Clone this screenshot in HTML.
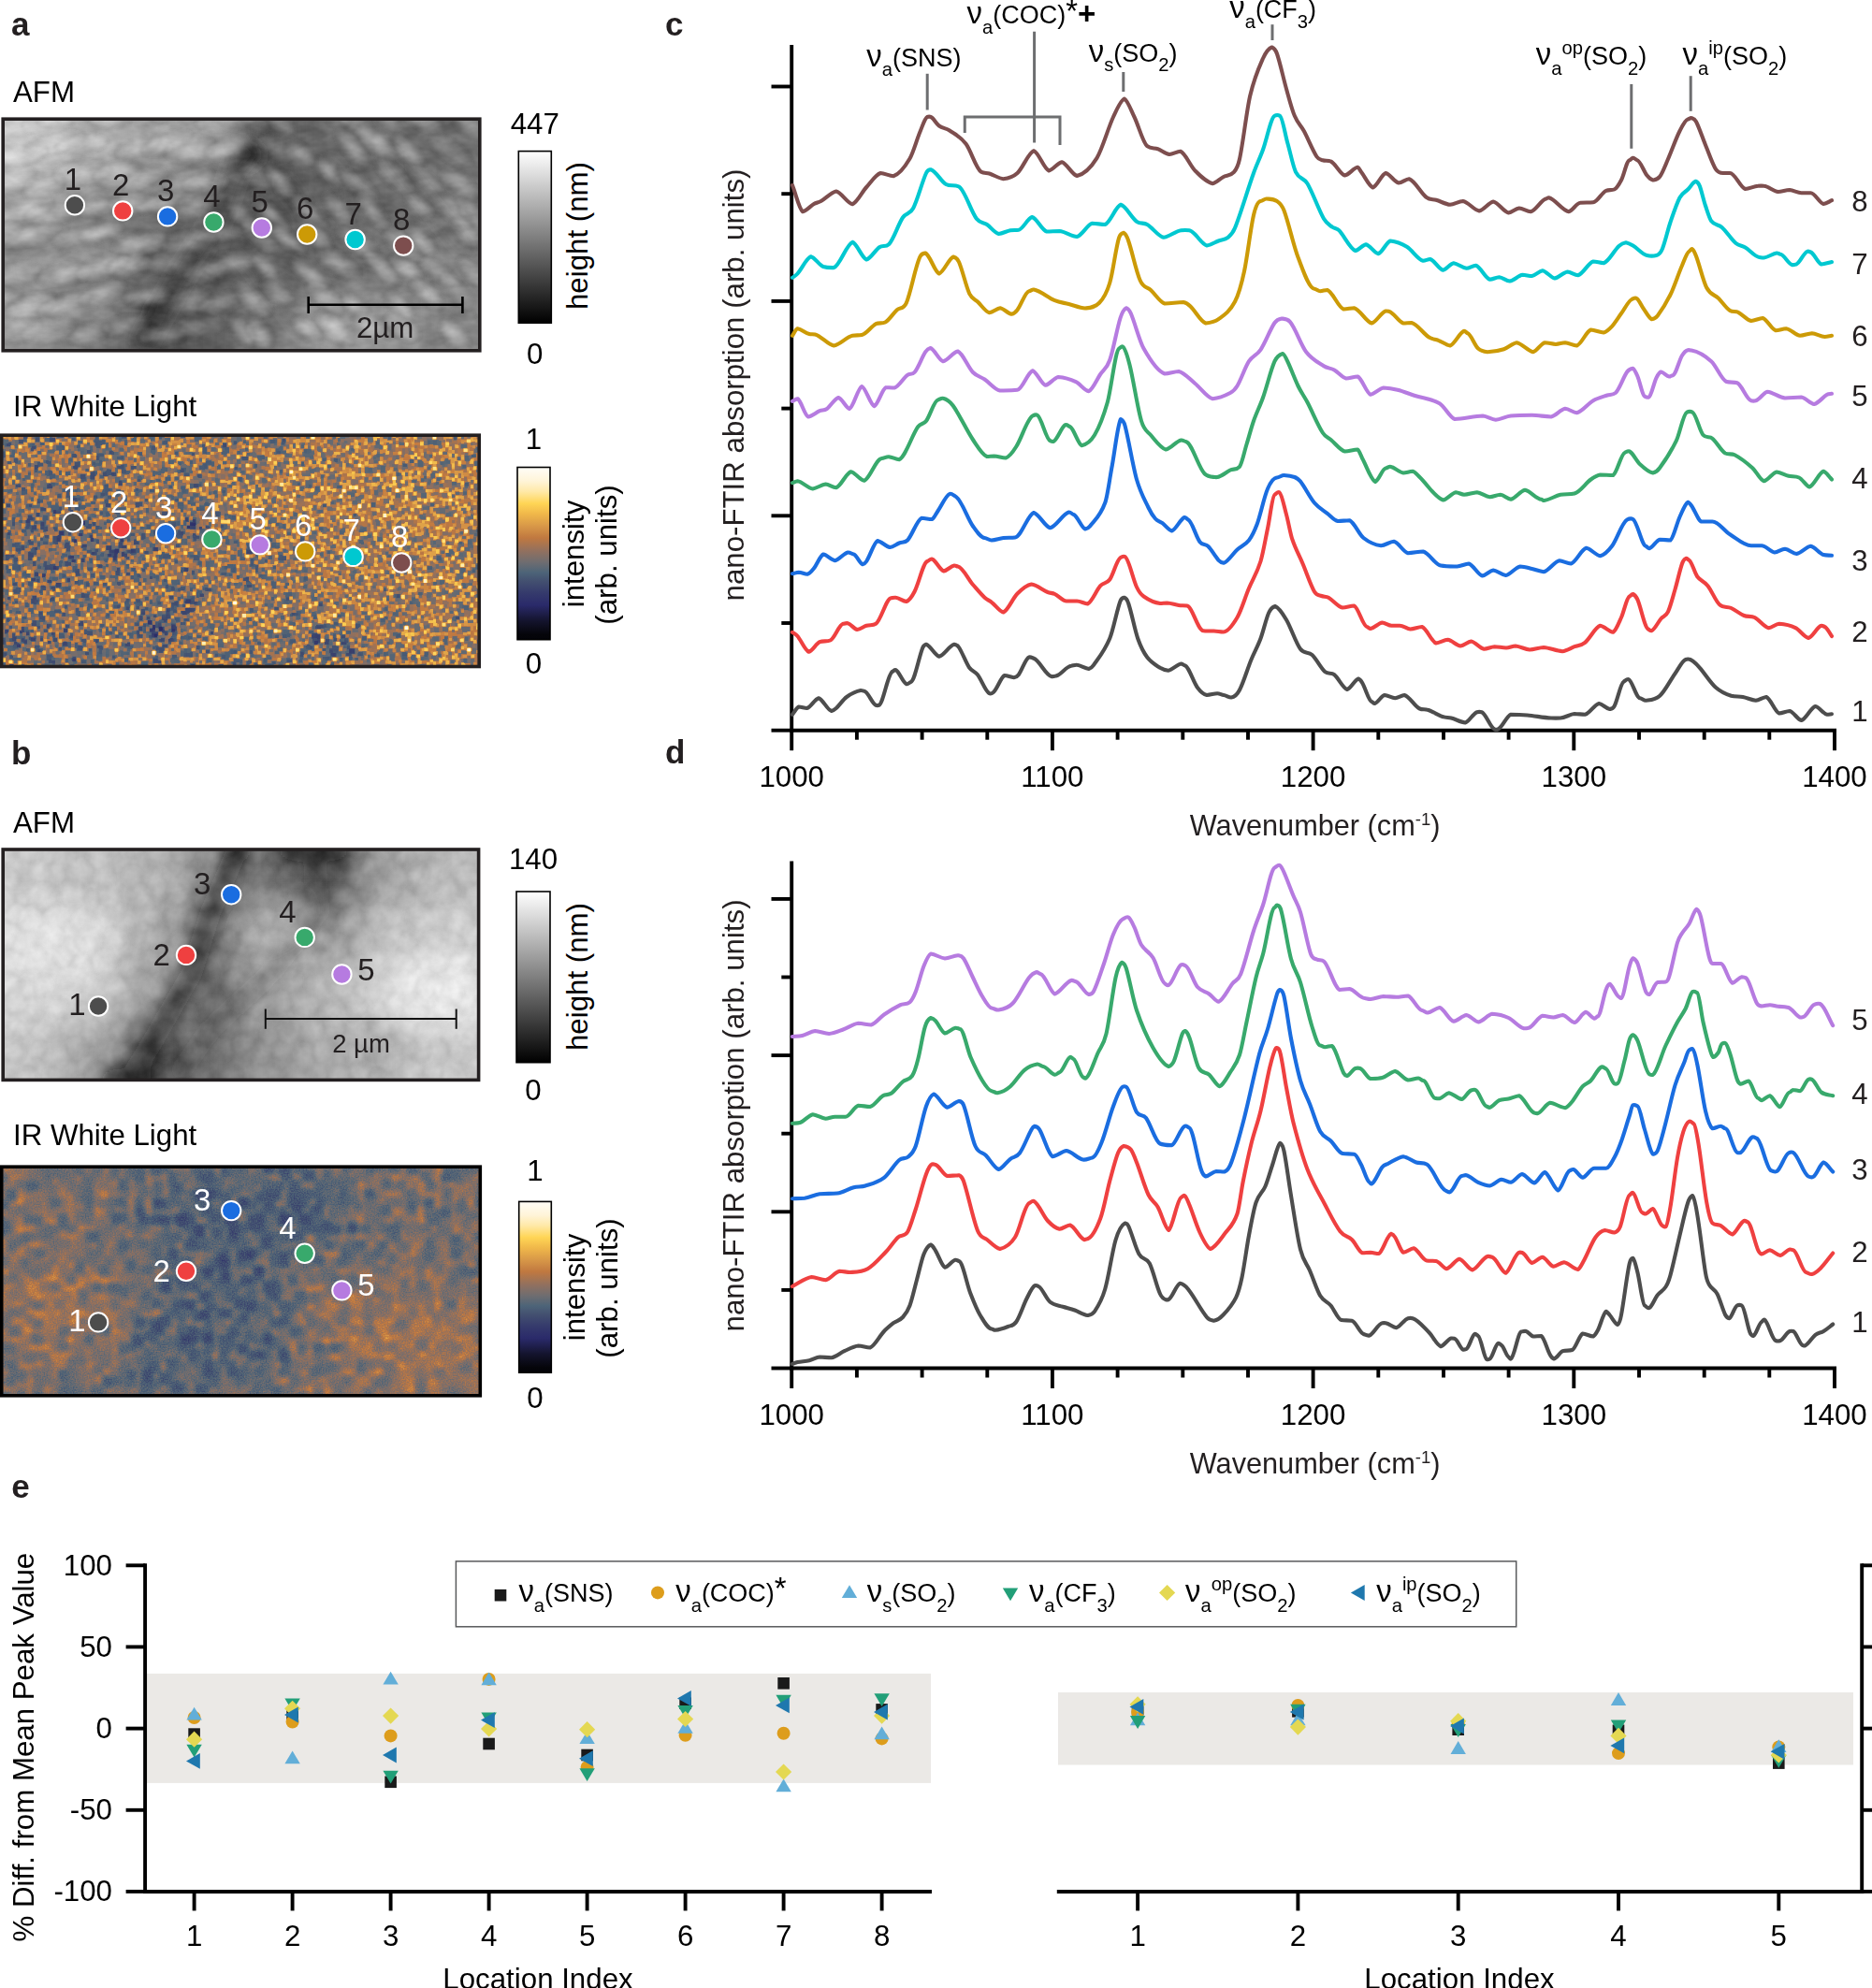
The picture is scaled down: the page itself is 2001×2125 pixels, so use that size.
<!DOCTYPE html>
<html><head><meta charset="utf-8"><title>Figure</title>
<style>
html,body{margin:0;padding:0;background:#fff;}
svg{display:block;font-family:"Liberation Sans", sans-serif;}
</style></head><body>
<svg width="2001" height="2125" viewBox="0 0 2001 2125">
<defs>
<linearGradient id="gGray" x1="0" y1="1" x2="0" y2="0"><stop offset="0" stop-color="#000"/><stop offset="1" stop-color="#fff"/></linearGradient>
<linearGradient id="gIR" x1="0" y1="1" x2="0" y2="0"><stop offset="0.00" stop-color="rgb(3,3,8)"/><stop offset="0.03" stop-color="rgb(5,5,10)"/><stop offset="0.11" stop-color="rgb(20,20,46)"/><stop offset="0.20" stop-color="rgb(42,42,106)"/><stop offset="0.27" stop-color="rgb(53,58,108)"/><stop offset="0.34" stop-color="rgb(67,80,112)"/><stop offset="0.39" stop-color="rgb(77,100,120)"/><stop offset="0.45" stop-color="rgb(111,109,112)"/><stop offset="0.51" stop-color="rgb(143,112,96)"/><stop offset="0.59" stop-color="rgb(192,120,64)"/><stop offset="0.66" stop-color="rgb(216,152,72)"/><stop offset="0.73" stop-color="rgb(240,184,74)"/><stop offset="0.79" stop-color="rgb(255,213,85)"/><stop offset="0.86" stop-color="rgb(255,233,168)"/><stop offset="0.92" stop-color="rgb(255,244,216)"/><stop offset="1.00" stop-color="rgb(255,253,248)"/></linearGradient>
<filter id="fIRa" x="0" y="0" width="100%" height="100%" filterUnits="objectBoundingBox" color-interpolation-filters="sRGB">
<feTurbulence type="fractalNoise" baseFrequency="0.3" numOctaves="1" seed="7" result="n"/>
<feColorMatrix in="n" type="matrix" values="1 0 0 0 0  1 0 0 0 0  1 0 0 0 0  0 0 0 0 1" result="g0"/>
<feMorphology in="g0" operator="dilate" radius="1.6" result="g1"/><feMorphology in="g1" operator="erode" radius="0.8" result="g"/>
<feComposite in="g" in2="SourceGraphic" operator="arithmetic" k1="0" k2="1.9" k3="1.0" k4="-1.22" result="m"/>
<feColorMatrix in="m" type="matrix" values="1 0 0 0 0  1 0 0 0 0  1 0 0 0 0  0 0 0 0 1" result="m2"/>
<feComponentTransfer in="m2"><feFuncR type="table" tableValues="0.012 0.021 0.044 0.066 0.093 0.123 0.153 0.176 0.196 0.217 0.241 0.266 0.290 0.338 0.408 0.475 0.540 0.612 0.687 0.758 0.800 0.842 0.884 0.926 0.961 0.991 1.000 1.000 1.000 1.000 1.000 1.000 1.000"/><feFuncG type="table" tableValues="0.012 0.021 0.044 0.066 0.093 0.123 0.153 0.182 0.210 0.241 0.280 0.320 0.369 0.402 0.420 0.431 0.437 0.448 0.460 0.477 0.533 0.589 0.645 0.701 0.759 0.819 0.861 0.896 0.925 0.947 0.965 0.978 0.992"/><feFuncB type="table" tableValues="0.031 0.041 0.097 0.152 0.220 0.301 0.383 0.418 0.421 0.426 0.433 0.442 0.461 0.462 0.446 0.420 0.387 0.343 0.294 0.253 0.267 0.281 0.285 0.289 0.305 0.327 0.438 0.583 0.706 0.804 0.875 0.924 0.973"/></feComponentTransfer>
</filter>
<filter id="fIRb" x="0" y="0" width="100%" height="100%" filterUnits="objectBoundingBox" color-interpolation-filters="sRGB">
<feTurbulence type="fractalNoise" baseFrequency="0.11" numOctaves="2" seed="11" result="n"/>
<feColorMatrix in="n" type="matrix" values="1 0 0 0 0  1 0 0 0 0  1 0 0 0 0  0 0 0 0 1" result="g0"/>
<feMorphology in="g0" operator="dilate" radius="4" result="g1"/><feMorphology in="g1" operator="erode" radius="4" result="g2"/>
<feGaussianBlur in="g2" stdDeviation="2.1" result="g"/>
<feTurbulence type="fractalNoise" baseFrequency="0.7" numOctaves="1" seed="14" result="n2"/>
<feColorMatrix in="n2" type="matrix" values="1 0 0 0 0  1 0 0 0 0  1 0 0 0 0  0 0 0 0 1" result="f"/>
<feComposite in="g" in2="f" operator="arithmetic" k1="0" k2="0.8" k3="0.22" k4="0" result="gf"/>
<feComposite in="gf" in2="SourceGraphic" operator="arithmetic" k1="0" k2="1" k3="0.8" k4="-0.535" result="m"/>
<feColorMatrix in="m" type="matrix" values="1 0 0 0 0  1 0 0 0 0  1 0 0 0 0  0 0 0 0 1" result="m2"/>
<feComponentTransfer in="m2"><feFuncR type="table" tableValues="0.012 0.021 0.044 0.066 0.093 0.123 0.153 0.176 0.196 0.217 0.241 0.266 0.290 0.338 0.408 0.475 0.540 0.612 0.687 0.758 0.800 0.842 0.884 0.926 0.961 0.991 1.000 1.000 1.000 1.000 1.000 1.000 1.000"/><feFuncG type="table" tableValues="0.012 0.021 0.044 0.066 0.093 0.123 0.153 0.182 0.210 0.241 0.280 0.320 0.369 0.402 0.420 0.431 0.437 0.448 0.460 0.477 0.533 0.589 0.645 0.701 0.759 0.819 0.861 0.896 0.925 0.947 0.965 0.978 0.992"/><feFuncB type="table" tableValues="0.031 0.041 0.097 0.152 0.220 0.301 0.383 0.418 0.421 0.426 0.433 0.442 0.461 0.462 0.446 0.420 0.387 0.343 0.294 0.253 0.267 0.281 0.285 0.289 0.305 0.327 0.438 0.583 0.706 0.804 0.875 0.924 0.973"/></feComponentTransfer>
</filter>
<filter id="fTexA" x="0" y="0" width="100%" height="100%" color-interpolation-filters="sRGB">
<feTurbulence type="fractalNoise" baseFrequency="0.04 0.07" numOctaves="3" seed="5" result="n"/>
<feColorMatrix in="n" type="matrix" values="1 0 0 0 0  1 0 0 0 0  1 0 0 0 0  0 0 0 0 1" result="g"/>
<feComposite in="SourceGraphic" in2="g" operator="arithmetic" k1="0" k2="1" k3="0.2" k4="-0.1"/>
</filter>
<filter id="fTexB" x="0" y="0" width="100%" height="100%" color-interpolation-filters="sRGB">
<feTurbulence type="fractalNoise" baseFrequency="0.06" numOctaves="3" seed="9" result="n"/>
<feColorMatrix in="n" type="matrix" values="1 0 0 0 0  1 0 0 0 0  1 0 0 0 0  0 0 0 0 1" result="g"/>
<feComposite in="SourceGraphic" in2="g" operator="arithmetic" k1="0" k2="1" k3="0.13" k4="-0.065"/>
</filter>
<filter id="b2" x="-50%" y="-50%" width="200%" height="200%"><feGaussianBlur stdDeviation="2"/></filter>
<filter id="b4" x="-50%" y="-50%" width="200%" height="200%"><feGaussianBlur stdDeviation="4"/></filter>
<filter id="b8" x="-50%" y="-50%" width="200%" height="200%"><feGaussianBlur stdDeviation="8"/></filter>
<filter id="b12" x="-50%" y="-50%" width="200%" height="200%"><feGaussianBlur stdDeviation="12"/></filter>
<filter id="b18" x="-50%" y="-50%" width="200%" height="200%"><feGaussianBlur stdDeviation="18"/></filter>
<filter id="b25" x="-50%" y="-50%" width="200%" height="200%"><feGaussianBlur stdDeviation="25"/></filter>
<radialGradient id="gBump"><stop offset="0" stop-color="#fff" stop-opacity="0.9"/><stop offset="0.6" stop-color="#fff" stop-opacity="0.45"/><stop offset="1" stop-color="#fff" stop-opacity="0"/></radialGradient>
<clipPath id="cAa"><rect x="3" y="127" width="510" height="248"/></clipPath>
<clipPath id="cIa"><rect x="0" y="465" width="512" height="247.5"/></clipPath>
<clipPath id="cAb"><rect x="3" y="909" width="508" height="246"/></clipPath>
<clipPath id="cIb"><rect x="0" y="1247" width="513.5" height="245"/></clipPath>
</defs>
<g clip-path="url(#cAa)"><g filter="url(#fTexA)">
<rect x="-2" y="122" width="520" height="258" fill="#888"/>
<g filter="url(#b18)">
<rect x="-61.2" y="64.5" width="64.8" height="63.0" fill="rgb(200,200,200)"/>
<rect x="2.5" y="64.5" width="64.8" height="63.0" fill="rgb(200,200,200)"/>
<rect x="66.2" y="64.5" width="64.8" height="63.0" fill="rgb(172,172,172)"/>
<rect x="130.0" y="64.5" width="64.8" height="63.0" fill="rgb(156,156,156)"/>
<rect x="193.8" y="64.5" width="64.8" height="63.0" fill="rgb(148,148,148)"/>
<rect x="257.5" y="64.5" width="64.8" height="63.0" fill="rgb(88,88,88)"/>
<rect x="321.2" y="64.5" width="64.8" height="63.0" fill="rgb(106,106,106)"/>
<rect x="385.0" y="64.5" width="64.8" height="63.0" fill="rgb(112,112,112)"/>
<rect x="448.8" y="64.5" width="64.8" height="63.0" fill="rgb(108,108,108)"/>
<rect x="512.5" y="64.5" width="64.8" height="63.0" fill="rgb(108,108,108)"/>
<rect x="-61.2" y="126.5" width="64.8" height="63.0" fill="rgb(200,200,200)"/>
<rect x="2.5" y="126.5" width="64.8" height="63.0" fill="rgb(200,200,200)"/>
<rect x="66.2" y="126.5" width="64.8" height="63.0" fill="rgb(172,172,172)"/>
<rect x="130.0" y="126.5" width="64.8" height="63.0" fill="rgb(156,156,156)"/>
<rect x="193.8" y="126.5" width="64.8" height="63.0" fill="rgb(148,148,148)"/>
<rect x="257.5" y="126.5" width="64.8" height="63.0" fill="rgb(88,88,88)"/>
<rect x="321.2" y="126.5" width="64.8" height="63.0" fill="rgb(106,106,106)"/>
<rect x="385.0" y="126.5" width="64.8" height="63.0" fill="rgb(112,112,112)"/>
<rect x="448.8" y="126.5" width="64.8" height="63.0" fill="rgb(108,108,108)"/>
<rect x="512.5" y="126.5" width="64.8" height="63.0" fill="rgb(108,108,108)"/>
<rect x="-61.2" y="188.5" width="64.8" height="63.0" fill="rgb(154,154,154)"/>
<rect x="2.5" y="188.5" width="64.8" height="63.0" fill="rgb(154,154,154)"/>
<rect x="66.2" y="188.5" width="64.8" height="63.0" fill="rgb(134,134,134)"/>
<rect x="130.0" y="188.5" width="64.8" height="63.0" fill="rgb(116,116,116)"/>
<rect x="193.8" y="188.5" width="64.8" height="63.0" fill="rgb(100,100,100)"/>
<rect x="257.5" y="188.5" width="64.8" height="63.0" fill="rgb(86,86,86)"/>
<rect x="321.2" y="188.5" width="64.8" height="63.0" fill="rgb(100,100,100)"/>
<rect x="385.0" y="188.5" width="64.8" height="63.0" fill="rgb(112,112,112)"/>
<rect x="448.8" y="188.5" width="64.8" height="63.0" fill="rgb(118,118,118)"/>
<rect x="512.5" y="188.5" width="64.8" height="63.0" fill="rgb(118,118,118)"/>
<rect x="-61.2" y="250.5" width="64.8" height="63.0" fill="rgb(134,134,134)"/>
<rect x="2.5" y="250.5" width="64.8" height="63.0" fill="rgb(134,134,134)"/>
<rect x="66.2" y="250.5" width="64.8" height="63.0" fill="rgb(134,134,134)"/>
<rect x="130.0" y="250.5" width="64.8" height="63.0" fill="rgb(102,102,102)"/>
<rect x="193.8" y="250.5" width="64.8" height="63.0" fill="rgb(88,88,88)"/>
<rect x="257.5" y="250.5" width="64.8" height="63.0" fill="rgb(96,96,96)"/>
<rect x="321.2" y="250.5" width="64.8" height="63.0" fill="rgb(104,104,104)"/>
<rect x="385.0" y="250.5" width="64.8" height="63.0" fill="rgb(114,114,114)"/>
<rect x="448.8" y="250.5" width="64.8" height="63.0" fill="rgb(130,130,130)"/>
<rect x="512.5" y="250.5" width="64.8" height="63.0" fill="rgb(130,130,130)"/>
<rect x="-61.2" y="312.5" width="64.8" height="63.0" fill="rgb(144,144,144)"/>
<rect x="2.5" y="312.5" width="64.8" height="63.0" fill="rgb(144,144,144)"/>
<rect x="66.2" y="312.5" width="64.8" height="63.0" fill="rgb(122,122,122)"/>
<rect x="130.0" y="312.5" width="64.8" height="63.0" fill="rgb(80,80,80)"/>
<rect x="193.8" y="312.5" width="64.8" height="63.0" fill="rgb(92,92,92)"/>
<rect x="257.5" y="312.5" width="64.8" height="63.0" fill="rgb(120,120,120)"/>
<rect x="321.2" y="312.5" width="64.8" height="63.0" fill="rgb(152,152,152)"/>
<rect x="385.0" y="312.5" width="64.8" height="63.0" fill="rgb(146,146,146)"/>
<rect x="448.8" y="312.5" width="64.8" height="63.0" fill="rgb(134,134,134)"/>
<rect x="512.5" y="312.5" width="64.8" height="63.0" fill="rgb(134,134,134)"/>
<rect x="-61.2" y="374.5" width="64.8" height="63.0" fill="rgb(144,144,144)"/>
<rect x="2.5" y="374.5" width="64.8" height="63.0" fill="rgb(144,144,144)"/>
<rect x="66.2" y="374.5" width="64.8" height="63.0" fill="rgb(122,122,122)"/>
<rect x="130.0" y="374.5" width="64.8" height="63.0" fill="rgb(80,80,80)"/>
<rect x="193.8" y="374.5" width="64.8" height="63.0" fill="rgb(92,92,92)"/>
<rect x="257.5" y="374.5" width="64.8" height="63.0" fill="rgb(120,120,120)"/>
<rect x="321.2" y="374.5" width="64.8" height="63.0" fill="rgb(152,152,152)"/>
<rect x="385.0" y="374.5" width="64.8" height="63.0" fill="rgb(146,146,146)"/>
<rect x="448.8" y="374.5" width="64.8" height="63.0" fill="rgb(134,134,134)"/>
<rect x="512.5" y="374.5" width="64.8" height="63.0" fill="rgb(134,134,134)"/>
</g>
<g filter="url(#b8)"><ellipse cx="268" cy="166" rx="12" ry="14" fill="#1c1c1c" opacity="0.9"/><ellipse cx="165" cy="330" rx="9" ry="10" fill="#0c0c0c" opacity="0.95"/><path d="M262,150 L235,230 L190,300 L150,372" stroke="#3a3a3a" stroke-width="20" fill="none" opacity="0.4"/><path d="M300,190 L380,300 M350,170 L440,290 M410,160 L500,270 M250,260 L330,360" stroke="#444" stroke-width="9" fill="none" opacity="0.45"/><path d="M20,160 L250,140 M10,215 L180,200 M30,290 L140,270 M10,340 L120,330" stroke="#d0d0d0" stroke-width="16" fill="none" opacity="0.28"/><path d="M330,235 L400,330 M380,215 L470,330 M290,290 L350,370" stroke="#aaa" stroke-width="12" fill="none" opacity="0.3"/></g><g filter="url(#b2)"><ellipse cx="-3" cy="121" rx="26" ry="9" fill="url(#gBump)" fill-opacity="0.35" stroke="#000" stroke-opacity="0.15" stroke-width="2.5" transform="rotate(-14 -3 121)"/><ellipse cx="51" cy="132" rx="26" ry="11" fill="url(#gBump)" fill-opacity="0.32" stroke="#000" stroke-opacity="0.15" stroke-width="2.5" transform="rotate(-8 51 132)"/><ellipse cx="71" cy="121" rx="33" ry="12" fill="url(#gBump)" fill-opacity="0.45" stroke="#000" stroke-opacity="0.15" stroke-width="2.5" transform="rotate(-17 71 121)"/><ellipse cx="124" cy="122" rx="30" ry="12" fill="url(#gBump)" fill-opacity="0.46" stroke="#000" stroke-opacity="0.15" stroke-width="2.5" transform="rotate(-15 124 122)"/><ellipse cx="164" cy="120" rx="31" ry="11" fill="url(#gBump)" fill-opacity="0.29" stroke="#000" stroke-opacity="0.15" stroke-width="2.5" transform="rotate(-10 164 120)"/><ellipse cx="192" cy="120" rx="33" ry="11" fill="url(#gBump)" fill-opacity="0.33" stroke="#000" stroke-opacity="0.15" stroke-width="2.5" transform="rotate(-5 192 120)"/><ellipse cx="241" cy="128" rx="32" ry="11" fill="url(#gBump)" fill-opacity="0.35" stroke="#000" stroke-opacity="0.15" stroke-width="2.5" transform="rotate(-6 241 128)"/><ellipse cx="271" cy="126" rx="21" ry="10" fill="url(#gBump)" fill-opacity="0.26" stroke="#000" stroke-opacity="0.15" stroke-width="2.5" transform="rotate(35 271 126)"/><ellipse cx="296" cy="129" rx="23" ry="9" fill="url(#gBump)" fill-opacity="0.34" stroke="#000" stroke-opacity="0.15" stroke-width="2.5" transform="rotate(38 296 129)"/><ellipse cx="357" cy="122" rx="20" ry="10" fill="url(#gBump)" fill-opacity="0.32" stroke="#000" stroke-opacity="0.15" stroke-width="2.5" transform="rotate(40 357 122)"/><ellipse cx="380" cy="131" rx="24" ry="11" fill="url(#gBump)" fill-opacity="0.28" stroke="#000" stroke-opacity="0.15" stroke-width="2.5" transform="rotate(38 380 131)"/><ellipse cx="410" cy="123" rx="24" ry="9" fill="url(#gBump)" fill-opacity="0.33" stroke="#000" stroke-opacity="0.15" stroke-width="2.5" transform="rotate(47 410 123)"/><ellipse cx="451" cy="126" rx="25" ry="11" fill="url(#gBump)" fill-opacity="0.49" stroke="#000" stroke-opacity="0.15" stroke-width="2.5" transform="rotate(33 451 126)"/><ellipse cx="503" cy="134" rx="21" ry="11" fill="url(#gBump)" fill-opacity="0.44" stroke="#000" stroke-opacity="0.15" stroke-width="2.5" transform="rotate(32 503 134)"/><ellipse cx="20" cy="166" rx="32" ry="10" fill="url(#gBump)" fill-opacity="0.30" stroke="#000" stroke-opacity="0.15" stroke-width="2.5" transform="rotate(-10 20 166)"/><ellipse cx="59" cy="153" rx="34" ry="10" fill="url(#gBump)" fill-opacity="0.25" stroke="#000" stroke-opacity="0.15" stroke-width="2.5" transform="rotate(-14 59 153)"/><ellipse cx="87" cy="154" rx="28" ry="10" fill="url(#gBump)" fill-opacity="0.27" stroke="#000" stroke-opacity="0.15" stroke-width="2.5" transform="rotate(-7 87 154)"/><ellipse cx="148" cy="158" rx="25" ry="9" fill="url(#gBump)" fill-opacity="0.29" stroke="#000" stroke-opacity="0.15" stroke-width="2.5" transform="rotate(-17 148 158)"/><ellipse cx="178" cy="153" rx="29" ry="10" fill="url(#gBump)" fill-opacity="0.50" stroke="#000" stroke-opacity="0.15" stroke-width="2.5" transform="rotate(-19 178 153)"/><ellipse cx="203" cy="159" rx="28" ry="13" fill="url(#gBump)" fill-opacity="0.37" stroke="#000" stroke-opacity="0.15" stroke-width="2.5" transform="rotate(-8 203 159)"/><ellipse cx="244" cy="158" rx="28" ry="10" fill="url(#gBump)" fill-opacity="0.47" stroke="#000" stroke-opacity="0.15" stroke-width="2.5" transform="rotate(-19 244 158)"/><ellipse cx="296" cy="159" rx="21" ry="9" fill="url(#gBump)" fill-opacity="0.30" stroke="#000" stroke-opacity="0.15" stroke-width="2.5" transform="rotate(33 296 159)"/><ellipse cx="320" cy="165" rx="19" ry="11" fill="url(#gBump)" fill-opacity="0.39" stroke="#000" stroke-opacity="0.15" stroke-width="2.5" transform="rotate(35 320 165)"/><ellipse cx="376" cy="157" rx="25" ry="10" fill="url(#gBump)" fill-opacity="0.44" stroke="#000" stroke-opacity="0.15" stroke-width="2.5" transform="rotate(50 376 157)"/><ellipse cx="402" cy="152" rx="27" ry="11" fill="url(#gBump)" fill-opacity="0.48" stroke="#000" stroke-opacity="0.15" stroke-width="2.5" transform="rotate(36 402 152)"/><ellipse cx="436" cy="162" rx="24" ry="10" fill="url(#gBump)" fill-opacity="0.38" stroke="#000" stroke-opacity="0.15" stroke-width="2.5" transform="rotate(48 436 162)"/><ellipse cx="482" cy="162" rx="27" ry="11" fill="url(#gBump)" fill-opacity="0.27" stroke="#000" stroke-opacity="0.15" stroke-width="2.5" transform="rotate(37 482 162)"/><ellipse cx="527" cy="166" rx="18" ry="11" fill="url(#gBump)" fill-opacity="0.28" stroke="#000" stroke-opacity="0.15" stroke-width="2.5" transform="rotate(45 527 166)"/><ellipse cx="14" cy="194" rx="26" ry="12" fill="url(#gBump)" fill-opacity="0.39" stroke="#000" stroke-opacity="0.15" stroke-width="2.5" transform="rotate(-19 14 194)"/><ellipse cx="47" cy="198" rx="24" ry="13" fill="url(#gBump)" fill-opacity="0.25" stroke="#000" stroke-opacity="0.15" stroke-width="2.5" transform="rotate(-17 47 198)"/><ellipse cx="88" cy="185" rx="32" ry="13" fill="url(#gBump)" fill-opacity="0.39" stroke="#000" stroke-opacity="0.15" stroke-width="2.5" transform="rotate(-7 88 185)"/><ellipse cx="126" cy="186" rx="27" ry="13" fill="url(#gBump)" fill-opacity="0.44" stroke="#000" stroke-opacity="0.15" stroke-width="2.5" transform="rotate(-9 126 186)"/><ellipse cx="154" cy="191" rx="24" ry="11" fill="url(#gBump)" fill-opacity="0.37" stroke="#000" stroke-opacity="0.15" stroke-width="2.5" transform="rotate(-20 154 191)"/><ellipse cx="202" cy="193" rx="28" ry="12" fill="url(#gBump)" fill-opacity="0.38" stroke="#000" stroke-opacity="0.15" stroke-width="2.5" transform="rotate(-18 202 193)"/><ellipse cx="219" cy="196" rx="25" ry="11" fill="url(#gBump)" fill-opacity="0.35" stroke="#000" stroke-opacity="0.15" stroke-width="2.5" transform="rotate(-7 219 196)"/><ellipse cx="276" cy="188" rx="23" ry="11" fill="url(#gBump)" fill-opacity="0.27" stroke="#000" stroke-opacity="0.15" stroke-width="2.5" transform="rotate(37 276 188)"/><ellipse cx="298" cy="193" rx="23" ry="9" fill="url(#gBump)" fill-opacity="0.46" stroke="#000" stroke-opacity="0.15" stroke-width="2.5" transform="rotate(50 298 193)"/><ellipse cx="352" cy="184" rx="20" ry="9" fill="url(#gBump)" fill-opacity="0.46" stroke="#000" stroke-opacity="0.15" stroke-width="2.5" transform="rotate(50 352 184)"/><ellipse cx="381" cy="196" rx="27" ry="9" fill="url(#gBump)" fill-opacity="0.29" stroke="#000" stroke-opacity="0.15" stroke-width="2.5" transform="rotate(35 381 196)"/><ellipse cx="421" cy="188" rx="27" ry="10" fill="url(#gBump)" fill-opacity="0.25" stroke="#000" stroke-opacity="0.15" stroke-width="2.5" transform="rotate(43 421 188)"/><ellipse cx="454" cy="192" rx="25" ry="9" fill="url(#gBump)" fill-opacity="0.27" stroke="#000" stroke-opacity="0.15" stroke-width="2.5" transform="rotate(42 454 192)"/><ellipse cx="491" cy="197" rx="26" ry="11" fill="url(#gBump)" fill-opacity="0.41" stroke="#000" stroke-opacity="0.15" stroke-width="2.5" transform="rotate(39 491 197)"/><ellipse cx="26" cy="225" rx="33" ry="11" fill="url(#gBump)" fill-opacity="0.48" stroke="#000" stroke-opacity="0.15" stroke-width="2.5" transform="rotate(-15 26 225)"/><ellipse cx="55" cy="229" rx="30" ry="11" fill="url(#gBump)" fill-opacity="0.29" stroke="#000" stroke-opacity="0.15" stroke-width="2.5" transform="rotate(-7 55 229)"/><ellipse cx="105" cy="221" rx="25" ry="9" fill="url(#gBump)" fill-opacity="0.29" stroke="#000" stroke-opacity="0.15" stroke-width="2.5" transform="rotate(-9 105 221)"/><ellipse cx="143" cy="218" rx="28" ry="11" fill="url(#gBump)" fill-opacity="0.34" stroke="#000" stroke-opacity="0.15" stroke-width="2.5" transform="rotate(-6 143 218)"/><ellipse cx="177" cy="216" rx="33" ry="10" fill="url(#gBump)" fill-opacity="0.41" stroke="#000" stroke-opacity="0.15" stroke-width="2.5" transform="rotate(-14 177 216)"/><ellipse cx="208" cy="220" rx="24" ry="13" fill="url(#gBump)" fill-opacity="0.46" stroke="#000" stroke-opacity="0.15" stroke-width="2.5" transform="rotate(-20 208 220)"/><ellipse cx="257" cy="228" rx="20" ry="10" fill="url(#gBump)" fill-opacity="0.37" stroke="#000" stroke-opacity="0.15" stroke-width="2.5" transform="rotate(51 257 228)"/><ellipse cx="290" cy="230" rx="28" ry="8" fill="url(#gBump)" fill-opacity="0.41" stroke="#000" stroke-opacity="0.15" stroke-width="2.5" transform="rotate(47 290 230)"/><ellipse cx="330" cy="227" rx="26" ry="9" fill="url(#gBump)" fill-opacity="0.48" stroke="#000" stroke-opacity="0.15" stroke-width="2.5" transform="rotate(44 330 227)"/><ellipse cx="362" cy="225" rx="25" ry="9" fill="url(#gBump)" fill-opacity="0.31" stroke="#000" stroke-opacity="0.15" stroke-width="2.5" transform="rotate(50 362 225)"/><ellipse cx="398" cy="225" rx="27" ry="9" fill="url(#gBump)" fill-opacity="0.35" stroke="#000" stroke-opacity="0.15" stroke-width="2.5" transform="rotate(52 398 225)"/><ellipse cx="448" cy="220" rx="18" ry="9" fill="url(#gBump)" fill-opacity="0.39" stroke="#000" stroke-opacity="0.15" stroke-width="2.5" transform="rotate(40 448 220)"/><ellipse cx="483" cy="225" rx="28" ry="10" fill="url(#gBump)" fill-opacity="0.29" stroke="#000" stroke-opacity="0.15" stroke-width="2.5" transform="rotate(39 483 225)"/><ellipse cx="506" cy="231" rx="27" ry="10" fill="url(#gBump)" fill-opacity="0.33" stroke="#000" stroke-opacity="0.15" stroke-width="2.5" transform="rotate(52 506 231)"/><ellipse cx="-7" cy="251" rx="33" ry="13" fill="url(#gBump)" fill-opacity="0.44" stroke="#000" stroke-opacity="0.15" stroke-width="2.5" transform="rotate(-16 -7 251)"/><ellipse cx="33" cy="251" rx="33" ry="10" fill="url(#gBump)" fill-opacity="0.45" stroke="#000" stroke-opacity="0.15" stroke-width="2.5" transform="rotate(-15 33 251)"/><ellipse cx="83" cy="256" rx="27" ry="11" fill="url(#gBump)" fill-opacity="0.29" stroke="#000" stroke-opacity="0.15" stroke-width="2.5" transform="rotate(-5 83 256)"/><ellipse cx="107" cy="248" rx="25" ry="9" fill="url(#gBump)" fill-opacity="0.50" stroke="#000" stroke-opacity="0.15" stroke-width="2.5" transform="rotate(-15 107 248)"/><ellipse cx="150" cy="261" rx="31" ry="12" fill="url(#gBump)" fill-opacity="0.49" stroke="#000" stroke-opacity="0.15" stroke-width="2.5" transform="rotate(-9 150 261)"/><ellipse cx="202" cy="259" rx="31" ry="12" fill="url(#gBump)" fill-opacity="0.39" stroke="#000" stroke-opacity="0.15" stroke-width="2.5" transform="rotate(-11 202 259)"/><ellipse cx="231" cy="249" rx="29" ry="9" fill="url(#gBump)" fill-opacity="0.29" stroke="#000" stroke-opacity="0.15" stroke-width="2.5" transform="rotate(-6 231 249)"/><ellipse cx="278" cy="251" rx="25" ry="11" fill="url(#gBump)" fill-opacity="0.33" stroke="#000" stroke-opacity="0.15" stroke-width="2.5" transform="rotate(40 278 251)"/><ellipse cx="304" cy="254" rx="27" ry="8" fill="url(#gBump)" fill-opacity="0.49" stroke="#000" stroke-opacity="0.15" stroke-width="2.5" transform="rotate(33 304 254)"/><ellipse cx="337" cy="250" rx="26" ry="9" fill="url(#gBump)" fill-opacity="0.39" stroke="#000" stroke-opacity="0.15" stroke-width="2.5" transform="rotate(49 337 250)"/><ellipse cx="382" cy="258" rx="26" ry="11" fill="url(#gBump)" fill-opacity="0.43" stroke="#000" stroke-opacity="0.15" stroke-width="2.5" transform="rotate(36 382 258)"/><ellipse cx="431" cy="262" rx="26" ry="11" fill="url(#gBump)" fill-opacity="0.40" stroke="#000" stroke-opacity="0.15" stroke-width="2.5" transform="rotate(40 431 262)"/><ellipse cx="450" cy="257" rx="21" ry="10" fill="url(#gBump)" fill-opacity="0.47" stroke="#000" stroke-opacity="0.15" stroke-width="2.5" transform="rotate(50 450 257)"/><ellipse cx="499" cy="248" rx="21" ry="11" fill="url(#gBump)" fill-opacity="0.42" stroke="#000" stroke-opacity="0.15" stroke-width="2.5" transform="rotate(45 499 248)"/><ellipse cx="17" cy="293" rx="27" ry="12" fill="url(#gBump)" fill-opacity="0.47" stroke="#000" stroke-opacity="0.15" stroke-width="2.5" transform="rotate(-10 17 293)"/><ellipse cx="69" cy="293" rx="31" ry="11" fill="url(#gBump)" fill-opacity="0.38" stroke="#000" stroke-opacity="0.15" stroke-width="2.5" transform="rotate(-9 69 293)"/><ellipse cx="110" cy="285" rx="31" ry="11" fill="url(#gBump)" fill-opacity="0.39" stroke="#000" stroke-opacity="0.15" stroke-width="2.5" transform="rotate(-19 110 285)"/><ellipse cx="138" cy="283" rx="25" ry="12" fill="url(#gBump)" fill-opacity="0.48" stroke="#000" stroke-opacity="0.15" stroke-width="2.5" transform="rotate(-17 138 283)"/><ellipse cx="179" cy="281" rx="32" ry="11" fill="url(#gBump)" fill-opacity="0.25" stroke="#000" stroke-opacity="0.15" stroke-width="2.5" transform="rotate(-4 179 281)"/><ellipse cx="220" cy="289" rx="24" ry="12" fill="url(#gBump)" fill-opacity="0.26" stroke="#000" stroke-opacity="0.15" stroke-width="2.5" transform="rotate(-10 220 289)"/><ellipse cx="249" cy="281" rx="33" ry="12" fill="url(#gBump)" fill-opacity="0.45" stroke="#000" stroke-opacity="0.15" stroke-width="2.5" transform="rotate(-14 249 281)"/><ellipse cx="283" cy="285" rx="18" ry="9" fill="url(#gBump)" fill-opacity="0.49" stroke="#000" stroke-opacity="0.15" stroke-width="2.5" transform="rotate(44 283 285)"/><ellipse cx="332" cy="293" rx="25" ry="10" fill="url(#gBump)" fill-opacity="0.43" stroke="#000" stroke-opacity="0.15" stroke-width="2.5" transform="rotate(38 332 293)"/><ellipse cx="362" cy="282" rx="27" ry="11" fill="url(#gBump)" fill-opacity="0.32" stroke="#000" stroke-opacity="0.15" stroke-width="2.5" transform="rotate(32 362 282)"/><ellipse cx="408" cy="286" rx="26" ry="9" fill="url(#gBump)" fill-opacity="0.41" stroke="#000" stroke-opacity="0.15" stroke-width="2.5" transform="rotate(45 408 286)"/><ellipse cx="434" cy="287" rx="21" ry="9" fill="url(#gBump)" fill-opacity="0.48" stroke="#000" stroke-opacity="0.15" stroke-width="2.5" transform="rotate(33 434 287)"/><ellipse cx="469" cy="291" rx="28" ry="8" fill="url(#gBump)" fill-opacity="0.27" stroke="#000" stroke-opacity="0.15" stroke-width="2.5" transform="rotate(34 469 291)"/><ellipse cx="509" cy="294" rx="27" ry="9" fill="url(#gBump)" fill-opacity="0.28" stroke="#000" stroke-opacity="0.15" stroke-width="2.5" transform="rotate(45 509 294)"/><ellipse cx="-1" cy="318" rx="26" ry="10" fill="url(#gBump)" fill-opacity="0.46" stroke="#000" stroke-opacity="0.15" stroke-width="2.5" transform="rotate(-4 -1 318)"/><ellipse cx="32" cy="327" rx="30" ry="12" fill="url(#gBump)" fill-opacity="0.48" stroke="#000" stroke-opacity="0.15" stroke-width="2.5" transform="rotate(-15 32 327)"/><ellipse cx="69" cy="325" rx="31" ry="9" fill="url(#gBump)" fill-opacity="0.44" stroke="#000" stroke-opacity="0.15" stroke-width="2.5" transform="rotate(-17 69 325)"/><ellipse cx="109" cy="314" rx="27" ry="10" fill="url(#gBump)" fill-opacity="0.50" stroke="#000" stroke-opacity="0.15" stroke-width="2.5" transform="rotate(-19 109 314)"/><ellipse cx="158" cy="317" rx="26" ry="10" fill="url(#gBump)" fill-opacity="0.49" stroke="#000" stroke-opacity="0.15" stroke-width="2.5" transform="rotate(-4 158 317)"/><ellipse cx="204" cy="322" rx="25" ry="13" fill="url(#gBump)" fill-opacity="0.43" stroke="#000" stroke-opacity="0.15" stroke-width="2.5" transform="rotate(-4 204 322)"/><ellipse cx="235" cy="324" rx="26" ry="10" fill="url(#gBump)" fill-opacity="0.37" stroke="#000" stroke-opacity="0.15" stroke-width="2.5" transform="rotate(-18 235 324)"/><ellipse cx="270" cy="320" rx="25" ry="11" fill="url(#gBump)" fill-opacity="0.44" stroke="#000" stroke-opacity="0.15" stroke-width="2.5" transform="rotate(39 270 320)"/><ellipse cx="296" cy="313" rx="20" ry="10" fill="url(#gBump)" fill-opacity="0.30" stroke="#000" stroke-opacity="0.15" stroke-width="2.5" transform="rotate(36 296 313)"/><ellipse cx="348" cy="317" rx="25" ry="11" fill="url(#gBump)" fill-opacity="0.30" stroke="#000" stroke-opacity="0.15" stroke-width="2.5" transform="rotate(39 348 317)"/><ellipse cx="379" cy="327" rx="18" ry="9" fill="url(#gBump)" fill-opacity="0.46" stroke="#000" stroke-opacity="0.15" stroke-width="2.5" transform="rotate(36 379 327)"/><ellipse cx="427" cy="326" rx="18" ry="9" fill="url(#gBump)" fill-opacity="0.43" stroke="#000" stroke-opacity="0.15" stroke-width="2.5" transform="rotate(42 427 326)"/><ellipse cx="456" cy="313" rx="23" ry="9" fill="url(#gBump)" fill-opacity="0.36" stroke="#000" stroke-opacity="0.15" stroke-width="2.5" transform="rotate(40 456 313)"/><ellipse cx="488" cy="311" rx="25" ry="9" fill="url(#gBump)" fill-opacity="0.28" stroke="#000" stroke-opacity="0.15" stroke-width="2.5" transform="rotate(48 488 311)"/><ellipse cx="17" cy="352" rx="29" ry="13" fill="url(#gBump)" fill-opacity="0.38" stroke="#000" stroke-opacity="0.15" stroke-width="2.5" transform="rotate(-6 17 352)"/><ellipse cx="52" cy="353" rx="30" ry="12" fill="url(#gBump)" fill-opacity="0.26" stroke="#000" stroke-opacity="0.15" stroke-width="2.5" transform="rotate(-10 52 353)"/><ellipse cx="96" cy="356" rx="24" ry="10" fill="url(#gBump)" fill-opacity="0.32" stroke="#000" stroke-opacity="0.15" stroke-width="2.5" transform="rotate(-18 96 356)"/><ellipse cx="134" cy="348" rx="26" ry="10" fill="url(#gBump)" fill-opacity="0.42" stroke="#000" stroke-opacity="0.15" stroke-width="2.5" transform="rotate(-10 134 348)"/><ellipse cx="175" cy="358" rx="27" ry="10" fill="url(#gBump)" fill-opacity="0.38" stroke="#000" stroke-opacity="0.15" stroke-width="2.5" transform="rotate(-5 175 358)"/><ellipse cx="213" cy="349" rx="26" ry="11" fill="url(#gBump)" fill-opacity="0.28" stroke="#000" stroke-opacity="0.15" stroke-width="2.5" transform="rotate(-6 213 349)"/><ellipse cx="259" cy="353" rx="19" ry="10" fill="url(#gBump)" fill-opacity="0.40" stroke="#000" stroke-opacity="0.15" stroke-width="2.5" transform="rotate(52 259 353)"/><ellipse cx="277" cy="356" rx="19" ry="11" fill="url(#gBump)" fill-opacity="0.45" stroke="#000" stroke-opacity="0.15" stroke-width="2.5" transform="rotate(49 277 356)"/><ellipse cx="329" cy="352" rx="19" ry="9" fill="url(#gBump)" fill-opacity="0.47" stroke="#000" stroke-opacity="0.15" stroke-width="2.5" transform="rotate(37 329 352)"/><ellipse cx="357" cy="351" rx="25" ry="11" fill="url(#gBump)" fill-opacity="0.47" stroke="#000" stroke-opacity="0.15" stroke-width="2.5" transform="rotate(38 357 351)"/><ellipse cx="397" cy="350" rx="23" ry="11" fill="url(#gBump)" fill-opacity="0.46" stroke="#000" stroke-opacity="0.15" stroke-width="2.5" transform="rotate(32 397 350)"/><ellipse cx="430" cy="350" rx="22" ry="11" fill="url(#gBump)" fill-opacity="0.32" stroke="#000" stroke-opacity="0.15" stroke-width="2.5" transform="rotate(34 430 350)"/><ellipse cx="486" cy="358" rx="20" ry="11" fill="url(#gBump)" fill-opacity="0.48" stroke="#000" stroke-opacity="0.15" stroke-width="2.5" transform="rotate(48 486 358)"/><ellipse cx="528" cy="343" rx="21" ry="10" fill="url(#gBump)" fill-opacity="0.36" stroke="#000" stroke-opacity="0.15" stroke-width="2.5" transform="rotate(32 528 343)"/></g>
</g></g>
<rect x="3.2" y="127.2" width="509.6" height="247.6" fill="none" stroke="#231f20" stroke-width="3.6"/>
<g clip-path="url(#cIa)"><g filter="url(#fIRa)">
<rect x="0" y="465" width="513" height="248" fill="#8a8a8a"/>
<g filter="url(#b18)"><rect x="-20" y="440" width="180" height="300" fill="#888888"/><rect x="330" y="440" width="220" height="300" fill="#949494"/><ellipse cx="60" cy="570" rx="60" ry="30" fill="#7a7a7a"/><ellipse cx="60" cy="690" rx="50" ry="14" fill="#747474"/><ellipse cx="300" cy="540" rx="90" ry="40" fill="#989898"/><ellipse cx="430" cy="560" rx="70" ry="50" fill="#9a9a9a"/><ellipse cx="260" cy="650" rx="40" ry="30" fill="#989898"/></g>
<g filter="url(#b8)" opacity="0.9"><ellipse cx="208" cy="562" rx="16" ry="12" fill="#5a5a5a"/><ellipse cx="130" cy="588" rx="14" ry="9" fill="#626262"/><ellipse cx="168" cy="672" rx="20" ry="12" fill="#585858"/><ellipse cx="200" cy="642" rx="10" ry="9" fill="#5e5e5e"/><ellipse cx="362" cy="692" rx="42" ry="7" fill="#5c5c5c" transform="rotate(22 362 692)"/><ellipse cx="422" cy="650" rx="10" ry="8" fill="#626262"/><ellipse cx="55" cy="615" rx="14" ry="8" fill="#6a6a6a"/><ellipse cx="25" cy="680" rx="16" ry="7" fill="#666"/><ellipse cx="268" cy="610" rx="10" ry="14" fill="#6c6c6c" transform="rotate(30 268 610)"/></g>
</g></g>
<rect x="1.6" y="465.2" width="510.6" height="247.3" fill="none" stroke="#231f20" stroke-width="3.6"/>
<g clip-path="url(#cAb)"><g filter="url(#fTexB)">
<rect x="-2" y="904" width="518" height="256" fill="#888"/>
<g filter="url(#b18)">
<rect x="-61.0" y="847.0" width="64.5" height="62.5" fill="rgb(200,200,200)"/>
<rect x="2.5" y="847.0" width="64.5" height="62.5" fill="rgb(200,200,200)"/>
<rect x="66.0" y="847.0" width="64.5" height="62.5" fill="rgb(192,192,192)"/>
<rect x="129.5" y="847.0" width="64.5" height="62.5" fill="rgb(178,178,178)"/>
<rect x="193.0" y="847.0" width="64.5" height="62.5" fill="rgb(138,138,138)"/>
<rect x="256.5" y="847.0" width="64.5" height="62.5" fill="rgb(108,108,108)"/>
<rect x="320.0" y="847.0" width="64.5" height="62.5" fill="rgb(68,68,68)"/>
<rect x="383.5" y="847.0" width="64.5" height="62.5" fill="rgb(160,160,160)"/>
<rect x="447.0" y="847.0" width="64.5" height="62.5" fill="rgb(184,184,184)"/>
<rect x="510.5" y="847.0" width="64.5" height="62.5" fill="rgb(184,184,184)"/>
<rect x="-61.0" y="908.5" width="64.5" height="62.5" fill="rgb(200,200,200)"/>
<rect x="2.5" y="908.5" width="64.5" height="62.5" fill="rgb(200,200,200)"/>
<rect x="66.0" y="908.5" width="64.5" height="62.5" fill="rgb(192,192,192)"/>
<rect x="129.5" y="908.5" width="64.5" height="62.5" fill="rgb(178,178,178)"/>
<rect x="193.0" y="908.5" width="64.5" height="62.5" fill="rgb(138,138,138)"/>
<rect x="256.5" y="908.5" width="64.5" height="62.5" fill="rgb(108,108,108)"/>
<rect x="320.0" y="908.5" width="64.5" height="62.5" fill="rgb(68,68,68)"/>
<rect x="383.5" y="908.5" width="64.5" height="62.5" fill="rgb(160,160,160)"/>
<rect x="447.0" y="908.5" width="64.5" height="62.5" fill="rgb(184,184,184)"/>
<rect x="510.5" y="908.5" width="64.5" height="62.5" fill="rgb(184,184,184)"/>
<rect x="-61.0" y="970.0" width="64.5" height="62.5" fill="rgb(224,224,224)"/>
<rect x="2.5" y="970.0" width="64.5" height="62.5" fill="rgb(224,224,224)"/>
<rect x="66.0" y="970.0" width="64.5" height="62.5" fill="rgb(212,212,212)"/>
<rect x="129.5" y="970.0" width="64.5" height="62.5" fill="rgb(172,172,172)"/>
<rect x="193.0" y="970.0" width="64.5" height="62.5" fill="rgb(108,108,108)"/>
<rect x="256.5" y="970.0" width="64.5" height="62.5" fill="rgb(166,166,166)"/>
<rect x="320.0" y="970.0" width="64.5" height="62.5" fill="rgb(146,146,146)"/>
<rect x="383.5" y="970.0" width="64.5" height="62.5" fill="rgb(196,196,196)"/>
<rect x="447.0" y="970.0" width="64.5" height="62.5" fill="rgb(208,208,208)"/>
<rect x="510.5" y="970.0" width="64.5" height="62.5" fill="rgb(208,208,208)"/>
<rect x="-61.0" y="1031.5" width="64.5" height="62.5" fill="rgb(216,216,216)"/>
<rect x="2.5" y="1031.5" width="64.5" height="62.5" fill="rgb(216,216,216)"/>
<rect x="66.0" y="1031.5" width="64.5" height="62.5" fill="rgb(208,208,208)"/>
<rect x="129.5" y="1031.5" width="64.5" height="62.5" fill="rgb(156,156,156)"/>
<rect x="193.0" y="1031.5" width="64.5" height="62.5" fill="rgb(100,100,100)"/>
<rect x="256.5" y="1031.5" width="64.5" height="62.5" fill="rgb(156,156,156)"/>
<rect x="320.0" y="1031.5" width="64.5" height="62.5" fill="rgb(184,184,184)"/>
<rect x="383.5" y="1031.5" width="64.5" height="62.5" fill="rgb(216,216,216)"/>
<rect x="447.0" y="1031.5" width="64.5" height="62.5" fill="rgb(228,228,228)"/>
<rect x="510.5" y="1031.5" width="64.5" height="62.5" fill="rgb(228,228,228)"/>
<rect x="-61.0" y="1093.0" width="64.5" height="62.5" fill="rgb(196,196,196)"/>
<rect x="2.5" y="1093.0" width="64.5" height="62.5" fill="rgb(196,196,196)"/>
<rect x="66.0" y="1093.0" width="64.5" height="62.5" fill="rgb(160,160,160)"/>
<rect x="129.5" y="1093.0" width="64.5" height="62.5" fill="rgb(60,60,60)"/>
<rect x="193.0" y="1093.0" width="64.5" height="62.5" fill="rgb(106,106,106)"/>
<rect x="256.5" y="1093.0" width="64.5" height="62.5" fill="rgb(146,146,146)"/>
<rect x="320.0" y="1093.0" width="64.5" height="62.5" fill="rgb(168,168,168)"/>
<rect x="383.5" y="1093.0" width="64.5" height="62.5" fill="rgb(180,180,180)"/>
<rect x="447.0" y="1093.0" width="64.5" height="62.5" fill="rgb(200,200,200)"/>
<rect x="510.5" y="1093.0" width="64.5" height="62.5" fill="rgb(200,200,200)"/>
<rect x="-61.0" y="1154.5" width="64.5" height="62.5" fill="rgb(196,196,196)"/>
<rect x="2.5" y="1154.5" width="64.5" height="62.5" fill="rgb(196,196,196)"/>
<rect x="66.0" y="1154.5" width="64.5" height="62.5" fill="rgb(160,160,160)"/>
<rect x="129.5" y="1154.5" width="64.5" height="62.5" fill="rgb(60,60,60)"/>
<rect x="193.0" y="1154.5" width="64.5" height="62.5" fill="rgb(106,106,106)"/>
<rect x="256.5" y="1154.5" width="64.5" height="62.5" fill="rgb(146,146,146)"/>
<rect x="320.0" y="1154.5" width="64.5" height="62.5" fill="rgb(168,168,168)"/>
<rect x="383.5" y="1154.5" width="64.5" height="62.5" fill="rgb(180,180,180)"/>
<rect x="447.0" y="1154.5" width="64.5" height="62.5" fill="rgb(200,200,200)"/>
<rect x="510.5" y="1154.5" width="64.5" height="62.5" fill="rgb(200,200,200)"/>
</g>
<g filter="url(#b8)"><path d="M255,905 L225,975 L205,1040 L165,1110 L135,1160" stroke="#141414" stroke-width="22" fill="none" opacity="0.62"/><path d="M335,900 L340,975 L290,1040 L225,1100 L190,1150" stroke="#2a2a2a" stroke-width="14" fill="none" opacity="0.3"/><ellipse cx="335" cy="910" rx="40" ry="12" fill="#0a0a0a" opacity="0.85"/><ellipse cx="255" cy="910" rx="14" ry="10" fill="#111" opacity="0.7"/><ellipse cx="135" cy="1152" rx="30" ry="10" fill="#0a0a0a" opacity="0.85"/><ellipse cx="70" cy="1010" rx="55" ry="40" fill="#eee" opacity="0.35"/><ellipse cx="460" cy="1060" rx="45" ry="45" fill="#f4f4f4" opacity="0.4"/><ellipse cx="290" cy="985" rx="40" ry="22" fill="#bbb" opacity="0.35" transform="rotate(-35 290 985)"/><path d="M400,1090 L402,1150" stroke="#666" stroke-width="8" fill="none" opacity="0.4"/></g><g filter="url(#b2)"><circle cx="2" cy="910" r="15" fill="url(#gBump)" fill-opacity="0.14" stroke="#000" stroke-opacity="0.07" stroke-width="2"/><circle cx="27" cy="910" r="11" fill="url(#gBump)" fill-opacity="0.14" stroke="#000" stroke-opacity="0.07" stroke-width="2"/><circle cx="53" cy="913" r="10" fill="url(#gBump)" fill-opacity="0.12" stroke="#000" stroke-opacity="0.07" stroke-width="2"/><circle cx="69" cy="913" r="13" fill="url(#gBump)" fill-opacity="0.09" stroke="#000" stroke-opacity="0.07" stroke-width="2"/><circle cx="106" cy="916" r="13" fill="url(#gBump)" fill-opacity="0.15" stroke="#000" stroke-opacity="0.07" stroke-width="2"/><circle cx="118" cy="902" r="13" fill="url(#gBump)" fill-opacity="0.09" stroke="#000" stroke-opacity="0.07" stroke-width="2"/><circle cx="143" cy="905" r="10" fill="url(#gBump)" fill-opacity="0.14" stroke="#000" stroke-opacity="0.07" stroke-width="2"/><circle cx="170" cy="914" r="13" fill="url(#gBump)" fill-opacity="0.16" stroke="#000" stroke-opacity="0.07" stroke-width="2"/><circle cx="195" cy="911" r="12" fill="url(#gBump)" fill-opacity="0.11" stroke="#000" stroke-opacity="0.07" stroke-width="2"/><circle cx="226" cy="916" r="14" fill="url(#gBump)" fill-opacity="0.16" stroke="#000" stroke-opacity="0.07" stroke-width="2"/><circle cx="240" cy="905" r="11" fill="url(#gBump)" fill-opacity="0.09" stroke="#000" stroke-opacity="0.07" stroke-width="2"/><circle cx="271" cy="908" r="14" fill="url(#gBump)" fill-opacity="0.13" stroke="#000" stroke-opacity="0.07" stroke-width="2"/><circle cx="297" cy="914" r="10" fill="url(#gBump)" fill-opacity="0.11" stroke="#000" stroke-opacity="0.07" stroke-width="2"/><circle cx="321" cy="909" r="15" fill="url(#gBump)" fill-opacity="0.13" stroke="#000" stroke-opacity="0.07" stroke-width="2"/><circle cx="333" cy="911" r="14" fill="url(#gBump)" fill-opacity="0.11" stroke="#000" stroke-opacity="0.07" stroke-width="2"/><circle cx="357" cy="907" r="15" fill="url(#gBump)" fill-opacity="0.17" stroke="#000" stroke-opacity="0.07" stroke-width="2"/><circle cx="382" cy="905" r="11" fill="url(#gBump)" fill-opacity="0.09" stroke="#000" stroke-opacity="0.07" stroke-width="2"/><circle cx="415" cy="904" r="13" fill="url(#gBump)" fill-opacity="0.13" stroke="#000" stroke-opacity="0.07" stroke-width="2"/><circle cx="431" cy="912" r="11" fill="url(#gBump)" fill-opacity="0.16" stroke="#000" stroke-opacity="0.07" stroke-width="2"/><circle cx="454" cy="908" r="11" fill="url(#gBump)" fill-opacity="0.11" stroke="#000" stroke-opacity="0.07" stroke-width="2"/><circle cx="490" cy="913" r="12" fill="url(#gBump)" fill-opacity="0.19" stroke="#000" stroke-opacity="0.07" stroke-width="2"/><circle cx="503" cy="908" r="14" fill="url(#gBump)" fill-opacity="0.16" stroke="#000" stroke-opacity="0.07" stroke-width="2"/><circle cx="9" cy="940" r="11" fill="url(#gBump)" fill-opacity="0.11" stroke="#000" stroke-opacity="0.07" stroke-width="2"/><circle cx="43" cy="931" r="11" fill="url(#gBump)" fill-opacity="0.09" stroke="#000" stroke-opacity="0.07" stroke-width="2"/><circle cx="57" cy="934" r="11" fill="url(#gBump)" fill-opacity="0.15" stroke="#000" stroke-opacity="0.07" stroke-width="2"/><circle cx="85" cy="932" r="15" fill="url(#gBump)" fill-opacity="0.14" stroke="#000" stroke-opacity="0.07" stroke-width="2"/><circle cx="112" cy="938" r="11" fill="url(#gBump)" fill-opacity="0.10" stroke="#000" stroke-opacity="0.07" stroke-width="2"/><circle cx="141" cy="937" r="11" fill="url(#gBump)" fill-opacity="0.10" stroke="#000" stroke-opacity="0.07" stroke-width="2"/><circle cx="162" cy="939" r="11" fill="url(#gBump)" fill-opacity="0.19" stroke="#000" stroke-opacity="0.07" stroke-width="2"/><circle cx="188" cy="934" r="12" fill="url(#gBump)" fill-opacity="0.09" stroke="#000" stroke-opacity="0.07" stroke-width="2"/><circle cx="201" cy="939" r="11" fill="url(#gBump)" fill-opacity="0.16" stroke="#000" stroke-opacity="0.07" stroke-width="2"/><circle cx="228" cy="938" r="13" fill="url(#gBump)" fill-opacity="0.12" stroke="#000" stroke-opacity="0.07" stroke-width="2"/><circle cx="250" cy="936" r="10" fill="url(#gBump)" fill-opacity="0.11" stroke="#000" stroke-opacity="0.07" stroke-width="2"/><circle cx="280" cy="938" r="13" fill="url(#gBump)" fill-opacity="0.11" stroke="#000" stroke-opacity="0.07" stroke-width="2"/><circle cx="309" cy="929" r="10" fill="url(#gBump)" fill-opacity="0.11" stroke="#000" stroke-opacity="0.07" stroke-width="2"/><circle cx="326" cy="927" r="11" fill="url(#gBump)" fill-opacity="0.12" stroke="#000" stroke-opacity="0.07" stroke-width="2"/><circle cx="352" cy="928" r="12" fill="url(#gBump)" fill-opacity="0.19" stroke="#000" stroke-opacity="0.07" stroke-width="2"/><circle cx="382" cy="935" r="13" fill="url(#gBump)" fill-opacity="0.15" stroke="#000" stroke-opacity="0.07" stroke-width="2"/><circle cx="394" cy="926" r="10" fill="url(#gBump)" fill-opacity="0.19" stroke="#000" stroke-opacity="0.07" stroke-width="2"/><circle cx="426" cy="939" r="10" fill="url(#gBump)" fill-opacity="0.16" stroke="#000" stroke-opacity="0.07" stroke-width="2"/><circle cx="447" cy="936" r="12" fill="url(#gBump)" fill-opacity="0.20" stroke="#000" stroke-opacity="0.07" stroke-width="2"/><circle cx="465" cy="934" r="14" fill="url(#gBump)" fill-opacity="0.19" stroke="#000" stroke-opacity="0.07" stroke-width="2"/><circle cx="498" cy="936" r="14" fill="url(#gBump)" fill-opacity="0.19" stroke="#000" stroke-opacity="0.07" stroke-width="2"/><circle cx="517" cy="936" r="15" fill="url(#gBump)" fill-opacity="0.18" stroke="#000" stroke-opacity="0.07" stroke-width="2"/><circle cx="2" cy="961" r="14" fill="url(#gBump)" fill-opacity="0.15" stroke="#000" stroke-opacity="0.07" stroke-width="2"/><circle cx="29" cy="955" r="13" fill="url(#gBump)" fill-opacity="0.15" stroke="#000" stroke-opacity="0.07" stroke-width="2"/><circle cx="45" cy="959" r="15" fill="url(#gBump)" fill-opacity="0.19" stroke="#000" stroke-opacity="0.07" stroke-width="2"/><circle cx="78" cy="955" r="14" fill="url(#gBump)" fill-opacity="0.15" stroke="#000" stroke-opacity="0.07" stroke-width="2"/><circle cx="98" cy="962" r="10" fill="url(#gBump)" fill-opacity="0.17" stroke="#000" stroke-opacity="0.07" stroke-width="2"/><circle cx="116" cy="958" r="12" fill="url(#gBump)" fill-opacity="0.11" stroke="#000" stroke-opacity="0.07" stroke-width="2"/><circle cx="150" cy="957" r="13" fill="url(#gBump)" fill-opacity="0.19" stroke="#000" stroke-opacity="0.07" stroke-width="2"/><circle cx="168" cy="950" r="12" fill="url(#gBump)" fill-opacity="0.16" stroke="#000" stroke-opacity="0.07" stroke-width="2"/><circle cx="191" cy="952" r="15" fill="url(#gBump)" fill-opacity="0.16" stroke="#000" stroke-opacity="0.07" stroke-width="2"/><circle cx="218" cy="962" r="12" fill="url(#gBump)" fill-opacity="0.16" stroke="#000" stroke-opacity="0.07" stroke-width="2"/><circle cx="239" cy="956" r="14" fill="url(#gBump)" fill-opacity="0.19" stroke="#000" stroke-opacity="0.07" stroke-width="2"/><circle cx="272" cy="955" r="13" fill="url(#gBump)" fill-opacity="0.12" stroke="#000" stroke-opacity="0.07" stroke-width="2"/><circle cx="286" cy="957" r="14" fill="url(#gBump)" fill-opacity="0.18" stroke="#000" stroke-opacity="0.07" stroke-width="2"/><circle cx="318" cy="963" r="11" fill="url(#gBump)" fill-opacity="0.10" stroke="#000" stroke-opacity="0.07" stroke-width="2"/><circle cx="338" cy="954" r="11" fill="url(#gBump)" fill-opacity="0.13" stroke="#000" stroke-opacity="0.07" stroke-width="2"/><circle cx="365" cy="957" r="12" fill="url(#gBump)" fill-opacity="0.18" stroke="#000" stroke-opacity="0.07" stroke-width="2"/><circle cx="394" cy="956" r="10" fill="url(#gBump)" fill-opacity="0.08" stroke="#000" stroke-opacity="0.07" stroke-width="2"/><circle cx="416" cy="951" r="14" fill="url(#gBump)" fill-opacity="0.15" stroke="#000" stroke-opacity="0.07" stroke-width="2"/><circle cx="432" cy="961" r="10" fill="url(#gBump)" fill-opacity="0.10" stroke="#000" stroke-opacity="0.07" stroke-width="2"/><circle cx="458" cy="950" r="14" fill="url(#gBump)" fill-opacity="0.11" stroke="#000" stroke-opacity="0.07" stroke-width="2"/><circle cx="478" cy="951" r="13" fill="url(#gBump)" fill-opacity="0.13" stroke="#000" stroke-opacity="0.07" stroke-width="2"/><circle cx="509" cy="959" r="14" fill="url(#gBump)" fill-opacity="0.20" stroke="#000" stroke-opacity="0.07" stroke-width="2"/><circle cx="18" cy="977" r="12" fill="url(#gBump)" fill-opacity="0.10" stroke="#000" stroke-opacity="0.07" stroke-width="2"/><circle cx="32" cy="981" r="14" fill="url(#gBump)" fill-opacity="0.10" stroke="#000" stroke-opacity="0.07" stroke-width="2"/><circle cx="60" cy="979" r="13" fill="url(#gBump)" fill-opacity="0.14" stroke="#000" stroke-opacity="0.07" stroke-width="2"/><circle cx="89" cy="985" r="12" fill="url(#gBump)" fill-opacity="0.18" stroke="#000" stroke-opacity="0.07" stroke-width="2"/><circle cx="117" cy="975" r="15" fill="url(#gBump)" fill-opacity="0.17" stroke="#000" stroke-opacity="0.07" stroke-width="2"/><circle cx="130" cy="980" r="13" fill="url(#gBump)" fill-opacity="0.19" stroke="#000" stroke-opacity="0.07" stroke-width="2"/><circle cx="157" cy="982" r="14" fill="url(#gBump)" fill-opacity="0.18" stroke="#000" stroke-opacity="0.07" stroke-width="2"/><circle cx="189" cy="980" r="13" fill="url(#gBump)" fill-opacity="0.10" stroke="#000" stroke-opacity="0.07" stroke-width="2"/><circle cx="210" cy="985" r="13" fill="url(#gBump)" fill-opacity="0.17" stroke="#000" stroke-opacity="0.07" stroke-width="2"/><circle cx="227" cy="987" r="15" fill="url(#gBump)" fill-opacity="0.20" stroke="#000" stroke-opacity="0.07" stroke-width="2"/><circle cx="256" cy="985" r="12" fill="url(#gBump)" fill-opacity="0.19" stroke="#000" stroke-opacity="0.07" stroke-width="2"/><circle cx="284" cy="979" r="10" fill="url(#gBump)" fill-opacity="0.13" stroke="#000" stroke-opacity="0.07" stroke-width="2"/><circle cx="304" cy="985" r="12" fill="url(#gBump)" fill-opacity="0.08" stroke="#000" stroke-opacity="0.07" stroke-width="2"/><circle cx="331" cy="975" r="14" fill="url(#gBump)" fill-opacity="0.10" stroke="#000" stroke-opacity="0.07" stroke-width="2"/><circle cx="349" cy="985" r="11" fill="url(#gBump)" fill-opacity="0.10" stroke="#000" stroke-opacity="0.07" stroke-width="2"/><circle cx="375" cy="984" r="14" fill="url(#gBump)" fill-opacity="0.16" stroke="#000" stroke-opacity="0.07" stroke-width="2"/><circle cx="405" cy="981" r="15" fill="url(#gBump)" fill-opacity="0.09" stroke="#000" stroke-opacity="0.07" stroke-width="2"/><circle cx="419" cy="981" r="11" fill="url(#gBump)" fill-opacity="0.17" stroke="#000" stroke-opacity="0.07" stroke-width="2"/><circle cx="449" cy="981" r="14" fill="url(#gBump)" fill-opacity="0.15" stroke="#000" stroke-opacity="0.07" stroke-width="2"/><circle cx="468" cy="979" r="14" fill="url(#gBump)" fill-opacity="0.19" stroke="#000" stroke-opacity="0.07" stroke-width="2"/><circle cx="491" cy="986" r="15" fill="url(#gBump)" fill-opacity="0.14" stroke="#000" stroke-opacity="0.07" stroke-width="2"/><circle cx="520" cy="977" r="13" fill="url(#gBump)" fill-opacity="0.14" stroke="#000" stroke-opacity="0.07" stroke-width="2"/><circle cx="4" cy="998" r="15" fill="url(#gBump)" fill-opacity="0.14" stroke="#000" stroke-opacity="0.07" stroke-width="2"/><circle cx="26" cy="1009" r="13" fill="url(#gBump)" fill-opacity="0.14" stroke="#000" stroke-opacity="0.07" stroke-width="2"/><circle cx="54" cy="999" r="13" fill="url(#gBump)" fill-opacity="0.13" stroke="#000" stroke-opacity="0.07" stroke-width="2"/><circle cx="81" cy="1011" r="11" fill="url(#gBump)" fill-opacity="0.14" stroke="#000" stroke-opacity="0.07" stroke-width="2"/><circle cx="94" cy="1004" r="14" fill="url(#gBump)" fill-opacity="0.19" stroke="#000" stroke-opacity="0.07" stroke-width="2"/><circle cx="123" cy="1002" r="11" fill="url(#gBump)" fill-opacity="0.15" stroke="#000" stroke-opacity="0.07" stroke-width="2"/><circle cx="153" cy="1000" r="14" fill="url(#gBump)" fill-opacity="0.08" stroke="#000" stroke-opacity="0.07" stroke-width="2"/><circle cx="167" cy="1001" r="13" fill="url(#gBump)" fill-opacity="0.12" stroke="#000" stroke-opacity="0.07" stroke-width="2"/><circle cx="193" cy="1007" r="11" fill="url(#gBump)" fill-opacity="0.17" stroke="#000" stroke-opacity="0.07" stroke-width="2"/><circle cx="214" cy="1005" r="11" fill="url(#gBump)" fill-opacity="0.10" stroke="#000" stroke-opacity="0.07" stroke-width="2"/><circle cx="243" cy="1004" r="12" fill="url(#gBump)" fill-opacity="0.13" stroke="#000" stroke-opacity="0.07" stroke-width="2"/><circle cx="267" cy="1000" r="11" fill="url(#gBump)" fill-opacity="0.16" stroke="#000" stroke-opacity="0.07" stroke-width="2"/><circle cx="293" cy="1005" r="14" fill="url(#gBump)" fill-opacity="0.15" stroke="#000" stroke-opacity="0.07" stroke-width="2"/><circle cx="320" cy="1001" r="14" fill="url(#gBump)" fill-opacity="0.18" stroke="#000" stroke-opacity="0.07" stroke-width="2"/><circle cx="345" cy="1002" r="12" fill="url(#gBump)" fill-opacity="0.19" stroke="#000" stroke-opacity="0.07" stroke-width="2"/><circle cx="359" cy="1012" r="14" fill="url(#gBump)" fill-opacity="0.10" stroke="#000" stroke-opacity="0.07" stroke-width="2"/><circle cx="383" cy="1008" r="11" fill="url(#gBump)" fill-opacity="0.09" stroke="#000" stroke-opacity="0.07" stroke-width="2"/><circle cx="416" cy="1004" r="14" fill="url(#gBump)" fill-opacity="0.10" stroke="#000" stroke-opacity="0.07" stroke-width="2"/><circle cx="434" cy="1008" r="10" fill="url(#gBump)" fill-opacity="0.10" stroke="#000" stroke-opacity="0.07" stroke-width="2"/><circle cx="462" cy="1011" r="15" fill="url(#gBump)" fill-opacity="0.09" stroke="#000" stroke-opacity="0.07" stroke-width="2"/><circle cx="483" cy="1009" r="13" fill="url(#gBump)" fill-opacity="0.16" stroke="#000" stroke-opacity="0.07" stroke-width="2"/><circle cx="503" cy="999" r="11" fill="url(#gBump)" fill-opacity="0.08" stroke="#000" stroke-opacity="0.07" stroke-width="2"/><circle cx="16" cy="1029" r="13" fill="url(#gBump)" fill-opacity="0.10" stroke="#000" stroke-opacity="0.07" stroke-width="2"/><circle cx="35" cy="1025" r="14" fill="url(#gBump)" fill-opacity="0.20" stroke="#000" stroke-opacity="0.07" stroke-width="2"/><circle cx="69" cy="1023" r="10" fill="url(#gBump)" fill-opacity="0.19" stroke="#000" stroke-opacity="0.07" stroke-width="2"/><circle cx="86" cy="1033" r="12" fill="url(#gBump)" fill-opacity="0.14" stroke="#000" stroke-opacity="0.07" stroke-width="2"/><circle cx="111" cy="1028" r="13" fill="url(#gBump)" fill-opacity="0.08" stroke="#000" stroke-opacity="0.07" stroke-width="2"/><circle cx="138" cy="1034" r="11" fill="url(#gBump)" fill-opacity="0.13" stroke="#000" stroke-opacity="0.07" stroke-width="2"/><circle cx="162" cy="1028" r="11" fill="url(#gBump)" fill-opacity="0.10" stroke="#000" stroke-opacity="0.07" stroke-width="2"/><circle cx="183" cy="1022" r="14" fill="url(#gBump)" fill-opacity="0.18" stroke="#000" stroke-opacity="0.07" stroke-width="2"/><circle cx="210" cy="1034" r="13" fill="url(#gBump)" fill-opacity="0.13" stroke="#000" stroke-opacity="0.07" stroke-width="2"/><circle cx="232" cy="1029" r="15" fill="url(#gBump)" fill-opacity="0.18" stroke="#000" stroke-opacity="0.07" stroke-width="2"/><circle cx="252" cy="1035" r="14" fill="url(#gBump)" fill-opacity="0.17" stroke="#000" stroke-opacity="0.07" stroke-width="2"/><circle cx="283" cy="1028" r="14" fill="url(#gBump)" fill-opacity="0.19" stroke="#000" stroke-opacity="0.07" stroke-width="2"/><circle cx="306" cy="1033" r="14" fill="url(#gBump)" fill-opacity="0.13" stroke="#000" stroke-opacity="0.07" stroke-width="2"/><circle cx="330" cy="1023" r="12" fill="url(#gBump)" fill-opacity="0.14" stroke="#000" stroke-opacity="0.07" stroke-width="2"/><circle cx="344" cy="1027" r="13" fill="url(#gBump)" fill-opacity="0.15" stroke="#000" stroke-opacity="0.07" stroke-width="2"/><circle cx="371" cy="1035" r="13" fill="url(#gBump)" fill-opacity="0.12" stroke="#000" stroke-opacity="0.07" stroke-width="2"/><circle cx="401" cy="1030" r="13" fill="url(#gBump)" fill-opacity="0.13" stroke="#000" stroke-opacity="0.07" stroke-width="2"/><circle cx="430" cy="1031" r="14" fill="url(#gBump)" fill-opacity="0.17" stroke="#000" stroke-opacity="0.07" stroke-width="2"/><circle cx="454" cy="1022" r="13" fill="url(#gBump)" fill-opacity="0.17" stroke="#000" stroke-opacity="0.07" stroke-width="2"/><circle cx="468" cy="1028" r="10" fill="url(#gBump)" fill-opacity="0.10" stroke="#000" stroke-opacity="0.07" stroke-width="2"/><circle cx="493" cy="1023" r="11" fill="url(#gBump)" fill-opacity="0.19" stroke="#000" stroke-opacity="0.07" stroke-width="2"/><circle cx="520" cy="1029" r="15" fill="url(#gBump)" fill-opacity="0.15" stroke="#000" stroke-opacity="0.07" stroke-width="2"/><circle cx="10" cy="1055" r="14" fill="url(#gBump)" fill-opacity="0.09" stroke="#000" stroke-opacity="0.07" stroke-width="2"/><circle cx="28" cy="1057" r="10" fill="url(#gBump)" fill-opacity="0.19" stroke="#000" stroke-opacity="0.07" stroke-width="2"/><circle cx="46" cy="1053" r="11" fill="url(#gBump)" fill-opacity="0.14" stroke="#000" stroke-opacity="0.07" stroke-width="2"/><circle cx="77" cy="1047" r="15" fill="url(#gBump)" fill-opacity="0.13" stroke="#000" stroke-opacity="0.07" stroke-width="2"/><circle cx="99" cy="1054" r="12" fill="url(#gBump)" fill-opacity="0.11" stroke="#000" stroke-opacity="0.07" stroke-width="2"/><circle cx="125" cy="1054" r="11" fill="url(#gBump)" fill-opacity="0.17" stroke="#000" stroke-opacity="0.07" stroke-width="2"/><circle cx="144" cy="1046" r="11" fill="url(#gBump)" fill-opacity="0.09" stroke="#000" stroke-opacity="0.07" stroke-width="2"/><circle cx="166" cy="1057" r="12" fill="url(#gBump)" fill-opacity="0.19" stroke="#000" stroke-opacity="0.07" stroke-width="2"/><circle cx="198" cy="1047" r="15" fill="url(#gBump)" fill-opacity="0.19" stroke="#000" stroke-opacity="0.07" stroke-width="2"/><circle cx="213" cy="1059" r="12" fill="url(#gBump)" fill-opacity="0.14" stroke="#000" stroke-opacity="0.07" stroke-width="2"/><circle cx="250" cy="1049" r="13" fill="url(#gBump)" fill-opacity="0.19" stroke="#000" stroke-opacity="0.07" stroke-width="2"/><circle cx="270" cy="1053" r="15" fill="url(#gBump)" fill-opacity="0.18" stroke="#000" stroke-opacity="0.07" stroke-width="2"/><circle cx="292" cy="1048" r="13" fill="url(#gBump)" fill-opacity="0.13" stroke="#000" stroke-opacity="0.07" stroke-width="2"/><circle cx="311" cy="1047" r="13" fill="url(#gBump)" fill-opacity="0.09" stroke="#000" stroke-opacity="0.07" stroke-width="2"/><circle cx="338" cy="1055" r="12" fill="url(#gBump)" fill-opacity="0.11" stroke="#000" stroke-opacity="0.07" stroke-width="2"/><circle cx="364" cy="1052" r="14" fill="url(#gBump)" fill-opacity="0.14" stroke="#000" stroke-opacity="0.07" stroke-width="2"/><circle cx="394" cy="1059" r="14" fill="url(#gBump)" fill-opacity="0.11" stroke="#000" stroke-opacity="0.07" stroke-width="2"/><circle cx="406" cy="1058" r="14" fill="url(#gBump)" fill-opacity="0.15" stroke="#000" stroke-opacity="0.07" stroke-width="2"/><circle cx="433" cy="1050" r="13" fill="url(#gBump)" fill-opacity="0.15" stroke="#000" stroke-opacity="0.07" stroke-width="2"/><circle cx="460" cy="1055" r="14" fill="url(#gBump)" fill-opacity="0.10" stroke="#000" stroke-opacity="0.07" stroke-width="2"/><circle cx="479" cy="1060" r="15" fill="url(#gBump)" fill-opacity="0.19" stroke="#000" stroke-opacity="0.07" stroke-width="2"/><circle cx="501" cy="1047" r="11" fill="url(#gBump)" fill-opacity="0.13" stroke="#000" stroke-opacity="0.07" stroke-width="2"/><circle cx="17" cy="1071" r="13" fill="url(#gBump)" fill-opacity="0.09" stroke="#000" stroke-opacity="0.07" stroke-width="2"/><circle cx="33" cy="1079" r="13" fill="url(#gBump)" fill-opacity="0.16" stroke="#000" stroke-opacity="0.07" stroke-width="2"/><circle cx="61" cy="1077" r="11" fill="url(#gBump)" fill-opacity="0.12" stroke="#000" stroke-opacity="0.07" stroke-width="2"/><circle cx="90" cy="1082" r="10" fill="url(#gBump)" fill-opacity="0.09" stroke="#000" stroke-opacity="0.07" stroke-width="2"/><circle cx="115" cy="1079" r="14" fill="url(#gBump)" fill-opacity="0.11" stroke="#000" stroke-opacity="0.07" stroke-width="2"/><circle cx="134" cy="1074" r="14" fill="url(#gBump)" fill-opacity="0.12" stroke="#000" stroke-opacity="0.07" stroke-width="2"/><circle cx="161" cy="1084" r="12" fill="url(#gBump)" fill-opacity="0.15" stroke="#000" stroke-opacity="0.07" stroke-width="2"/><circle cx="186" cy="1083" r="12" fill="url(#gBump)" fill-opacity="0.12" stroke="#000" stroke-opacity="0.07" stroke-width="2"/><circle cx="201" cy="1082" r="10" fill="url(#gBump)" fill-opacity="0.09" stroke="#000" stroke-opacity="0.07" stroke-width="2"/><circle cx="232" cy="1077" r="13" fill="url(#gBump)" fill-opacity="0.12" stroke="#000" stroke-opacity="0.07" stroke-width="2"/><circle cx="259" cy="1071" r="11" fill="url(#gBump)" fill-opacity="0.16" stroke="#000" stroke-opacity="0.07" stroke-width="2"/><circle cx="273" cy="1074" r="14" fill="url(#gBump)" fill-opacity="0.16" stroke="#000" stroke-opacity="0.07" stroke-width="2"/><circle cx="300" cy="1072" r="12" fill="url(#gBump)" fill-opacity="0.17" stroke="#000" stroke-opacity="0.07" stroke-width="2"/><circle cx="325" cy="1072" r="14" fill="url(#gBump)" fill-opacity="0.15" stroke="#000" stroke-opacity="0.07" stroke-width="2"/><circle cx="357" cy="1083" r="15" fill="url(#gBump)" fill-opacity="0.13" stroke="#000" stroke-opacity="0.07" stroke-width="2"/><circle cx="379" cy="1074" r="12" fill="url(#gBump)" fill-opacity="0.13" stroke="#000" stroke-opacity="0.07" stroke-width="2"/><circle cx="405" cy="1083" r="11" fill="url(#gBump)" fill-opacity="0.12" stroke="#000" stroke-opacity="0.07" stroke-width="2"/><circle cx="421" cy="1075" r="12" fill="url(#gBump)" fill-opacity="0.13" stroke="#000" stroke-opacity="0.07" stroke-width="2"/><circle cx="443" cy="1078" r="14" fill="url(#gBump)" fill-opacity="0.14" stroke="#000" stroke-opacity="0.07" stroke-width="2"/><circle cx="476" cy="1078" r="11" fill="url(#gBump)" fill-opacity="0.17" stroke="#000" stroke-opacity="0.07" stroke-width="2"/><circle cx="500" cy="1074" r="10" fill="url(#gBump)" fill-opacity="0.14" stroke="#000" stroke-opacity="0.07" stroke-width="2"/><circle cx="520" cy="1078" r="15" fill="url(#gBump)" fill-opacity="0.16" stroke="#000" stroke-opacity="0.07" stroke-width="2"/><circle cx="7" cy="1095" r="13" fill="url(#gBump)" fill-opacity="0.17" stroke="#000" stroke-opacity="0.07" stroke-width="2"/><circle cx="21" cy="1095" r="14" fill="url(#gBump)" fill-opacity="0.19" stroke="#000" stroke-opacity="0.07" stroke-width="2"/><circle cx="45" cy="1103" r="11" fill="url(#gBump)" fill-opacity="0.17" stroke="#000" stroke-opacity="0.07" stroke-width="2"/><circle cx="77" cy="1097" r="11" fill="url(#gBump)" fill-opacity="0.17" stroke="#000" stroke-opacity="0.07" stroke-width="2"/><circle cx="99" cy="1105" r="12" fill="url(#gBump)" fill-opacity="0.12" stroke="#000" stroke-opacity="0.07" stroke-width="2"/><circle cx="130" cy="1103" r="12" fill="url(#gBump)" fill-opacity="0.14" stroke="#000" stroke-opacity="0.07" stroke-width="2"/><circle cx="150" cy="1104" r="15" fill="url(#gBump)" fill-opacity="0.13" stroke="#000" stroke-opacity="0.07" stroke-width="2"/><circle cx="176" cy="1103" r="14" fill="url(#gBump)" fill-opacity="0.18" stroke="#000" stroke-opacity="0.07" stroke-width="2"/><circle cx="200" cy="1106" r="15" fill="url(#gBump)" fill-opacity="0.16" stroke="#000" stroke-opacity="0.07" stroke-width="2"/><circle cx="219" cy="1104" r="14" fill="url(#gBump)" fill-opacity="0.13" stroke="#000" stroke-opacity="0.07" stroke-width="2"/><circle cx="242" cy="1096" r="14" fill="url(#gBump)" fill-opacity="0.20" stroke="#000" stroke-opacity="0.07" stroke-width="2"/><circle cx="265" cy="1096" r="11" fill="url(#gBump)" fill-opacity="0.13" stroke="#000" stroke-opacity="0.07" stroke-width="2"/><circle cx="288" cy="1108" r="10" fill="url(#gBump)" fill-opacity="0.12" stroke="#000" stroke-opacity="0.07" stroke-width="2"/><circle cx="310" cy="1103" r="14" fill="url(#gBump)" fill-opacity="0.10" stroke="#000" stroke-opacity="0.07" stroke-width="2"/><circle cx="333" cy="1100" r="13" fill="url(#gBump)" fill-opacity="0.19" stroke="#000" stroke-opacity="0.07" stroke-width="2"/><circle cx="357" cy="1096" r="11" fill="url(#gBump)" fill-opacity="0.11" stroke="#000" stroke-opacity="0.07" stroke-width="2"/><circle cx="383" cy="1104" r="13" fill="url(#gBump)" fill-opacity="0.11" stroke="#000" stroke-opacity="0.07" stroke-width="2"/><circle cx="407" cy="1098" r="11" fill="url(#gBump)" fill-opacity="0.17" stroke="#000" stroke-opacity="0.07" stroke-width="2"/><circle cx="432" cy="1102" r="14" fill="url(#gBump)" fill-opacity="0.14" stroke="#000" stroke-opacity="0.07" stroke-width="2"/><circle cx="456" cy="1106" r="15" fill="url(#gBump)" fill-opacity="0.12" stroke="#000" stroke-opacity="0.07" stroke-width="2"/><circle cx="484" cy="1107" r="12" fill="url(#gBump)" fill-opacity="0.11" stroke="#000" stroke-opacity="0.07" stroke-width="2"/><circle cx="501" cy="1107" r="14" fill="url(#gBump)" fill-opacity="0.13" stroke="#000" stroke-opacity="0.07" stroke-width="2"/><circle cx="15" cy="1125" r="11" fill="url(#gBump)" fill-opacity="0.20" stroke="#000" stroke-opacity="0.07" stroke-width="2"/><circle cx="41" cy="1121" r="10" fill="url(#gBump)" fill-opacity="0.14" stroke="#000" stroke-opacity="0.07" stroke-width="2"/><circle cx="61" cy="1129" r="14" fill="url(#gBump)" fill-opacity="0.15" stroke="#000" stroke-opacity="0.07" stroke-width="2"/><circle cx="82" cy="1120" r="12" fill="url(#gBump)" fill-opacity="0.11" stroke="#000" stroke-opacity="0.07" stroke-width="2"/><circle cx="116" cy="1125" r="13" fill="url(#gBump)" fill-opacity="0.20" stroke="#000" stroke-opacity="0.07" stroke-width="2"/><circle cx="132" cy="1125" r="11" fill="url(#gBump)" fill-opacity="0.17" stroke="#000" stroke-opacity="0.07" stroke-width="2"/><circle cx="152" cy="1129" r="14" fill="url(#gBump)" fill-opacity="0.18" stroke="#000" stroke-opacity="0.07" stroke-width="2"/><circle cx="177" cy="1122" r="14" fill="url(#gBump)" fill-opacity="0.09" stroke="#000" stroke-opacity="0.07" stroke-width="2"/><circle cx="207" cy="1125" r="15" fill="url(#gBump)" fill-opacity="0.15" stroke="#000" stroke-opacity="0.07" stroke-width="2"/><circle cx="236" cy="1122" r="14" fill="url(#gBump)" fill-opacity="0.13" stroke="#000" stroke-opacity="0.07" stroke-width="2"/><circle cx="261" cy="1119" r="14" fill="url(#gBump)" fill-opacity="0.11" stroke="#000" stroke-opacity="0.07" stroke-width="2"/><circle cx="280" cy="1125" r="11" fill="url(#gBump)" fill-opacity="0.18" stroke="#000" stroke-opacity="0.07" stroke-width="2"/><circle cx="300" cy="1122" r="10" fill="url(#gBump)" fill-opacity="0.12" stroke="#000" stroke-opacity="0.07" stroke-width="2"/><circle cx="327" cy="1128" r="12" fill="url(#gBump)" fill-opacity="0.16" stroke="#000" stroke-opacity="0.07" stroke-width="2"/><circle cx="345" cy="1124" r="12" fill="url(#gBump)" fill-opacity="0.20" stroke="#000" stroke-opacity="0.07" stroke-width="2"/><circle cx="380" cy="1127" r="10" fill="url(#gBump)" fill-opacity="0.13" stroke="#000" stroke-opacity="0.07" stroke-width="2"/><circle cx="402" cy="1121" r="13" fill="url(#gBump)" fill-opacity="0.13" stroke="#000" stroke-opacity="0.07" stroke-width="2"/><circle cx="416" cy="1132" r="14" fill="url(#gBump)" fill-opacity="0.10" stroke="#000" stroke-opacity="0.07" stroke-width="2"/><circle cx="449" cy="1122" r="12" fill="url(#gBump)" fill-opacity="0.14" stroke="#000" stroke-opacity="0.07" stroke-width="2"/><circle cx="468" cy="1123" r="12" fill="url(#gBump)" fill-opacity="0.16" stroke="#000" stroke-opacity="0.07" stroke-width="2"/><circle cx="492" cy="1121" r="14" fill="url(#gBump)" fill-opacity="0.12" stroke="#000" stroke-opacity="0.07" stroke-width="2"/><circle cx="525" cy="1126" r="14" fill="url(#gBump)" fill-opacity="0.12" stroke="#000" stroke-opacity="0.07" stroke-width="2"/><circle cx="8" cy="1143" r="11" fill="url(#gBump)" fill-opacity="0.09" stroke="#000" stroke-opacity="0.07" stroke-width="2"/><circle cx="29" cy="1152" r="11" fill="url(#gBump)" fill-opacity="0.13" stroke="#000" stroke-opacity="0.07" stroke-width="2"/><circle cx="56" cy="1150" r="10" fill="url(#gBump)" fill-opacity="0.11" stroke="#000" stroke-opacity="0.07" stroke-width="2"/><circle cx="70" cy="1144" r="12" fill="url(#gBump)" fill-opacity="0.09" stroke="#000" stroke-opacity="0.07" stroke-width="2"/><circle cx="105" cy="1148" r="13" fill="url(#gBump)" fill-opacity="0.16" stroke="#000" stroke-opacity="0.07" stroke-width="2"/><circle cx="127" cy="1153" r="12" fill="url(#gBump)" fill-opacity="0.12" stroke="#000" stroke-opacity="0.07" stroke-width="2"/><circle cx="146" cy="1142" r="12" fill="url(#gBump)" fill-opacity="0.16" stroke="#000" stroke-opacity="0.07" stroke-width="2"/><circle cx="178" cy="1153" r="13" fill="url(#gBump)" fill-opacity="0.15" stroke="#000" stroke-opacity="0.07" stroke-width="2"/><circle cx="188" cy="1147" r="12" fill="url(#gBump)" fill-opacity="0.16" stroke="#000" stroke-opacity="0.07" stroke-width="2"/><circle cx="213" cy="1147" r="13" fill="url(#gBump)" fill-opacity="0.17" stroke="#000" stroke-opacity="0.07" stroke-width="2"/><circle cx="248" cy="1151" r="11" fill="url(#gBump)" fill-opacity="0.17" stroke="#000" stroke-opacity="0.07" stroke-width="2"/><circle cx="273" cy="1150" r="12" fill="url(#gBump)" fill-opacity="0.14" stroke="#000" stroke-opacity="0.07" stroke-width="2"/><circle cx="286" cy="1152" r="15" fill="url(#gBump)" fill-opacity="0.14" stroke="#000" stroke-opacity="0.07" stroke-width="2"/><circle cx="318" cy="1154" r="11" fill="url(#gBump)" fill-opacity="0.19" stroke="#000" stroke-opacity="0.07" stroke-width="2"/><circle cx="341" cy="1145" r="10" fill="url(#gBump)" fill-opacity="0.11" stroke="#000" stroke-opacity="0.07" stroke-width="2"/><circle cx="364" cy="1152" r="12" fill="url(#gBump)" fill-opacity="0.19" stroke="#000" stroke-opacity="0.07" stroke-width="2"/><circle cx="385" cy="1148" r="11" fill="url(#gBump)" fill-opacity="0.20" stroke="#000" stroke-opacity="0.07" stroke-width="2"/><circle cx="406" cy="1155" r="13" fill="url(#gBump)" fill-opacity="0.15" stroke="#000" stroke-opacity="0.07" stroke-width="2"/><circle cx="436" cy="1146" r="15" fill="url(#gBump)" fill-opacity="0.20" stroke="#000" stroke-opacity="0.07" stroke-width="2"/><circle cx="463" cy="1150" r="11" fill="url(#gBump)" fill-opacity="0.18" stroke="#000" stroke-opacity="0.07" stroke-width="2"/><circle cx="480" cy="1155" r="11" fill="url(#gBump)" fill-opacity="0.15" stroke="#000" stroke-opacity="0.07" stroke-width="2"/><circle cx="512" cy="1145" r="13" fill="url(#gBump)" fill-opacity="0.09" stroke="#000" stroke-opacity="0.07" stroke-width="2"/></g>
</g></g>
<rect x="3.2" y="908" width="508.4" height="246.4" fill="none" stroke="#231f20" stroke-width="3.6"/>
<g clip-path="url(#cIb)"><g filter="url(#fIRb)">
<rect x="0" y="1247" width="514" height="246" fill="#808080"/>
<g filter="url(#b25)"><ellipse cx="260" cy="1300" rx="120" ry="60" fill="#6a6a6a"/><ellipse cx="230" cy="1420" rx="90" ry="60" fill="#6c6c6c"/><ellipse cx="60" cy="1400" rx="70" ry="60" fill="#949494"/><ellipse cx="40" cy="1290" rx="50" ry="30" fill="#8a8a8a"/><ellipse cx="450" cy="1440" rx="90" ry="60" fill="#989898"/><ellipse cx="370" cy="1400" rx="50" ry="30" fill="#949494"/><ellipse cx="460" cy="1300" rx="60" ry="40" fill="#868686"/><ellipse cx="120" cy="1480" rx="80" ry="18" fill="#727272"/></g>
</g></g>
<rect x="1.7" y="1247.2" width="511.6" height="244.6" fill="none" stroke="#000" stroke-width="3.6"/>
<circle cx="79.9" cy="219.3" r="10.2" fill="#4d4d4d" stroke="#fff" stroke-width="2"/>
<circle cx="131.2" cy="225.4" r="10.2" fill="#ef4040" stroke="#fff" stroke-width="2"/>
<circle cx="179.1" cy="231.4" r="10.2" fill="#1a6de0" stroke="#fff" stroke-width="2"/>
<circle cx="228.4" cy="237.5" r="10.2" fill="#38a96c" stroke="#fff" stroke-width="2"/>
<circle cx="279.8" cy="243.5" r="10.2" fill="#b67be0" stroke="#fff" stroke-width="2"/>
<circle cx="328.2" cy="250.5" r="10.2" fill="#cc9a06" stroke="#fff" stroke-width="2"/>
<circle cx="379.6" cy="256.0" r="10.2" fill="#00c8d0" stroke="#fff" stroke-width="2"/>
<circle cx="431.2" cy="262.6" r="10.2" fill="#7d4e4e" stroke="#fff" stroke-width="2"/>
<text x="77.9" y="202.8" font-size="33" text-anchor="middle" fill="#231f20">1</text>
<text x="129.2" y="208.9" font-size="33" text-anchor="middle" fill="#231f20">2</text>
<text x="177.1" y="214.9" font-size="33" text-anchor="middle" fill="#231f20">3</text>
<text x="226.4" y="221.0" font-size="33" text-anchor="middle" fill="#231f20">4</text>
<text x="277.8" y="227.0" font-size="33" text-anchor="middle" fill="#231f20">5</text>
<text x="326.2" y="234.0" font-size="33" text-anchor="middle" fill="#231f20">6</text>
<text x="377.6" y="239.5" font-size="33" text-anchor="middle" fill="#231f20">7</text>
<text x="429.2" y="246.1" font-size="33" text-anchor="middle" fill="#231f20">8</text>
<circle cx="77.9" cy="558.2" r="10.2" fill="#4d4d4d" stroke="#fff" stroke-width="2"/>
<circle cx="129.2" cy="564.3" r="10.2" fill="#ef4040" stroke="#fff" stroke-width="2"/>
<circle cx="177.1" cy="570.3" r="10.2" fill="#1a6de0" stroke="#fff" stroke-width="2"/>
<circle cx="226.4" cy="576.4" r="10.2" fill="#38a96c" stroke="#fff" stroke-width="2"/>
<circle cx="277.8" cy="582.4" r="10.2" fill="#b67be0" stroke="#fff" stroke-width="2"/>
<circle cx="326.2" cy="589.4" r="10.2" fill="#cc9a06" stroke="#fff" stroke-width="2"/>
<circle cx="377.6" cy="594.9" r="10.2" fill="#00c8d0" stroke="#fff" stroke-width="2"/>
<circle cx="429.2" cy="601.5" r="10.2" fill="#7d4e4e" stroke="#fff" stroke-width="2"/>
<text x="75.9" y="541.7" font-size="33" text-anchor="middle" fill="#fff">1</text>
<text x="127.2" y="547.8" font-size="33" text-anchor="middle" fill="#fff">2</text>
<text x="175.1" y="553.8" font-size="33" text-anchor="middle" fill="#fff">3</text>
<text x="224.4" y="559.9" font-size="33" text-anchor="middle" fill="#fff">4</text>
<text x="275.8" y="565.9" font-size="33" text-anchor="middle" fill="#fff">5</text>
<text x="324.2" y="572.9" font-size="33" text-anchor="middle" fill="#fff">6</text>
<text x="375.6" y="578.4" font-size="33" text-anchor="middle" fill="#fff">7</text>
<text x="427.2" y="585.0" font-size="33" text-anchor="middle" fill="#fff">8</text>
<circle cx="105.1" cy="1075.5" r="10.2" fill="#4d4d4d" stroke="#fff" stroke-width="2"/>
<circle cx="199.0" cy="1020.9" r="10.2" fill="#ef4040" stroke="#fff" stroke-width="2"/>
<circle cx="247.2" cy="956.2" r="10.2" fill="#1a6de0" stroke="#fff" stroke-width="2"/>
<circle cx="325.7" cy="1001.9" r="10.2" fill="#38a96c" stroke="#fff" stroke-width="2"/>
<circle cx="365.4" cy="1041.5" r="10.2" fill="#b67be0" stroke="#fff" stroke-width="2"/>
<text x="82.5" y="1085.3" font-size="33" text-anchor="middle" fill="#231f20">1</text>
<text x="172.8" y="1031.8" font-size="33" text-anchor="middle" fill="#231f20">2</text>
<text x="216.2" y="955.9" font-size="33" text-anchor="middle" fill="#231f20">3</text>
<text x="307.4" y="986.2" font-size="33" text-anchor="middle" fill="#231f20">4</text>
<text x="391.5" y="1047.5" font-size="33" text-anchor="middle" fill="#231f20">5</text>
<circle cx="105.1" cy="1413.4" r="10.2" fill="#4d4d4d" stroke="#fff" stroke-width="2"/>
<circle cx="199.0" cy="1358.8" r="10.2" fill="#ef4040" stroke="#fff" stroke-width="2"/>
<circle cx="247.2" cy="1294.1" r="10.2" fill="#1a6de0" stroke="#fff" stroke-width="2"/>
<circle cx="325.7" cy="1339.8" r="10.2" fill="#38a96c" stroke="#fff" stroke-width="2"/>
<circle cx="365.4" cy="1379.4" r="10.2" fill="#b67be0" stroke="#fff" stroke-width="2"/>
<text x="82.5" y="1423.2" font-size="33" text-anchor="middle" fill="#fff">1</text>
<text x="172.8" y="1369.7" font-size="33" text-anchor="middle" fill="#fff">2</text>
<text x="216.2" y="1293.8" font-size="33" text-anchor="middle" fill="#fff">3</text>
<text x="307.4" y="1324.1" font-size="33" text-anchor="middle" fill="#fff">4</text>
<text x="391.5" y="1385.4" font-size="33" text-anchor="middle" fill="#fff">5</text>
<line x1="329.7" y1="325.7" x2="494.4" y2="325.7" stroke="#000" stroke-width="2.6" stroke-linecap="butt"/>
<line x1="329.7" y1="317.0" x2="329.7" y2="335.0" stroke="#000" stroke-width="2.6" stroke-linecap="butt"/>
<line x1="494.4" y1="317.0" x2="494.4" y2="335.0" stroke="#000" stroke-width="2.6" stroke-linecap="butt"/>
<text x="411.6" y="361.0" font-size="31.25" text-anchor="middle" fill="#231f20">2µm</text>
<line x1="283.8" y1="1089.0" x2="487.7" y2="1089.0" stroke="#111" stroke-width="2.0" stroke-linecap="butt"/>
<line x1="283.8" y1="1078.5" x2="283.8" y2="1099.8" stroke="#111" stroke-width="2.0" stroke-linecap="butt"/>
<line x1="487.7" y1="1078.5" x2="487.7" y2="1099.8" stroke="#111" stroke-width="2.0" stroke-linecap="butt"/>
<text x="386.0" y="1125.3" font-size="27.5" text-anchor="middle" fill="#231f20">2 µm</text>
<rect x="554.3" y="161.6" width="35" height="183.6" fill="url(#gGray)" stroke="#000" stroke-width="1.6"/>
<text x="571.8" y="142.9" font-size="31.25" text-anchor="middle" fill="#000">447</text>
<text x="571.8" y="389.0" font-size="31.25" text-anchor="middle" fill="#000">0</text>
<text transform="translate(627.5,252.0) rotate(-90)" font-size="31.25" text-anchor="middle" fill="#000">height (nm)</text>
<rect x="553" y="499.5" width="35" height="184.2" fill="url(#gIR)" stroke="#000" stroke-width="1.6"/>
<text x="570.5" y="480.4" font-size="31.25" text-anchor="middle" fill="#000">1</text>
<text x="570.5" y="720.4" font-size="31.25" text-anchor="middle" fill="#000">0</text>
<text transform="translate(624.2,592.0) rotate(-90)" font-size="31.25" text-anchor="middle" fill="#000">intensity</text>
<text transform="translate(659.0,593.0) rotate(-90)" font-size="31.25" text-anchor="middle" fill="#000">(arb. units)</text>
<rect x="552" y="953" width="36" height="182.7" fill="url(#gGray)" stroke="#000" stroke-width="1.6"/>
<text x="570.0" y="928.6" font-size="31.25" text-anchor="middle" fill="#000">140</text>
<text x="570.0" y="1175.8" font-size="31.25" text-anchor="middle" fill="#000">0</text>
<text transform="translate(627.5,1044.0) rotate(-90)" font-size="31.25" text-anchor="middle" fill="#000">height (nm)</text>
<rect x="554.7" y="1284.4" width="34.6" height="182.8" fill="url(#gIR)" stroke="#000" stroke-width="1.6"/>
<text x="572.0" y="1262.3" font-size="31.25" text-anchor="middle" fill="#000">1</text>
<text x="572.0" y="1505.4" font-size="31.25" text-anchor="middle" fill="#000">0</text>
<text transform="translate(624.8,1376.0) rotate(-90)" font-size="31.25" text-anchor="middle" fill="#000">intensity</text>
<text transform="translate(659.5,1377.0) rotate(-90)" font-size="31.25" text-anchor="middle" fill="#000">(arb. units)</text>
<text x="12.0" y="37.5" font-size="35" text-anchor="start" fill="#231f20" font-weight="bold">a</text>
<text x="14.0" y="108.5" font-size="31.25" text-anchor="start" fill="#000">AFM</text>
<text x="14.0" y="444.9" font-size="31.25" text-anchor="start" fill="#000">IR White Light</text>
<text x="12.0" y="816.7" font-size="35" text-anchor="start" fill="#231f20" font-weight="bold">b</text>
<text x="14.0" y="889.7" font-size="31.25" text-anchor="start" fill="#000">AFM</text>
<text x="14.0" y="1223.8" font-size="31.25" text-anchor="start" fill="#000">IR White Light</text>
<line x1="846.2" y1="48.0" x2="846.2" y2="782.7" stroke="#000" stroke-width="3.9" stroke-linecap="butt"/>
<line x1="844.3" y1="780.7" x2="1963.0" y2="780.7" stroke="#000" stroke-width="3.9" stroke-linecap="butt"/>
<line x1="824.5" y1="780.7" x2="846.2" y2="780.7" stroke="#000" stroke-width="3.9" stroke-linecap="butt"/>
<line x1="824.5" y1="551.3" x2="846.2" y2="551.3" stroke="#000" stroke-width="3.9" stroke-linecap="butt"/>
<line x1="824.5" y1="321.9" x2="846.2" y2="321.9" stroke="#000" stroke-width="3.9" stroke-linecap="butt"/>
<line x1="824.5" y1="92.5" x2="846.2" y2="92.5" stroke="#000" stroke-width="3.9" stroke-linecap="butt"/>
<line x1="835.3" y1="666.0" x2="846.2" y2="666.0" stroke="#000" stroke-width="3.9" stroke-linecap="butt"/>
<line x1="835.3" y1="436.6" x2="846.2" y2="436.6" stroke="#000" stroke-width="3.9" stroke-linecap="butt"/>
<line x1="835.3" y1="207.2" x2="846.2" y2="207.2" stroke="#000" stroke-width="3.9" stroke-linecap="butt"/>
<line x1="846.2" y1="780.7" x2="846.2" y2="802.2" stroke="#000" stroke-width="3.9" stroke-linecap="butt"/>
<text x="846.2" y="841.3" font-size="31.25" text-anchor="middle" fill="#000">1000</text>
<line x1="915.9" y1="780.7" x2="915.9" y2="790.7" stroke="#000" stroke-width="3.9" stroke-linecap="butt"/>
<line x1="985.6" y1="780.7" x2="985.6" y2="790.7" stroke="#000" stroke-width="3.9" stroke-linecap="butt"/>
<line x1="1055.3" y1="780.7" x2="1055.3" y2="790.7" stroke="#000" stroke-width="3.9" stroke-linecap="butt"/>
<line x1="1124.9" y1="780.7" x2="1124.9" y2="802.2" stroke="#000" stroke-width="3.9" stroke-linecap="butt"/>
<text x="1124.9" y="841.3" font-size="31.25" text-anchor="middle" fill="#000">1100</text>
<line x1="1194.6" y1="780.7" x2="1194.6" y2="790.7" stroke="#000" stroke-width="3.9" stroke-linecap="butt"/>
<line x1="1264.3" y1="780.7" x2="1264.3" y2="790.7" stroke="#000" stroke-width="3.9" stroke-linecap="butt"/>
<line x1="1334.0" y1="780.7" x2="1334.0" y2="790.7" stroke="#000" stroke-width="3.9" stroke-linecap="butt"/>
<line x1="1403.6" y1="780.7" x2="1403.6" y2="802.2" stroke="#000" stroke-width="3.9" stroke-linecap="butt"/>
<text x="1403.6" y="841.3" font-size="31.25" text-anchor="middle" fill="#000">1200</text>
<line x1="1473.3" y1="780.7" x2="1473.3" y2="790.7" stroke="#000" stroke-width="3.9" stroke-linecap="butt"/>
<line x1="1543.0" y1="780.7" x2="1543.0" y2="790.7" stroke="#000" stroke-width="3.9" stroke-linecap="butt"/>
<line x1="1612.6" y1="780.7" x2="1612.6" y2="790.7" stroke="#000" stroke-width="3.9" stroke-linecap="butt"/>
<line x1="1682.3" y1="780.7" x2="1682.3" y2="802.2" stroke="#000" stroke-width="3.9" stroke-linecap="butt"/>
<text x="1682.3" y="841.3" font-size="31.25" text-anchor="middle" fill="#000">1300</text>
<line x1="1752.0" y1="780.7" x2="1752.0" y2="790.7" stroke="#000" stroke-width="3.9" stroke-linecap="butt"/>
<line x1="1821.7" y1="780.7" x2="1821.7" y2="790.7" stroke="#000" stroke-width="3.9" stroke-linecap="butt"/>
<line x1="1891.3" y1="780.7" x2="1891.3" y2="790.7" stroke="#000" stroke-width="3.9" stroke-linecap="butt"/>
<line x1="1961.0" y1="780.7" x2="1961.0" y2="802.2" stroke="#000" stroke-width="3.9" stroke-linecap="butt"/>
<text x="1961.0" y="841.3" font-size="31.25" text-anchor="middle" fill="#000">1400</text>
<text x="1405.6" y="893.2" font-size="30.7" text-anchor="middle" fill="#231f20">Wavenumber (cm<tspan font-size="18.5" dy="-11">-1</tspan><tspan dy="11">)</tspan></text>
<text transform="translate(794.5,411.5) rotate(-90)" font-size="31.25" text-anchor="middle" fill="#231f20">nano-FTIR absorption (arb. units)</text>
<line x1="846.2" y1="920.6" x2="846.2" y2="1464.5" stroke="#000" stroke-width="3.9" stroke-linecap="butt"/>
<line x1="844.3" y1="1462.5" x2="1963.0" y2="1462.5" stroke="#000" stroke-width="3.9" stroke-linecap="butt"/>
<line x1="824.5" y1="1462.5" x2="846.2" y2="1462.5" stroke="#000" stroke-width="3.9" stroke-linecap="butt"/>
<line x1="824.5" y1="1295.3" x2="846.2" y2="1295.3" stroke="#000" stroke-width="3.9" stroke-linecap="butt"/>
<line x1="824.5" y1="1128.1" x2="846.2" y2="1128.1" stroke="#000" stroke-width="3.9" stroke-linecap="butt"/>
<line x1="824.5" y1="960.9" x2="846.2" y2="960.9" stroke="#000" stroke-width="3.9" stroke-linecap="butt"/>
<line x1="835.3" y1="1378.9" x2="846.2" y2="1378.9" stroke="#000" stroke-width="3.9" stroke-linecap="butt"/>
<line x1="835.3" y1="1211.7" x2="846.2" y2="1211.7" stroke="#000" stroke-width="3.9" stroke-linecap="butt"/>
<line x1="835.3" y1="1044.5" x2="846.2" y2="1044.5" stroke="#000" stroke-width="3.9" stroke-linecap="butt"/>
<line x1="846.2" y1="1462.5" x2="846.2" y2="1484.0" stroke="#000" stroke-width="3.9" stroke-linecap="butt"/>
<text x="846.2" y="1523.2" font-size="31.25" text-anchor="middle" fill="#000">1000</text>
<line x1="915.9" y1="1462.5" x2="915.9" y2="1472.5" stroke="#000" stroke-width="3.9" stroke-linecap="butt"/>
<line x1="985.6" y1="1462.5" x2="985.6" y2="1472.5" stroke="#000" stroke-width="3.9" stroke-linecap="butt"/>
<line x1="1055.3" y1="1462.5" x2="1055.3" y2="1472.5" stroke="#000" stroke-width="3.9" stroke-linecap="butt"/>
<line x1="1124.9" y1="1462.5" x2="1124.9" y2="1484.0" stroke="#000" stroke-width="3.9" stroke-linecap="butt"/>
<text x="1124.9" y="1523.2" font-size="31.25" text-anchor="middle" fill="#000">1100</text>
<line x1="1194.6" y1="1462.5" x2="1194.6" y2="1472.5" stroke="#000" stroke-width="3.9" stroke-linecap="butt"/>
<line x1="1264.3" y1="1462.5" x2="1264.3" y2="1472.5" stroke="#000" stroke-width="3.9" stroke-linecap="butt"/>
<line x1="1334.0" y1="1462.5" x2="1334.0" y2="1472.5" stroke="#000" stroke-width="3.9" stroke-linecap="butt"/>
<line x1="1403.6" y1="1462.5" x2="1403.6" y2="1484.0" stroke="#000" stroke-width="3.9" stroke-linecap="butt"/>
<text x="1403.6" y="1523.2" font-size="31.25" text-anchor="middle" fill="#000">1200</text>
<line x1="1473.3" y1="1462.5" x2="1473.3" y2="1472.5" stroke="#000" stroke-width="3.9" stroke-linecap="butt"/>
<line x1="1543.0" y1="1462.5" x2="1543.0" y2="1472.5" stroke="#000" stroke-width="3.9" stroke-linecap="butt"/>
<line x1="1612.6" y1="1462.5" x2="1612.6" y2="1472.5" stroke="#000" stroke-width="3.9" stroke-linecap="butt"/>
<line x1="1682.3" y1="1462.5" x2="1682.3" y2="1484.0" stroke="#000" stroke-width="3.9" stroke-linecap="butt"/>
<text x="1682.3" y="1523.2" font-size="31.25" text-anchor="middle" fill="#000">1300</text>
<line x1="1752.0" y1="1462.5" x2="1752.0" y2="1472.5" stroke="#000" stroke-width="3.9" stroke-linecap="butt"/>
<line x1="1821.7" y1="1462.5" x2="1821.7" y2="1472.5" stroke="#000" stroke-width="3.9" stroke-linecap="butt"/>
<line x1="1891.3" y1="1462.5" x2="1891.3" y2="1472.5" stroke="#000" stroke-width="3.9" stroke-linecap="butt"/>
<line x1="1961.0" y1="1462.5" x2="1961.0" y2="1484.0" stroke="#000" stroke-width="3.9" stroke-linecap="butt"/>
<text x="1961.0" y="1523.2" font-size="31.25" text-anchor="middle" fill="#000">1400</text>
<text x="1405.6" y="1575.0" font-size="30.7" text-anchor="middle" fill="#231f20">Wavenumber (cm<tspan font-size="18.5" dy="-11">-1</tspan><tspan dy="11">)</tspan></text>
<text transform="translate(794.5,1192.4) rotate(-90)" font-size="31.25" text-anchor="middle" fill="#231f20">nano-FTIR absorption (arb. units)</text>
<g fill="none" stroke-width="4.1" stroke-linejoin="round" stroke-linecap="round">
<path d="M847.0,198.0C850.7,207.4 854.3,223.6 858.0,226.2C862.0,225.5 866.0,220.3 870.0,218.0C872.5,216.6 875.0,216.4 877.5,215.0C882.9,211.9 888.3,205.5 893.8,204.5C899.6,205.8 905.4,217.0 911.2,218.2C916.2,216.5 921.2,205.5 926.2,200.0C931.2,194.5 936.2,186.4 941.2,185.0C945.8,185.3 950.4,187.9 955.0,188.2C960.8,186.5 966.7,179.3 972.5,169.5C976.2,163.2 980.0,148.9 983.8,140.0C986.2,134.1 988.8,125.9 991.2,125.0C992.5,124.5 993.8,124.5 995.0,125.0C997.9,126.1 1000.8,132.4 1003.8,134.5C1007.5,137.2 1011.2,137.0 1015.0,139.5C1020.8,143.4 1026.7,146.1 1032.5,153.8C1037.9,160.9 1043.3,180.5 1048.8,183.8C1051.7,185.5 1054.6,184.6 1057.5,185.5C1062.5,187.1 1067.5,190.7 1072.5,191.2C1077.5,190.7 1082.5,189.6 1087.5,185.0C1093.3,179.6 1099.2,163.5 1105.0,161.2C1110.4,163.2 1115.8,180.5 1121.2,182.5C1125.8,181.6 1130.4,174.1 1135.0,173.2C1140.4,174.6 1145.8,186.6 1151.2,188.0C1158.3,186.2 1165.4,180.3 1172.5,168.8C1178.3,159.3 1184.2,137.6 1190.0,125.0C1193.9,116.5 1197.8,107.3 1201.8,105.5C1205.3,107.3 1208.9,117.6 1212.5,125.0C1217.1,134.5 1221.7,152.6 1226.2,156.2C1230.0,159.2 1233.8,157.9 1237.5,159.2C1241.7,160.8 1245.8,164.5 1250.0,165.0C1253.9,164.7 1257.8,162.1 1261.8,161.8C1267.0,163.7 1272.2,177.2 1277.5,182.5C1283.8,188.8 1290.0,195.0 1296.2,196.2C1300.0,195.6 1303.8,191.2 1307.5,189.2C1311.2,187.2 1315.0,188.4 1318.8,184.2C1320.8,182.0 1322.9,179.7 1325.0,170.0C1328.8,152.5 1332.5,118.6 1336.2,102.5C1340.8,82.8 1345.4,72.8 1350.0,62.5C1353.2,55.4 1356.3,51.6 1359.5,50.5C1361.3,51.2 1363.2,52.2 1365.0,57.5C1368.3,67.1 1371.7,83.2 1375.0,95.0C1377.9,105.3 1380.8,116.8 1383.8,123.8C1387.1,131.8 1390.4,133.9 1393.8,140.0C1398.3,148.4 1402.9,160.3 1407.5,167.5C1409.6,170.8 1411.7,170.6 1413.8,171.2C1416.7,172.2 1419.6,171.2 1422.5,172.5C1427.5,174.6 1432.5,186.1 1437.5,187.5C1442.1,186.7 1446.7,179.6 1451.2,178.8C1452.5,179.2 1453.8,182.1 1455.0,183.8C1459.2,189.3 1463.3,198.9 1467.5,200.5C1472.1,199.1 1476.7,186.4 1481.2,185.0C1485.8,186.0 1490.4,194.5 1495.0,195.5C1498.8,195.1 1502.5,191.6 1506.2,191.2C1512.5,193.1 1518.8,206.6 1525.0,211.2C1528.3,213.8 1531.7,212.8 1535.0,213.8C1540.0,215.2 1545.0,218.3 1550.0,218.8C1554.6,218.4 1559.2,215.3 1563.8,215.0C1569.6,216.0 1575.4,224.5 1581.2,225.5C1586.2,224.6 1591.2,216.4 1596.2,215.5C1601.7,216.6 1607.1,226.4 1612.5,227.5C1616.2,227.0 1620.0,223.0 1623.8,222.5C1627.9,222.8 1632.1,225.9 1636.2,226.2C1641.7,225.0 1647.1,213.8 1652.5,212.5C1653.5,212.3 1654.5,211.0 1655.5,211.2C1662.6,212.9 1669.7,224.8 1676.8,226.2C1680.9,225.4 1685.1,217.2 1689.2,216.8C1693.8,216.2 1698.4,216.8 1703.0,216.2C1707.6,215.8 1712.2,205.7 1716.8,203.8C1719.7,202.5 1722.6,203.8 1725.5,202.5C1728.0,201.4 1730.5,197.3 1733.0,192.5C1735.9,186.9 1738.8,171.8 1741.8,171.2C1743.0,171.0 1744.2,169.0 1745.5,168.8C1747.0,168.4 1748.5,170.9 1750.0,171.2C1753.5,172.0 1757.0,183.1 1760.5,187.5C1762.6,190.1 1764.7,192.0 1766.8,192.5C1769.2,192.2 1771.8,192.2 1774.2,188.8C1777.2,184.7 1780.1,176.7 1783.0,170.0C1787.2,160.4 1791.3,148.3 1795.5,140.0C1798.4,134.2 1801.3,128.2 1804.2,127.5C1805.5,127.2 1806.8,125.9 1808.0,126.2C1809.7,126.7 1811.3,126.8 1813.0,130.0C1816.3,136.4 1819.7,147.0 1823.0,155.0C1826.8,164.0 1830.5,175.6 1834.2,181.2C1836.8,185.0 1839.2,185.0 1841.8,185.0C1844.2,185.0 1846.8,185.0 1849.2,185.0C1854.7,185.0 1860.1,200.4 1865.5,202.0C1870.1,201.7 1874.7,199.1 1879.2,198.8C1881.3,198.6 1883.4,198.6 1885.5,198.8C1890.5,199.1 1895.5,204.4 1900.5,205.0C1904.7,204.8 1908.8,203.2 1913.0,203.0C1917.2,203.3 1921.3,206.2 1925.5,206.2C1928.8,206.2 1932.2,206.2 1935.5,206.2C1940.1,206.2 1944.7,216.9 1949.2,218.0C1952.2,217.7 1955.1,215.5 1958.0,214.2" stroke="#7d4e4e"/>
<path d="M847.0,296.8C848.8,295.3 850.7,294.6 852.5,292.5C857.2,287.1 862.0,276.0 866.8,274.2C871.2,275.3 875.6,283.5 880.0,285.0C883.8,286.2 887.5,286.1 891.2,286.2C897.9,283.7 904.6,261.3 911.2,258.8C916.2,260.5 921.2,275.8 926.2,277.5C930.8,276.3 935.4,267.4 940.0,264.2C943.3,262.0 946.7,264.2 950.0,261.2C955.0,256.8 960.0,239.9 965.0,232.5C968.8,227.0 972.5,229.6 976.2,222.5C980.8,213.8 985.4,195.1 990.0,185.0C991.7,181.3 993.3,181.6 995.0,181.2C1000.4,182.7 1005.8,194.0 1011.2,197.0C1015.8,199.5 1020.4,197.0 1025.0,199.5C1031.2,202.9 1037.5,225.3 1043.8,233.8C1047.5,238.8 1051.2,237.4 1055.0,240.0C1059.2,242.9 1063.3,249.1 1067.5,250.0C1071.7,249.7 1075.8,247.0 1080.0,246.2C1082.9,245.8 1085.8,246.2 1088.8,245.8C1093.6,244.9 1098.4,233.3 1103.2,232.0C1108.4,233.4 1113.6,246.1 1118.8,247.5C1123.3,247.5 1127.9,247.0 1132.5,247.0C1138.8,247.6 1145.0,252.4 1151.2,253.0C1156.7,251.7 1162.1,240.1 1167.5,238.8C1172.1,238.9 1176.7,239.9 1181.2,240.0C1186.8,238.0 1192.4,220.7 1198.0,218.8C1203.7,220.4 1209.3,232.5 1215.0,236.8C1218.8,239.6 1222.5,237.8 1226.2,240.0C1232.1,243.4 1237.9,252.5 1243.8,253.8C1250.0,253.1 1256.2,247.1 1262.5,246.2C1265.4,245.9 1268.3,245.9 1271.2,246.2C1277.5,247.1 1283.8,261.0 1290.0,262.5C1294.2,262.0 1298.3,259.1 1302.5,257.5C1305.8,256.2 1309.2,256.4 1312.5,253.8C1315.0,251.8 1317.5,250.0 1320.0,243.8C1326.7,227.1 1333.3,203.6 1340.0,185.0C1343.3,175.7 1346.7,169.1 1350.0,160.0C1354.2,148.7 1358.3,126.0 1362.5,123.8C1364.3,122.7 1366.2,122.7 1368.0,123.8C1370.8,125.3 1373.5,142.8 1376.2,152.5C1379.2,162.8 1382.1,177.7 1385.0,183.8C1389.2,192.3 1393.3,189.3 1397.5,196.2C1403.3,206.0 1409.2,223.5 1415.0,233.8C1417.9,238.9 1420.8,240.3 1423.8,242.5C1426.2,244.4 1428.8,243.7 1431.2,246.2C1437.1,252.2 1442.9,266.0 1448.8,268.0C1452.5,267.4 1456.2,261.9 1460.0,261.2C1464.4,262.2 1468.8,270.3 1473.2,271.2C1477.6,270.0 1481.9,258.8 1486.2,257.5C1492.1,258.1 1497.9,260.2 1503.8,263.8C1509.6,267.3 1515.4,277.4 1521.2,278.8C1523.8,278.6 1526.2,277.2 1528.8,277.0C1533.3,278.1 1537.9,287.7 1542.5,288.8C1546.2,288.1 1550.0,281.9 1553.8,281.2C1558.3,281.8 1562.9,286.2 1567.5,286.8C1570.8,286.5 1574.2,284.0 1577.5,283.8C1582.5,285.1 1587.5,297.4 1592.5,298.8C1595.8,298.5 1599.2,296.5 1602.5,296.2C1606.2,296.6 1610.0,300.1 1613.8,300.5C1618.3,299.9 1622.9,294.4 1627.5,293.8C1630.8,293.9 1634.2,294.9 1637.5,295.0C1641.2,294.5 1645.0,289.8 1648.8,289.2C1653.1,290.0 1657.4,296.7 1661.8,297.5C1666.3,296.8 1670.9,291.2 1675.5,290.5C1679.2,290.9 1683.0,293.9 1686.8,294.2C1692.2,292.9 1697.6,280.9 1703.0,279.5C1706.8,279.7 1710.5,281.1 1714.2,281.2C1719.7,279.5 1725.1,268.0 1730.5,263.0C1733.0,260.7 1735.5,259.6 1738.0,259.2C1740.5,259.6 1743.0,261.0 1745.5,262.5C1750.5,265.6 1755.5,271.8 1760.5,273.0C1763.8,273.8 1767.2,273.8 1770.5,273.0C1772.6,272.5 1774.7,271.2 1776.8,266.2C1779.7,259.3 1782.6,246.1 1785.5,237.5C1788.8,227.7 1792.2,217.5 1795.5,211.2C1798.4,205.8 1801.3,205.5 1804.2,202.5C1807.0,199.7 1809.8,194.6 1812.5,193.8C1813.9,194.2 1815.3,195.2 1816.8,198.8C1818.8,204.0 1820.9,213.8 1823.0,220.0C1825.1,226.2 1827.2,233.5 1829.2,236.2C1833.0,241.2 1836.8,239.6 1840.5,243.0C1845.5,247.5 1850.5,255.7 1855.5,260.0C1858.8,262.9 1862.2,262.5 1865.5,264.5C1870.5,267.5 1875.5,274.4 1880.5,275.0C1882.2,275.2 1883.8,275.7 1885.5,275.5C1890.1,274.9 1894.7,271.1 1899.2,270.5C1900.5,270.3 1901.8,271.6 1903.0,271.8C1907.2,272.3 1911.3,281.8 1915.5,283.0C1917.0,283.4 1918.5,282.9 1920.0,282.5C1923.9,281.3 1927.8,270.3 1931.8,268.8C1933.0,268.3 1934.2,269.0 1935.5,269.5C1939.2,270.9 1943.0,281.3 1946.8,282.5C1950.5,282.3 1954.2,280.8 1958.0,280.0" stroke="#00c8d0"/>
<path d="M847.0,358.8C848.8,356.2 850.7,351.9 852.5,351.2C856.7,351.8 860.8,356.0 865.0,357.0C867.1,357.5 869.2,357.0 871.2,357.5C877.9,359.1 884.6,368.4 891.2,369.5C897.9,368.5 904.6,360.2 911.2,358.8C914.6,358.0 917.9,358.8 921.2,358.0C926.2,356.9 931.2,348.9 936.2,346.2C939.6,344.5 942.9,346.2 946.2,344.5C950.4,342.3 954.6,335.1 958.8,331.2C962.1,328.2 965.4,331.2 968.8,323.8C973.8,312.5 978.8,282.6 983.8,273.8C985.6,270.5 987.4,270.8 989.2,270.5C994.1,272.6 998.9,290.4 1003.8,292.5C1008.9,290.8 1014.1,276.2 1019.2,274.5C1021.2,275.0 1023.1,275.6 1025.0,280.0C1028.8,288.7 1032.5,305.8 1036.2,313.8C1039.2,319.9 1042.1,319.7 1045.0,322.5C1049.2,326.5 1053.3,333.2 1057.5,334.2C1061.4,333.8 1065.3,329.7 1069.2,329.2C1073.2,329.9 1077.2,335.1 1081.2,335.8C1083.3,335.3 1085.4,334.0 1087.5,331.2C1091.7,325.8 1095.8,312.0 1100.0,311.2C1101.7,311.0 1103.3,309.2 1105.0,309.5C1112.5,310.8 1120.0,318.1 1127.5,321.2C1132.5,323.3 1137.5,323.7 1142.5,325.0C1148.3,326.5 1154.2,329.1 1160.0,329.5C1165.0,329.0 1170.0,328.9 1175.0,323.8C1178.8,319.9 1182.5,314.9 1186.2,302.5C1189.6,291.5 1192.9,263.8 1196.2,253.8C1197.9,248.8 1199.6,249.2 1201.2,248.8C1202.9,249.6 1204.6,252.6 1206.2,257.5C1210.4,269.7 1214.6,290.8 1218.8,300.0C1222.5,308.3 1226.2,306.5 1230.0,310.0C1235.0,314.7 1240.0,323.1 1245.0,324.5C1251.7,324.4 1258.3,323.1 1265.0,323.0C1267.5,323.4 1270.0,325.1 1272.5,327.5C1277.9,332.6 1283.3,343.8 1288.8,345.5C1293.3,345.1 1297.9,344.6 1302.5,341.2C1308.3,337.0 1314.2,333.4 1320.0,322.5C1323.3,316.3 1326.7,305.4 1330.0,290.0C1333.3,274.6 1336.7,244.3 1340.0,230.0C1342.5,219.3 1345.0,215.2 1347.5,215.0C1349.6,214.8 1351.7,212.3 1353.8,212.5C1357.5,212.8 1361.2,212.5 1365.0,215.0C1367.5,216.7 1370.0,218.3 1372.5,225.0C1377.5,238.3 1382.5,262.1 1387.5,275.0C1393.3,290.0 1399.2,308.4 1405.0,308.8C1407.1,308.9 1409.2,311.4 1411.2,311.2C1413.8,311.1 1416.2,310.1 1418.8,310.0C1424.6,311.9 1430.4,328.6 1436.2,330.5C1440.0,330.4 1443.8,329.4 1447.5,329.2C1453.8,330.8 1460.0,344.0 1466.2,345.5C1471.2,344.3 1476.2,333.9 1481.2,332.5C1482.5,332.2 1483.8,332.7 1485.0,333.0C1490.0,334.4 1495.0,344.3 1500.0,345.5C1502.9,345.5 1505.8,345.0 1508.8,345.0C1515.0,346.4 1521.2,356.4 1527.5,360.5C1530.8,362.7 1534.2,362.4 1537.5,363.8C1541.7,365.4 1545.8,369.0 1550.0,369.5C1555.0,368.0 1560.0,355.5 1565.0,353.8C1566.2,353.3 1567.5,355.8 1568.8,356.2C1572.5,357.6 1576.2,369.0 1580.0,372.5C1583.3,375.6 1586.7,375.9 1590.0,376.2C1595.8,376.0 1601.7,375.1 1607.5,373.2C1612.1,371.8 1616.7,366.9 1621.2,366.2C1627.1,367.2 1632.9,375.3 1638.8,376.2C1642.9,375.3 1647.1,367.2 1651.2,366.2C1655.2,366.4 1659.1,367.8 1663.0,368.0C1666.3,367.8 1669.7,366.4 1673.0,366.2C1677.2,366.6 1681.3,369.2 1685.5,369.5C1690.5,367.9 1695.5,354.1 1700.5,352.5C1705.1,352.8 1709.7,355.2 1714.2,355.5C1717.2,354.9 1720.1,351.9 1723.0,348.8C1726.3,345.1 1729.7,339.5 1733.0,335.0C1736.8,329.9 1740.5,321.7 1744.2,320.0C1745.9,319.3 1747.6,318.0 1749.2,318.8C1751.8,319.9 1754.2,326.5 1756.8,330.0C1759.7,334.0 1762.6,340.2 1765.5,341.2C1767.6,340.9 1769.7,340.2 1771.8,337.5C1776.3,331.5 1780.9,324.4 1785.5,315.0C1789.7,306.5 1793.8,293.4 1798.0,283.8C1800.5,278.0 1803.0,270.1 1805.5,268.8C1806.6,268.2 1807.7,265.7 1808.8,266.2C1810.2,267.0 1811.6,270.0 1813.0,273.8C1816.8,283.7 1820.5,300.4 1824.2,307.5C1828.4,315.4 1832.6,314.7 1836.8,318.8C1840.9,322.8 1845.1,329.5 1849.2,332.0C1852.2,333.8 1855.1,332.3 1858.0,333.8C1862.6,336.0 1867.2,342.1 1871.8,343.0C1875.9,342.7 1880.1,340.3 1884.2,340.0C1888.8,341.2 1893.4,352.0 1898.0,353.2C1901.8,353.1 1905.5,351.4 1909.2,351.2C1914.2,351.9 1919.2,358.1 1924.2,358.8C1928.4,358.5 1932.6,356.5 1936.8,356.2C1941.3,356.6 1945.9,359.6 1950.5,360.0C1953.0,359.9 1955.5,359.2 1958.0,358.8" stroke="#cc9a06"/>
<path d="M847.0,428.8C848.8,427.9 850.7,426.5 852.5,426.2C856.2,428.0 860.0,443.7 863.8,445.5C867.9,444.9 872.1,441.0 876.2,439.2C878.8,438.2 881.2,438.8 883.8,437.0C887.9,434.0 892.1,426.1 896.2,425.0C900.2,426.1 904.1,435.9 908.0,437.0C912.4,434.8 916.8,415.2 921.2,413.0C925.7,415.0 930.1,432.3 934.5,434.2C938.7,432.4 942.8,416.1 947.0,414.2C950.1,414.3 953.2,414.5 956.2,414.5C960.8,413.2 965.4,404.3 970.0,400.8C972.5,398.8 975.0,400.8 977.5,398.0C981.4,393.7 985.3,382.2 989.2,376.2C991.0,373.6 992.8,372.4 994.5,372.0C999.0,373.3 1003.5,384.9 1008.0,386.2C1013.2,385.2 1018.5,376.5 1023.8,375.5C1029.2,377.6 1034.6,392.3 1040.0,398.0C1044.2,402.3 1048.3,402.7 1052.5,405.5C1057.9,409.2 1063.3,416.4 1068.8,417.5C1075.0,417.4 1081.2,417.5 1087.5,416.8C1092.9,416.1 1098.3,398.2 1103.8,396.2C1108.3,397.7 1112.9,410.3 1117.5,411.8C1122.1,410.9 1126.7,403.8 1131.2,403.0C1137.5,403.5 1143.8,405.3 1150.0,408.2C1154.6,410.4 1159.2,417.3 1163.8,418.2C1167.9,416.5 1172.1,406.2 1176.2,400.0C1179.6,395.1 1182.9,394.4 1186.2,385.0C1190.0,374.4 1193.8,351.9 1197.5,340.0C1199.6,333.4 1201.7,330.3 1203.8,329.2C1205.4,329.8 1207.1,331.2 1208.8,335.0C1213.3,345.6 1217.9,364.3 1222.5,372.5C1230.0,385.8 1237.5,397.0 1245.0,399.5C1250.0,399.3 1255.0,397.2 1260.0,397.0C1265.8,398.2 1271.7,405.3 1277.5,410.0C1283.8,415.0 1290.0,424.7 1296.2,426.2C1302.5,425.7 1308.8,423.3 1315.0,420.0C1317.5,418.7 1320.0,416.7 1322.5,412.5C1326.7,405.5 1330.8,392.7 1335.0,386.2C1339.2,379.8 1343.3,380.0 1347.5,373.8C1352.5,366.2 1357.5,352.4 1362.5,345.0C1365.0,341.3 1367.5,340.9 1370.0,340.5C1372.9,340.8 1375.8,340.5 1378.8,343.8C1384.6,350.2 1390.4,368.6 1396.2,376.2C1402.5,384.4 1408.8,387.2 1415.0,391.2C1418.8,393.7 1422.5,393.4 1426.2,395.5C1430.4,397.8 1434.6,403.7 1438.8,404.5C1442.9,404.3 1447.1,402.7 1451.2,402.5C1455.8,404.3 1460.4,420.0 1465.0,421.8C1469.6,421.1 1474.2,415.2 1478.8,414.5C1483.8,414.7 1488.8,415.5 1493.8,416.8C1500.0,418.3 1506.2,421.0 1512.5,423.0C1521.2,425.8 1530.0,426.1 1538.8,431.2C1544.2,434.4 1549.6,446.4 1555.0,448.0C1565.0,447.7 1575.0,444.8 1585.0,444.5C1589.6,444.9 1594.2,448.4 1598.8,448.8C1604.2,448.4 1609.6,445.0 1615.0,444.5C1622.5,443.8 1630.0,443.8 1637.5,443.8C1644.3,443.9 1651.2,445.3 1658.0,445.5C1663.0,444.7 1668.0,437.6 1673.0,436.8C1677.2,437.2 1681.3,440.8 1685.5,441.2C1691.3,440.0 1697.2,431.6 1703.0,428.2C1708.0,425.4 1713.0,424.2 1718.0,422.5C1720.9,421.5 1723.8,422.5 1726.8,420.0C1730.9,416.4 1735.1,403.3 1739.2,397.5C1741.3,394.6 1743.4,394.1 1745.5,393.8C1747.2,394.6 1748.8,398.5 1750.5,402.5C1753.0,408.5 1755.5,422.4 1758.0,423.8C1759.5,424.6 1761.0,425.3 1762.5,424.5C1765.2,423.0 1767.8,409.3 1770.5,403.8C1772.2,400.3 1773.8,398.1 1775.5,397.5C1778.4,398.0 1781.3,401.9 1784.2,402.5C1785.5,402.7 1786.8,401.5 1788.0,401.2C1791.3,400.6 1794.7,385.5 1798.0,380.0C1800.1,376.5 1802.2,374.6 1804.2,374.2C1805.5,374.0 1806.8,374.3 1808.0,374.5C1815.1,375.8 1822.2,379.9 1829.2,386.2C1834.7,391.1 1840.1,406.2 1845.5,408.0C1849.2,409.2 1853.0,408.0 1856.8,409.2C1861.8,410.9 1866.8,427.0 1871.8,428.2C1873.4,428.7 1875.1,428.7 1876.8,428.2C1880.9,427.2 1885.1,419.6 1889.2,418.8C1895.5,419.4 1901.8,424.9 1908.0,425.5C1913.8,425.4 1919.7,424.6 1925.5,424.5C1930.1,425.2 1934.7,431.3 1939.2,432.0C1943.8,431.0 1948.4,424.5 1953.0,421.8C1954.7,420.8 1956.3,421.1 1958.0,420.8" stroke="#b67be0"/>
<path d="M847.0,516.2C848.8,515.6 850.7,514.4 852.5,514.2C857.9,515.0 863.3,521.7 868.8,522.5C873.3,522.0 877.9,518.0 882.5,517.5C886.2,517.9 890.0,520.9 893.8,521.2C899.0,519.7 904.2,505.8 909.5,504.2C914.2,505.1 919.0,512.9 923.8,513.8C930.0,511.5 936.2,490.6 942.5,490.0C945.0,489.8 947.5,488.0 950.0,488.2C953.8,488.6 957.5,491.0 961.2,491.2C967.9,488.0 974.6,465.8 981.2,456.2C984.2,452.1 987.1,453.9 990.0,450.0C994.2,444.4 998.3,428.5 1002.5,427.5C1004.3,427.0 1006.2,425.3 1008.0,425.8C1011.6,426.6 1015.2,428.8 1018.8,433.8C1025.8,443.5 1032.9,459.4 1040.0,470.0C1045.0,477.5 1050.0,486.3 1055.0,488.0C1057.5,488.0 1060.0,487.5 1062.5,487.5C1066.7,487.7 1070.8,489.3 1075.0,489.5C1078.8,488.4 1082.5,483.4 1086.2,477.5C1092.1,468.4 1097.9,447.7 1103.8,444.5C1105.4,443.6 1107.1,442.8 1108.8,443.8C1113.3,446.3 1117.9,469.1 1122.5,471.2C1123.8,471.8 1125.0,472.3 1126.2,471.8C1130.4,469.8 1134.6,456.2 1138.8,454.2C1140.4,453.5 1142.1,455.5 1143.8,456.2C1147.9,458.2 1152.1,474.4 1156.2,476.2C1160.8,475.2 1165.4,472.7 1170.0,465.0C1174.6,457.3 1179.2,446.2 1183.8,430.0C1187.9,415.3 1192.1,374.8 1196.2,372.5C1197.5,371.8 1198.8,369.8 1200.0,370.5C1202.5,371.9 1205.0,380.1 1207.5,390.0C1211.7,406.6 1215.8,436.1 1220.0,450.0C1223.3,461.1 1226.7,461.1 1230.0,465.0C1235.4,471.3 1240.8,479.1 1246.2,480.5C1251.7,479.6 1257.1,471.6 1262.5,470.5C1264.2,470.2 1265.8,471.7 1267.5,472.0C1274.2,473.4 1280.8,499.6 1287.5,506.2C1291.2,510.0 1295.0,509.6 1298.8,510.0C1299.6,510.1 1300.4,510.1 1301.2,510.0C1305.8,509.5 1310.4,504.7 1315.0,502.5C1318.3,500.9 1321.7,502.5 1325.0,498.8C1327.5,495.9 1330.0,483.1 1332.5,475.0C1335.0,466.9 1337.5,457.1 1340.0,450.0C1343.3,440.5 1346.7,434.4 1350.0,425.0C1354.2,413.2 1358.3,395.5 1362.5,386.2C1365.4,379.8 1368.3,378.8 1371.2,378.0C1372.9,378.8 1374.6,382.7 1376.2,386.2C1380.0,394.2 1383.8,404.8 1387.5,412.5C1390.8,419.4 1394.2,423.7 1397.5,430.0C1402.9,440.3 1408.3,453.8 1413.8,462.5C1416.7,467.2 1419.6,467.5 1422.5,470.0C1427.5,474.2 1432.5,481.3 1437.5,482.5C1442.1,482.3 1446.7,480.7 1451.2,480.5C1452.9,481.4 1454.6,486.9 1456.2,490.0C1460.8,498.4 1465.4,512.7 1470.0,515.0C1473.8,513.6 1477.5,501.1 1481.2,500.5C1482.9,500.2 1484.6,498.5 1486.2,498.8C1490.8,499.5 1495.4,504.9 1500.0,505.5C1503.3,505.3 1506.7,503.9 1510.0,503.8C1512.5,504.3 1515.0,507.6 1517.5,510.0C1525.8,517.9 1534.2,532.2 1542.5,534.5C1547.1,533.7 1551.7,527.0 1556.2,526.2C1559.2,526.5 1562.1,528.5 1565.0,528.8C1569.6,528.5 1574.2,526.5 1578.8,526.2C1583.3,526.7 1587.9,530.8 1592.5,531.2C1596.2,531.0 1600.0,529.0 1603.8,528.8C1607.5,529.2 1611.2,533.3 1615.0,533.8C1620.0,532.8 1625.0,524.7 1630.0,523.8C1635.8,524.7 1641.7,533.1 1647.5,533.8C1648.5,533.9 1649.5,535.1 1650.5,535.0C1656.3,534.3 1662.2,530.1 1668.0,528.8C1673.0,527.6 1678.0,528.8 1683.0,527.5C1688.8,526.0 1694.7,516.7 1700.5,512.5C1703.8,510.1 1707.2,508.0 1710.5,507.5C1715.1,507.5 1719.7,508.0 1724.2,508.0C1728.4,505.7 1732.6,485.4 1736.8,483.8C1738.4,483.1 1740.1,481.8 1741.8,482.5C1745.5,484.0 1749.2,492.8 1753.0,496.2C1757.6,500.5 1762.2,504.6 1766.8,505.5C1769.2,505.0 1771.8,503.4 1774.2,500.0C1780.1,492.0 1785.9,483.3 1791.8,471.2C1795.5,463.5 1799.2,442.8 1803.0,440.8C1805.1,439.6 1807.2,439.6 1809.2,440.8C1813.0,442.8 1816.8,460.8 1820.5,465.0C1823.8,468.8 1827.2,466.0 1830.5,468.8C1835.1,472.5 1839.7,482.1 1844.2,484.5C1847.6,486.2 1850.9,484.5 1854.2,486.2C1860.5,489.5 1866.8,494.4 1873.0,500.0C1877.2,503.7 1881.3,512.9 1885.5,514.2C1890.1,513.3 1894.7,505.4 1899.2,504.5C1903.4,504.9 1907.6,507.7 1911.8,508.8C1915.5,509.7 1919.2,508.8 1923.0,510.5C1926.8,512.2 1930.5,519.6 1934.2,520.5C1939.2,518.9 1944.2,505.3 1949.2,503.8C1952.2,504.6 1955.1,509.6 1958.0,512.5" stroke="#38a96c"/>
<path d="M847.0,613.2C849.2,612.8 851.5,611.9 853.8,611.8C856.8,611.9 859.9,613.6 863.0,613.8C865.3,613.2 867.7,610.4 870.0,607.5C873.3,603.3 876.7,593.9 880.0,592.5C884.2,593.1 888.3,598.6 892.5,599.2C897.1,598.4 901.7,591.5 906.2,590.5C908.3,590.1 910.4,592.1 912.5,592.5C915.7,593.2 918.8,602.2 922.0,603.2C923.4,602.9 924.8,602.2 926.2,600.0C930.2,593.8 934.1,580.1 938.0,578.0C942.4,578.7 946.8,584.3 951.2,585.0C954.6,584.6 957.9,581.8 961.2,580.5C964.2,579.3 967.1,580.5 970.0,577.5C975.0,572.4 980.0,556.0 985.0,553.8C988.8,553.9 992.5,554.9 996.2,555.0C998.3,554.2 1000.4,549.2 1002.5,546.2C1006.7,540.2 1010.8,530.0 1015.0,528.0C1017.1,527.0 1019.2,529.5 1021.2,530.5C1027.5,533.5 1033.8,553.6 1040.0,562.5C1044.2,568.4 1048.3,574.7 1052.5,575.0C1055.0,575.2 1057.5,577.7 1060.0,577.5C1064.2,577.2 1068.3,575.5 1072.5,575.0C1076.7,574.5 1080.8,575.0 1085.0,574.5C1091.7,573.7 1098.3,550.5 1105.0,548.0C1110.8,549.5 1116.7,562.7 1122.5,564.2C1129.2,562.7 1135.8,549.4 1142.5,547.5C1144.2,547.0 1145.8,549.5 1147.5,550.0C1151.7,551.2 1155.8,564.1 1160.0,565.5C1161.7,565.2 1163.3,564.7 1165.0,562.5C1170.4,555.4 1175.8,552.3 1181.2,537.5C1183.8,530.7 1186.2,510.9 1188.8,497.5C1191.8,481.0 1194.9,452.6 1198.0,448.0C1199.5,448.7 1201.0,449.3 1202.5,455.0C1206.7,470.8 1210.8,497.9 1215.0,512.5C1219.2,527.1 1223.3,533.8 1227.5,542.5C1230.0,547.8 1232.5,551.7 1235.0,554.5C1237.5,557.3 1240.0,557.4 1242.5,559.2C1245.8,561.7 1249.2,566.7 1252.5,567.5C1257.1,566.1 1261.7,554.6 1266.2,553.0C1267.5,552.6 1268.8,555.1 1270.0,555.5C1274.2,557.0 1278.3,573.7 1282.5,579.2C1285.4,583.1 1288.3,580.9 1291.2,583.8C1295.0,587.4 1298.8,594.7 1302.5,598.8C1304.3,600.7 1306.2,601.5 1308.0,601.8C1312.8,600.4 1317.7,591.8 1322.5,587.5C1326.7,583.8 1330.8,582.9 1335.0,577.5C1337.9,573.7 1340.8,568.0 1343.8,560.0C1347.5,549.7 1351.2,531.2 1355.0,522.5C1358.3,514.7 1361.7,510.7 1365.0,510.5C1367.5,510.4 1370.0,507.9 1372.5,508.0C1376.2,508.2 1380.0,508.6 1383.8,510.0C1385.8,510.8 1387.9,511.8 1390.0,514.5C1395.0,521.0 1400.0,531.5 1405.0,537.5C1409.6,543.0 1414.2,545.2 1418.8,548.8C1422.5,551.7 1426.2,556.2 1430.0,557.0C1434.2,556.9 1438.3,556.3 1442.5,556.2C1447.5,558.0 1452.5,571.0 1457.5,575.0C1463.8,580.0 1470.0,582.5 1476.2,583.2C1480.8,582.8 1485.4,579.2 1490.0,578.8C1495.0,579.9 1500.0,590.1 1505.0,591.2C1510.4,591.1 1515.8,589.7 1521.2,589.5C1527.5,590.9 1533.8,603.4 1540.0,604.5C1545.8,605.5 1551.7,605.4 1557.5,605.5C1561.7,605.2 1565.8,602.8 1570.0,602.5C1574.8,603.7 1579.7,614.3 1584.5,615.5C1588.4,614.9 1592.3,610.1 1596.2,609.5C1600.7,610.0 1605.1,614.5 1609.5,615.0C1614.7,614.1 1619.8,606.4 1625.0,605.5C1629.2,605.7 1633.3,607.0 1637.5,608.0C1641.7,609.0 1645.8,610.9 1650.0,611.2C1655.6,610.1 1661.2,600.4 1666.8,599.2C1670.9,599.6 1675.1,602.2 1679.2,602.5C1684.7,600.9 1690.1,587.3 1695.5,585.8C1700.5,586.5 1705.5,593.5 1710.5,594.2C1714.7,593.3 1718.8,589.4 1723.0,583.8C1728.4,576.4 1733.8,558.5 1739.2,555.5C1741.3,554.4 1743.4,553.9 1745.5,555.0C1750.1,557.5 1754.7,582.5 1759.2,583.8C1760.5,584.1 1761.8,586.6 1763.0,586.2C1766.8,585.2 1770.5,577.6 1774.2,576.8C1778.0,576.8 1781.8,577.4 1785.5,577.5C1788.8,575.2 1792.2,559.7 1795.5,552.5C1798.4,546.2 1801.3,538.2 1804.2,536.8C1805.5,537.1 1806.8,538.8 1808.0,540.5C1811.8,545.7 1815.5,557.5 1819.2,557.5C1823.0,557.5 1826.8,557.5 1830.5,557.5C1836.8,557.5 1843.0,567.3 1849.2,571.2C1856.8,575.9 1864.2,583.2 1871.8,583.2C1875.5,583.2 1879.2,583.2 1883.0,583.2C1887.6,583.2 1892.2,589.8 1896.8,590.5C1900.5,590.1 1904.2,587.1 1908.0,586.8C1912.2,587.2 1916.3,591.5 1920.5,592.0C1925.5,591.2 1930.5,584.5 1935.5,583.8C1940.1,584.6 1944.7,591.8 1949.2,593.0C1952.2,593.8 1955.1,593.5 1958.0,593.8" stroke="#1a6de0"/>
<path d="M847.0,675.8C848.8,677.2 850.7,677.8 852.5,680.0C856.5,684.8 860.5,695.2 864.5,696.8C868.4,695.8 872.3,688.1 876.2,686.2C880.0,684.5 883.8,686.2 887.5,684.5C892.1,682.4 896.7,667.8 901.2,666.8C902.9,666.4 904.6,665.9 906.2,666.2C909.6,667.0 912.9,672.4 916.2,673.0C919.6,672.6 922.9,669.8 926.2,668.8C929.6,667.7 932.9,668.8 936.2,666.8C941.7,663.5 947.1,639.9 952.5,639.2C954.2,639.0 955.8,638.5 957.5,638.8C961.2,639.2 965.0,642.6 968.8,643.0C971.7,642.0 974.6,638.1 977.5,632.5C982.1,623.7 986.7,601.6 991.2,600.0C992.9,599.4 994.6,596.9 996.2,597.5C1000.4,598.9 1004.6,609.3 1008.8,610.5C1012.5,609.9 1016.2,605.2 1020.0,604.5C1021.2,604.3 1022.5,605.3 1023.8,605.5C1029.2,606.5 1034.6,618.7 1040.0,625.0C1044.2,629.8 1048.3,634.8 1052.5,638.8C1055.0,641.1 1057.5,641.8 1060.0,643.8C1064.2,647.0 1068.3,653.5 1072.5,654.5C1077.5,652.6 1082.5,639.5 1087.5,634.5C1092.5,629.5 1097.5,625.4 1102.5,624.5C1108.3,625.3 1114.2,630.5 1120.0,633.0C1122.5,634.0 1125.0,633.8 1127.5,635.0C1131.7,637.0 1135.8,642.5 1140.0,642.5C1143.8,642.5 1147.5,642.5 1151.2,642.5C1155.0,642.5 1158.8,645.2 1162.5,645.5C1167.1,643.7 1171.7,631.3 1176.2,626.2C1179.6,622.6 1182.9,624.2 1186.2,619.5C1190.0,614.2 1193.8,598.3 1197.5,596.2C1199.2,595.3 1200.8,594.1 1202.5,595.0C1206.7,597.3 1210.8,618.6 1215.0,627.5C1217.5,632.8 1220.0,635.8 1222.5,637.5C1228.3,641.6 1234.2,644.3 1240.0,645.0C1242.5,645.0 1245.0,644.5 1247.5,644.5C1251.7,644.7 1255.8,646.4 1260.0,647.0C1262.9,647.4 1265.8,647.0 1268.8,647.5C1274.6,648.5 1280.4,673.9 1286.2,674.2C1290.0,674.5 1293.8,674.5 1297.5,674.5C1300.8,674.5 1304.2,675.5 1307.5,675.5C1312.5,675.5 1317.5,668.5 1322.5,660.0C1326.7,652.9 1330.8,638.8 1335.0,628.8C1339.2,618.8 1343.3,613.3 1347.5,600.0C1350.0,592.0 1352.5,576.9 1355.0,565.0C1357.5,553.1 1360.0,530.1 1362.5,528.8C1364.2,527.8 1365.8,525.3 1367.5,526.2C1370.0,527.6 1372.5,540.9 1375.0,550.0C1377.1,557.6 1379.2,570.0 1381.2,576.2C1385.0,587.5 1388.8,593.6 1392.5,602.5C1396.7,612.4 1400.8,625.3 1405.0,632.5C1407.5,636.8 1410.0,636.0 1412.5,637.0C1415.0,638.0 1417.5,637.4 1420.0,638.8C1425.0,641.5 1430.0,648.5 1435.0,649.5C1439.2,649.3 1443.3,647.7 1447.5,647.5C1452.1,649.6 1456.7,669.2 1461.2,670.0C1462.5,670.2 1463.8,672.2 1465.0,672.0C1469.2,671.3 1473.3,666.1 1477.5,665.5C1480.8,665.8 1484.2,668.8 1487.5,668.8C1490.4,668.8 1493.3,668.8 1496.2,668.8C1500.0,668.8 1503.8,672.1 1507.5,672.5C1511.7,672.3 1515.8,670.2 1520.0,670.0C1525.0,671.6 1530.0,685.9 1535.0,687.5C1539.2,687.1 1543.3,684.1 1547.5,683.8C1552.1,684.4 1556.7,689.9 1561.2,690.5C1565.0,690.0 1568.8,686.0 1572.5,685.5C1577.1,686.3 1581.7,693.0 1586.2,693.8C1590.0,693.5 1593.8,691.5 1597.5,691.2C1601.7,691.4 1605.8,692.4 1610.0,692.5C1613.3,692.3 1616.7,690.7 1620.0,690.5C1625.0,690.9 1630.0,694.1 1635.0,694.5C1640.0,694.3 1645.0,692.2 1650.0,692.0C1656.7,692.4 1663.3,695.9 1670.0,696.2C1674.3,695.8 1678.7,692.9 1683.0,691.2C1686.8,689.8 1690.5,689.8 1694.2,686.8C1699.7,682.3 1705.1,670.4 1710.5,668.8C1715.1,669.4 1719.7,675.1 1724.2,675.8C1727.2,674.3 1730.1,666.4 1733.0,660.0C1735.9,653.6 1738.8,638.7 1741.8,637.5C1743.0,637.0 1744.2,634.5 1745.5,635.0C1747.2,635.7 1748.8,637.4 1750.5,641.2C1754.2,649.9 1758.0,670.9 1761.8,672.5C1763.0,673.0 1764.2,674.8 1765.5,674.2C1768.8,672.8 1772.2,665.2 1775.5,661.2C1778.0,658.3 1780.5,659.0 1783.0,653.8C1785.5,648.5 1788.0,638.5 1790.5,630.0C1793.0,621.5 1795.5,609.8 1798.0,602.5C1799.2,598.8 1800.5,597.6 1801.8,597.0C1803.0,596.4 1804.2,598.1 1805.5,598.8C1808.4,600.2 1811.3,612.2 1814.2,616.2C1818.0,621.4 1821.8,621.5 1825.5,626.2C1829.7,631.5 1833.8,642.5 1838.0,646.2C1842.2,650.0 1846.3,648.1 1850.5,650.0C1855.1,652.1 1859.7,656.2 1864.2,658.0C1868.0,659.5 1871.8,658.1 1875.5,660.0C1880.5,662.5 1885.5,670.2 1890.5,671.2C1894.2,670.8 1898.0,667.2 1901.8,666.8C1907.6,667.2 1913.4,668.4 1919.2,671.2C1923.8,673.5 1928.4,681.0 1933.0,682.0C1937.6,680.8 1942.2,670.2 1946.8,668.8C1948.0,668.3 1949.2,669.6 1950.5,670.0C1953.0,670.8 1955.5,676.7 1958.0,680.0" stroke="#ef4040"/>
<path d="M847.0,763.8C849.2,761.0 851.5,756.3 853.8,755.5C856.7,755.6 859.6,756.9 862.5,757.0C866.7,756.0 870.8,747.3 875.0,746.2C879.6,747.5 884.2,758.7 888.8,760.0C890.4,759.7 892.1,758.5 893.8,757.0C897.5,753.5 901.2,747.7 905.0,745.0C910.0,741.4 915.0,738.8 920.0,738.0C921.2,737.8 922.5,738.6 923.8,738.8C927.9,739.4 932.1,752.1 936.2,753.8C937.3,754.2 938.4,754.2 939.5,753.8C944.2,751.9 949.0,720.1 953.8,718.0C955.0,717.4 956.2,715.7 957.5,716.2C961.2,717.9 965.0,729.6 968.8,731.2C970.4,732.0 972.1,729.5 973.8,728.8C977.9,726.9 982.1,702.8 986.2,692.5C987.5,689.4 988.8,689.1 990.0,688.8C994.6,690.0 999.2,700.5 1003.8,701.8C1009.2,700.5 1014.6,690.0 1020.0,688.8C1021.7,689.1 1023.3,689.4 1025.0,692.0C1028.8,697.8 1032.5,708.3 1036.2,713.8C1039.2,718.0 1042.1,717.5 1045.0,721.2C1049.2,726.6 1053.3,739.2 1057.5,741.2C1058.8,741.9 1060.0,741.1 1061.2,740.5C1065.4,738.4 1069.6,723.7 1073.8,722.0C1077.1,722.2 1080.4,724.0 1083.8,724.2C1085.4,724.0 1087.1,723.5 1088.8,721.2C1092.5,716.2 1096.2,703.8 1100.0,702.5C1101.7,701.9 1103.3,703.2 1105.0,703.8C1111.2,705.9 1117.5,721.6 1123.8,723.0C1125.4,723.4 1127.1,722.9 1128.8,722.5C1134.2,721.3 1139.6,712.4 1145.0,711.8C1147.1,711.5 1149.2,710.5 1151.2,710.8C1155.4,711.2 1159.6,714.6 1163.8,715.0C1165.4,714.6 1167.1,713.7 1168.8,711.2C1174.6,702.8 1180.4,696.4 1186.2,682.5C1190.0,673.5 1193.8,652.4 1197.5,642.5C1198.9,638.8 1200.3,639.1 1201.8,638.8C1203.2,639.3 1204.8,640.5 1206.2,645.0C1209.6,655.1 1212.9,672.9 1216.2,682.5C1219.6,692.1 1222.9,698.1 1226.2,702.5C1230.8,708.5 1235.4,710.8 1240.0,713.8C1242.9,715.6 1245.8,716.5 1248.8,716.8C1253.3,716.1 1257.9,710.3 1262.5,709.5C1263.8,709.3 1265.0,711.0 1266.2,711.2C1270.8,712.1 1275.4,728.9 1280.0,735.0C1283.3,739.5 1286.7,742.3 1290.0,743.0C1293.8,742.8 1297.5,741.4 1301.2,741.2C1303.5,741.1 1305.8,742.8 1308.0,743.0C1310.8,743.2 1313.5,745.7 1316.2,745.5C1319.2,745.2 1322.1,743.1 1325.0,737.5C1329.2,729.6 1333.3,715.2 1337.5,705.0C1340.8,696.9 1344.2,691.4 1347.5,682.5C1350.4,674.7 1353.3,661.5 1356.2,655.0C1358.5,650.0 1360.8,648.7 1363.0,648.0C1367.0,649.4 1371.0,655.7 1375.0,662.5C1380.0,671.0 1385.0,686.9 1390.0,693.8C1394.2,699.4 1398.3,696.2 1402.5,700.0C1407.1,704.2 1411.7,713.9 1416.2,718.0C1419.6,721.0 1422.9,718.6 1426.2,721.2C1430.8,724.9 1435.4,735.5 1440.0,737.0C1444.0,735.9 1448.0,726.6 1452.0,725.5C1453.4,725.9 1454.8,727.6 1456.2,730.0C1459.6,735.7 1462.9,749.0 1466.2,750.0C1467.3,750.3 1468.4,752.3 1469.5,752.0C1473.0,751.0 1476.5,743.8 1480.0,743.0C1483.8,743.3 1487.5,745.9 1491.2,746.2C1494.6,745.9 1497.9,743.3 1501.2,743.0C1506.7,744.4 1512.1,755.2 1517.5,757.5C1520.4,758.8 1523.3,757.7 1526.2,758.8C1531.7,760.6 1537.1,764.4 1542.5,766.2C1545.4,767.3 1548.3,766.7 1551.2,767.5C1556.2,768.8 1561.2,772.0 1566.2,772.5C1570.4,771.5 1574.6,762.5 1578.8,761.2C1580.4,760.8 1582.1,760.8 1583.8,761.2C1588.3,762.6 1592.9,777.8 1597.5,779.5C1598.8,780.0 1600.0,780.0 1601.2,779.5C1605.8,777.8 1610.4,765.2 1615.0,763.8C1620.8,763.8 1626.7,764.0 1632.5,764.5C1641.0,765.2 1649.5,767.2 1658.0,767.5C1661.3,767.6 1664.7,767.6 1668.0,767.5C1673.0,767.3 1678.0,763.4 1683.0,763.0C1686.8,763.1 1690.5,763.7 1694.2,763.8C1699.2,762.7 1704.2,753.1 1709.2,752.0C1713.0,752.6 1716.8,757.4 1720.5,758.0C1722.2,757.7 1723.8,758.0 1725.5,755.0C1728.8,749.0 1732.2,730.6 1735.5,728.8C1737.3,727.7 1739.2,725.2 1741.0,726.2C1745.0,728.5 1749.0,745.8 1753.0,746.2C1755.1,746.5 1757.2,749.0 1759.2,748.8C1764.2,748.2 1769.2,748.4 1774.2,743.8C1779.7,738.8 1785.1,727.6 1790.5,720.0C1794.2,714.7 1798.0,706.4 1801.8,705.0C1803.4,704.4 1805.1,704.4 1806.8,705.0C1815.9,708.3 1825.1,726.9 1834.2,735.0C1839.7,739.8 1845.1,742.1 1850.5,743.8C1854.7,745.0 1858.8,744.2 1863.0,745.0C1867.6,745.9 1872.2,748.4 1876.8,748.8C1880.5,748.4 1884.2,745.4 1888.0,745.0C1892.6,746.6 1897.2,760.9 1901.8,762.5C1905.5,762.3 1909.2,760.2 1913.0,760.0C1917.2,760.9 1921.3,769.1 1925.5,770.0C1930.5,768.6 1935.5,756.4 1940.5,755.0C1944.7,755.8 1948.8,762.9 1953.0,763.8C1954.7,763.7 1956.3,763.4 1958.0,763.2" stroke="#4d4d4d"/>
<path d="M847.0,1108.0C850.5,1107.7 854.0,1107.9 857.5,1107.0C862.1,1105.9 866.7,1102.5 871.2,1102.0C876.2,1102.3 881.2,1104.7 886.2,1105.0C891.2,1104.6 896.2,1102.3 901.2,1100.5C906.7,1098.5 912.1,1094.4 917.5,1093.8C922.1,1093.9 926.7,1095.3 931.2,1095.5C935.8,1094.5 940.4,1087.6 945.0,1084.5C950.8,1080.5 956.7,1077.1 962.5,1074.2C965.8,1072.6 969.2,1074.2 972.5,1071.2C974.6,1069.4 976.7,1065.4 978.8,1060.0C981.7,1052.5 984.6,1039.8 987.5,1032.5C990.0,1026.3 992.5,1020.7 995.0,1019.5C1000.0,1020.0 1005.0,1024.0 1010.0,1024.5C1014.6,1024.2 1019.2,1021.6 1023.8,1021.2C1025.8,1021.6 1027.9,1021.5 1030.0,1024.5C1033.3,1029.4 1036.7,1038.2 1040.0,1045.0C1043.3,1051.8 1046.7,1059.6 1050.0,1065.0C1053.3,1070.4 1056.7,1077.0 1060.0,1077.5C1062.5,1077.9 1065.0,1079.9 1067.5,1079.5C1072.5,1078.7 1077.5,1077.8 1082.5,1072.5C1088.3,1066.3 1094.2,1052.8 1100.0,1045.0C1102.5,1041.7 1105.0,1039.9 1107.5,1039.2C1109.2,1038.8 1110.8,1040.8 1112.5,1041.2C1117.5,1042.5 1122.5,1060.5 1127.5,1062.5C1133.3,1061.1 1139.2,1049.6 1145.0,1048.0C1146.7,1047.5 1148.3,1048.8 1150.0,1049.2C1154.6,1050.5 1159.2,1061.7 1163.8,1063.0C1165.4,1062.7 1167.1,1063.0 1168.8,1060.0C1172.5,1053.2 1176.2,1040.8 1180.0,1030.0C1183.3,1020.4 1186.7,1006.7 1190.0,998.8C1193.3,990.8 1196.7,984.3 1200.0,982.5C1202.1,981.4 1204.2,979.4 1206.2,980.5C1208.3,981.6 1210.4,986.8 1212.5,991.2C1215.0,996.6 1217.5,1005.9 1220.0,1010.0C1224.2,1016.8 1228.3,1016.9 1232.5,1023.8C1236.7,1030.6 1240.8,1049.0 1245.0,1051.2C1246.4,1052.0 1247.8,1053.8 1249.2,1053.0C1253.7,1050.6 1258.1,1033.7 1262.5,1031.2C1264.2,1030.3 1265.8,1031.6 1267.5,1032.5C1271.7,1034.8 1275.8,1050.0 1280.0,1055.0C1284.2,1060.0 1288.3,1059.6 1292.5,1062.5C1295.8,1064.8 1299.2,1070.0 1302.5,1070.8C1307.5,1068.9 1312.5,1057.5 1317.5,1051.2C1320.4,1047.6 1323.3,1048.5 1326.2,1041.2C1330.8,1029.8 1335.4,1009.2 1340.0,995.0C1343.3,984.6 1346.7,977.5 1350.0,967.5C1354.2,955.0 1358.3,929.8 1362.5,927.5C1364.3,926.5 1366.2,924.0 1368.0,925.0C1369.5,925.8 1371.0,929.1 1372.5,932.5C1375.8,940.0 1379.2,949.4 1382.5,957.5C1385.0,963.6 1387.5,966.7 1390.0,975.0C1393.8,987.5 1397.5,1010.1 1401.2,1020.0C1403.3,1025.5 1405.4,1024.4 1407.5,1025.5C1410.0,1026.9 1412.5,1025.5 1415.0,1027.5C1419.2,1030.8 1423.3,1045.0 1427.5,1052.5C1429.0,1055.2 1430.5,1057.5 1432.0,1058.0C1435.5,1057.9 1439.0,1057.1 1442.5,1057.0C1447.9,1057.9 1453.3,1066.6 1458.8,1067.0C1460.8,1067.2 1462.9,1068.2 1465.0,1068.0C1469.6,1067.7 1474.2,1065.3 1478.8,1065.0C1483.3,1065.1 1487.9,1065.7 1492.5,1065.8C1496.7,1065.6 1500.8,1064.6 1505.0,1064.5C1510.0,1065.9 1515.0,1079.3 1520.0,1080.0C1522.1,1080.3 1524.2,1082.8 1526.2,1082.5C1530.4,1081.9 1534.6,1077.5 1538.8,1077.0C1543.8,1078.4 1548.8,1090.4 1553.8,1091.8C1558.3,1091.1 1562.9,1085.6 1567.5,1085.0C1571.8,1085.7 1576.2,1091.8 1580.5,1092.5C1585.3,1091.7 1590.2,1084.6 1595.0,1083.8C1600.8,1084.1 1606.7,1085.3 1612.5,1088.0C1617.9,1090.5 1623.3,1098.0 1628.8,1099.2C1630.4,1099.6 1632.1,1099.1 1633.8,1098.8C1638.8,1097.6 1643.8,1087.0 1648.8,1085.8C1652.7,1085.9 1656.6,1087.3 1660.5,1087.5C1663.8,1087.3 1667.2,1085.2 1670.5,1085.0C1674.7,1085.7 1678.8,1092.3 1683.0,1093.0C1687.0,1092.0 1691.0,1082.8 1695.0,1081.8C1698.1,1082.4 1701.2,1088.0 1704.2,1088.8C1705.5,1089.1 1706.8,1086.6 1708.0,1086.2C1710.9,1085.5 1713.8,1065.5 1716.8,1057.5C1718.0,1054.0 1719.2,1052.3 1720.5,1051.8C1723.8,1053.0 1727.2,1064.0 1730.5,1065.5C1731.3,1065.9 1732.2,1067.4 1733.0,1067.0C1735.9,1065.7 1738.8,1042.5 1741.8,1032.5C1743.0,1028.2 1744.2,1025.0 1745.5,1024.2C1747.2,1024.8 1748.8,1025.7 1750.5,1030.0C1753.4,1037.6 1756.3,1053.0 1759.2,1060.0C1760.5,1063.0 1761.8,1062.7 1763.0,1063.0C1765.9,1061.8 1768.8,1050.5 1771.8,1050.0C1774.7,1049.5 1777.6,1050.0 1780.5,1049.5C1781.8,1049.3 1783.0,1048.0 1784.2,1043.8C1787.2,1034.0 1790.1,1017.3 1793.0,1007.5C1794.7,1001.9 1796.3,1000.2 1798.0,997.5C1800.5,993.5 1803.0,991.7 1805.5,987.5C1808.2,983.1 1810.8,973.2 1813.5,971.8C1815.0,972.5 1816.5,974.3 1818.0,980.0C1820.9,991.2 1823.8,1010.8 1826.8,1022.5C1828.0,1027.5 1829.2,1030.0 1830.5,1030.0C1833.4,1030.0 1836.3,1030.0 1839.2,1030.0C1843.4,1030.0 1847.6,1048.8 1851.8,1050.8C1855.1,1050.1 1858.4,1045.0 1861.8,1044.2C1863.0,1044.0 1864.2,1044.7 1865.5,1045.0C1869.7,1045.9 1873.8,1065.2 1878.0,1072.5C1879.7,1075.4 1881.3,1075.2 1883.0,1075.5C1885.9,1075.4 1888.8,1074.4 1891.8,1074.2C1894.7,1074.1 1897.6,1075.6 1900.5,1075.8C1904.2,1075.9 1908.0,1075.8 1911.8,1077.0C1915.9,1078.4 1920.1,1086.3 1924.2,1087.5C1925.5,1087.8 1926.8,1087.1 1928.0,1086.8C1931.8,1085.7 1935.5,1075.2 1939.2,1073.8C1941.3,1072.9 1943.4,1072.2 1945.5,1073.0C1950.1,1074.8 1954.7,1088.5 1959.2,1096.2" stroke="#b67be0"/>
<path d="M847.0,1200.8C849.7,1200.5 852.3,1200.8 855.0,1200.0C859.6,1198.7 864.2,1192.1 868.8,1191.2C873.3,1191.7 877.9,1195.3 882.5,1195.8C885.8,1195.6 889.2,1193.8 892.5,1193.8C896.2,1193.8 900.0,1193.8 903.8,1193.8C908.3,1193.8 912.9,1182.9 917.5,1181.8C921.7,1181.9 925.8,1182.9 930.0,1183.0C934.6,1181.9 939.2,1174.2 943.8,1171.2C946.7,1169.4 949.6,1170.8 952.5,1168.8C956.7,1165.8 960.8,1159.7 965.0,1156.2C968.3,1153.5 971.7,1154.9 975.0,1150.0C977.1,1147.0 979.2,1140.5 981.2,1132.5C983.8,1123.0 986.2,1105.6 988.8,1097.5C990.8,1090.8 992.9,1088.9 995.0,1088.0C996.7,1088.3 998.3,1089.4 1000.0,1091.2C1003.3,1094.9 1006.7,1103.3 1010.0,1104.5C1013.8,1104.0 1017.5,1099.4 1021.2,1098.8C1022.9,1098.5 1024.6,1099.7 1026.2,1100.0C1030.0,1100.6 1033.8,1121.3 1037.5,1130.0C1041.7,1139.6 1045.8,1148.3 1050.0,1155.0C1053.3,1160.4 1056.7,1165.7 1060.0,1166.2C1062.1,1166.6 1064.2,1168.6 1066.2,1168.2C1070.8,1167.5 1075.4,1165.2 1080.0,1161.2C1085.0,1157.0 1090.0,1147.9 1095.0,1143.8C1099.6,1140.0 1104.2,1138.2 1108.8,1137.5C1110.8,1137.2 1112.9,1139.7 1115.0,1140.0C1119.2,1140.6 1123.3,1147.8 1127.5,1148.8C1129.2,1149.1 1130.8,1146.6 1132.5,1146.2C1136.2,1145.4 1140.0,1131.8 1143.8,1130.0C1145.0,1129.4 1146.2,1131.4 1147.5,1132.0C1150.8,1133.6 1154.2,1149.4 1157.5,1151.2C1158.6,1151.8 1159.7,1153.1 1160.8,1152.5C1165.1,1150.1 1169.4,1134.5 1173.8,1125.0C1176.7,1118.6 1179.6,1117.4 1182.5,1105.0C1185.8,1090.8 1189.2,1060.2 1192.5,1045.0C1194.8,1034.8 1197.0,1030.3 1199.2,1028.8C1200.8,1029.3 1202.2,1030.1 1203.8,1035.0C1207.5,1047.2 1211.2,1068.9 1215.0,1080.0C1220.8,1097.2 1226.7,1109.8 1232.5,1120.0C1238.1,1129.8 1243.7,1138.1 1249.2,1140.0C1251.2,1139.4 1253.1,1138.4 1255.0,1133.8C1257.9,1126.7 1260.8,1112.9 1263.8,1105.0C1264.8,1102.3 1265.8,1102.3 1266.8,1102.0C1268.2,1102.6 1269.8,1104.7 1271.2,1108.8C1274.6,1117.8 1277.9,1135.0 1281.2,1141.2C1285.0,1148.3 1288.8,1145.4 1292.5,1148.8C1296.2,1152.1 1300.0,1160.1 1303.8,1161.2C1307.5,1159.8 1311.2,1152.2 1315.0,1146.2C1318.3,1141.0 1321.7,1137.7 1325.0,1127.5C1327.5,1119.8 1330.0,1104.3 1332.5,1092.5C1335.8,1076.8 1339.2,1058.8 1342.5,1045.0C1345.0,1034.6 1347.5,1029.4 1350.0,1020.0C1354.2,1004.4 1358.3,971.4 1362.5,970.0C1363.3,969.7 1364.2,967.2 1365.0,967.5C1366.2,967.9 1367.5,967.5 1368.8,971.2C1372.5,982.5 1376.2,1011.1 1380.0,1025.0C1383.3,1037.4 1386.7,1039.3 1390.0,1050.0C1394.2,1063.4 1398.3,1084.3 1402.5,1097.5C1405.4,1106.8 1408.3,1117.3 1411.2,1117.5C1412.9,1117.6 1414.6,1119.3 1416.2,1119.2C1418.8,1119.1 1421.2,1118.1 1423.8,1118.0C1427.9,1120.7 1432.1,1138.8 1436.2,1147.0C1437.5,1149.5 1438.8,1149.7 1440.0,1150.0C1442.9,1149.3 1445.8,1142.9 1448.8,1142.0C1450.4,1141.5 1452.1,1141.5 1453.8,1142.0C1457.5,1143.1 1461.2,1152.0 1465.0,1153.0C1469.2,1152.9 1473.3,1153.0 1477.5,1152.0C1482.1,1150.9 1486.7,1145.7 1491.2,1145.0C1495.8,1145.9 1500.4,1153.6 1505.0,1154.5C1508.8,1154.3 1512.5,1152.7 1516.2,1152.5C1517.9,1152.4 1519.6,1154.9 1521.2,1155.0C1525.4,1155.2 1529.6,1172.9 1533.8,1173.8C1535.4,1174.1 1537.1,1174.6 1538.8,1174.2C1542.1,1173.6 1545.4,1168.8 1548.8,1168.2C1553.3,1168.9 1557.9,1174.4 1562.5,1175.0C1565.8,1174.1 1569.2,1166.6 1572.5,1165.5C1574.0,1165.0 1575.5,1164.5 1577.0,1165.0C1580.9,1166.2 1584.8,1181.5 1588.8,1182.5C1590.0,1182.8 1591.2,1184.1 1592.5,1183.8C1595.8,1182.9 1599.2,1177.8 1602.5,1176.2C1605.8,1174.7 1609.2,1175.3 1612.5,1174.5C1616.2,1173.6 1620.0,1171.6 1623.8,1171.2C1629.2,1173.0 1634.6,1187.9 1640.0,1189.5C1641.2,1189.9 1642.5,1190.4 1643.8,1190.0C1648.1,1188.8 1652.4,1179.8 1656.8,1178.8C1662.2,1179.3 1667.6,1183.7 1673.0,1184.2C1675.5,1183.6 1678.0,1180.6 1680.5,1177.5C1684.2,1172.9 1688.0,1165.5 1691.8,1161.2C1694.7,1158.0 1697.6,1158.0 1700.5,1155.0C1704.2,1151.1 1708.0,1142.1 1711.8,1140.5C1713.4,1139.8 1715.1,1141.8 1716.8,1142.5C1719.7,1143.8 1722.6,1156.6 1725.5,1158.2C1726.8,1158.9 1728.0,1158.7 1729.2,1158.0C1731.8,1156.6 1734.2,1141.8 1736.8,1132.5C1738.4,1126.3 1740.1,1116.2 1741.8,1111.2C1743.0,1107.5 1744.2,1106.7 1745.5,1106.2C1747.2,1106.8 1748.8,1108.5 1750.5,1112.5C1754.7,1122.5 1758.8,1146.0 1763.0,1148.2C1764.2,1148.9 1765.5,1149.4 1766.8,1148.8C1771.3,1146.2 1775.9,1127.3 1780.5,1117.5C1784.7,1108.6 1788.8,1100.2 1793.0,1092.5C1795.9,1087.1 1798.8,1083.8 1801.8,1078.0C1804.2,1073.0 1806.8,1061.4 1809.2,1060.0C1810.9,1059.1 1812.6,1060.3 1814.2,1061.2C1816.3,1062.4 1818.4,1083.2 1820.5,1092.5C1823.0,1103.6 1825.5,1113.8 1828.0,1122.5C1829.1,1126.3 1830.2,1129.3 1831.2,1130.0C1833.1,1129.5 1834.9,1127.8 1836.8,1125.0C1838.0,1123.1 1839.2,1116.4 1840.5,1115.8C1841.8,1115.1 1843.0,1114.3 1844.2,1115.0C1845.9,1115.9 1847.6,1121.1 1849.2,1126.2C1851.8,1134.0 1854.2,1146.5 1856.8,1153.8C1858.0,1157.4 1859.2,1158.3 1860.5,1158.8C1863.4,1158.4 1866.3,1155.8 1869.2,1155.5C1872.6,1157.2 1875.9,1173.1 1879.2,1173.8C1880.5,1174.0 1881.8,1176.5 1883.0,1176.2C1885.9,1175.7 1888.8,1171.7 1891.8,1171.2C1895.3,1172.4 1898.9,1182.1 1902.5,1183.2C1906.0,1181.8 1909.5,1167.7 1913.0,1167.5C1914.2,1167.4 1915.5,1164.9 1916.8,1165.0C1919.2,1165.1 1921.8,1166.1 1924.2,1166.2C1927.2,1165.1 1930.1,1155.1 1933.0,1153.8C1934.2,1153.2 1935.5,1153.2 1936.8,1153.8C1940.1,1155.3 1943.4,1164.9 1946.8,1167.5C1950.9,1170.7 1955.1,1170.0 1959.2,1171.2" stroke="#38a96c"/>
<path d="M847.0,1281.2C851.3,1281.1 855.7,1281.2 860.0,1280.8C865.4,1280.1 870.8,1276.9 876.2,1276.2C882.5,1275.5 888.8,1276.2 895.0,1275.5C900.8,1274.8 906.7,1270.8 912.5,1269.2C916.7,1268.1 920.8,1268.8 925.0,1267.5C931.7,1265.3 938.3,1263.8 945.0,1258.8C950.4,1254.6 955.8,1244.6 961.2,1240.0C964.6,1237.1 967.9,1239.1 971.2,1236.2C973.8,1234.1 976.2,1232.2 978.8,1225.0C982.5,1214.2 986.2,1193.3 990.0,1182.5C992.7,1174.8 995.3,1170.7 998.0,1169.5C1002.8,1170.8 1007.7,1182.4 1012.5,1183.8C1016.7,1183.1 1020.8,1177.6 1025.0,1177.0C1026.7,1177.4 1028.3,1177.0 1030.0,1181.2C1034.2,1191.9 1038.3,1215.6 1042.5,1225.0C1046.2,1233.5 1050.0,1231.2 1053.8,1235.0C1058.3,1239.6 1062.9,1248.6 1067.5,1250.0C1071.7,1249.0 1075.8,1242.0 1080.0,1238.8C1083.3,1236.2 1086.7,1237.1 1090.0,1232.5C1094.2,1226.7 1098.3,1215.1 1102.5,1207.5C1103.6,1205.5 1104.7,1204.1 1105.8,1203.8C1107.6,1204.1 1109.4,1204.4 1111.2,1207.5C1115.8,1215.2 1120.4,1233.6 1125.0,1236.2C1130.0,1235.7 1135.0,1230.6 1140.0,1230.0C1145.8,1230.9 1151.7,1238.4 1157.5,1239.5C1160.8,1240.1 1164.2,1238.1 1167.5,1237.5C1170.8,1236.9 1174.2,1229.4 1177.5,1221.2C1181.7,1211.1 1185.8,1193.5 1190.0,1182.5C1193.3,1173.7 1196.7,1163.6 1200.0,1161.8C1201.2,1161.1 1202.5,1161.1 1203.8,1161.8C1207.5,1163.8 1211.2,1182.9 1215.0,1188.8C1218.3,1194.0 1221.7,1190.5 1225.0,1195.0C1230.0,1201.8 1235.0,1220.4 1240.0,1222.5C1244.2,1224.2 1248.3,1224.1 1252.5,1224.2C1257.1,1222.3 1261.7,1206.0 1266.2,1203.8C1267.9,1202.9 1269.6,1204.7 1271.2,1205.5C1275.4,1207.6 1279.6,1237.6 1283.8,1250.0C1285.4,1255.0 1287.1,1256.8 1288.8,1257.5C1292.5,1257.0 1296.2,1252.5 1300.0,1252.0C1302.9,1252.0 1305.8,1252.5 1308.8,1252.5C1311.2,1251.6 1313.8,1249.3 1316.2,1242.5C1320.8,1230.1 1325.4,1212.8 1330.0,1195.0C1335.4,1174.0 1340.8,1146.8 1346.2,1126.2C1349.2,1115.2 1352.1,1109.9 1355.0,1100.0C1358.3,1088.7 1361.7,1073.1 1365.0,1062.5C1366.1,1059.1 1367.2,1058.4 1368.2,1058.0C1369.7,1058.7 1371.1,1058.7 1372.5,1065.0C1375.0,1076.1 1377.5,1097.1 1380.0,1110.0C1383.3,1127.1 1386.7,1143.3 1390.0,1155.0C1393.3,1166.7 1396.7,1171.5 1400.0,1180.0C1403.8,1189.6 1407.5,1202.9 1411.2,1209.5C1415.0,1216.1 1418.8,1215.8 1422.5,1219.5C1426.7,1223.6 1430.8,1232.2 1435.0,1233.0C1439.2,1233.8 1443.3,1233.0 1447.5,1233.8C1450.0,1234.2 1452.5,1240.4 1455.0,1245.0C1457.9,1250.4 1460.8,1262.2 1463.8,1263.8C1464.6,1264.2 1465.4,1265.9 1466.2,1265.5C1470.0,1263.5 1473.8,1252.2 1477.5,1247.5C1479.6,1244.9 1481.7,1244.8 1483.8,1243.8C1489.2,1241.0 1494.6,1237.0 1500.0,1236.2C1504.6,1236.8 1509.2,1241.0 1513.8,1242.5C1517.5,1243.7 1521.2,1242.5 1525.0,1244.5C1531.7,1248.1 1538.3,1269.4 1545.0,1272.5C1546.7,1273.3 1548.3,1275.0 1550.0,1274.2C1554.2,1272.3 1558.3,1257.8 1562.5,1257.0C1564.2,1256.7 1565.8,1255.9 1567.5,1256.2C1571.7,1257.1 1575.8,1261.9 1580.0,1263.8C1584.2,1265.6 1588.3,1267.2 1592.5,1267.5C1596.7,1266.9 1600.8,1261.4 1605.0,1260.8C1608.3,1261.0 1611.7,1263.5 1615.0,1263.8C1619.0,1262.9 1623.0,1255.8 1627.0,1255.0C1631.3,1255.9 1635.7,1263.6 1640.0,1264.5C1643.8,1263.4 1647.5,1254.1 1651.2,1253.0C1656.0,1254.8 1660.8,1270.7 1665.5,1272.5C1669.7,1270.5 1673.8,1252.5 1678.0,1251.2C1679.2,1250.9 1680.5,1249.6 1681.8,1250.0C1685.1,1251.0 1688.4,1257.9 1691.8,1258.8C1695.9,1257.8 1700.1,1248.8 1704.2,1248.8C1708.4,1248.8 1712.6,1248.8 1716.8,1248.8C1719.7,1248.8 1722.6,1242.7 1725.5,1237.5C1728.0,1233.1 1730.5,1226.9 1733.0,1220.0C1735.9,1211.9 1738.8,1201.5 1741.8,1192.5C1743.0,1188.6 1744.2,1181.9 1745.5,1181.2C1747.2,1180.3 1748.8,1181.6 1750.5,1182.5C1753.0,1183.9 1755.5,1199.6 1758.0,1207.5C1760.9,1216.7 1763.8,1231.3 1766.8,1233.8C1768.4,1233.4 1770.1,1233.8 1771.8,1230.0C1774.2,1224.4 1776.8,1214.3 1779.2,1205.0C1783.0,1191.0 1786.8,1172.4 1790.5,1160.0C1793.8,1149.0 1797.2,1143.3 1800.5,1135.0C1802.2,1130.8 1803.8,1123.4 1805.5,1122.5C1806.8,1121.8 1808.0,1120.6 1809.2,1121.2C1810.9,1122.2 1812.6,1129.5 1814.2,1137.5C1817.2,1151.6 1820.1,1175.2 1823.0,1187.5C1825.5,1198.1 1828.0,1204.5 1830.5,1206.2C1833.4,1206.0 1836.3,1204.0 1839.2,1203.8C1840.9,1203.6 1842.6,1206.1 1844.2,1206.2C1848.4,1206.6 1852.6,1229.9 1856.8,1231.8C1858.0,1232.3 1859.2,1232.5 1860.5,1232.0C1864.7,1230.2 1868.8,1217.3 1873.0,1215.5C1874.7,1214.8 1876.3,1216.3 1878.0,1217.0C1883.0,1219.2 1888.0,1248.7 1893.0,1251.2C1895.1,1252.3 1897.2,1253.1 1899.2,1252.0C1903.4,1249.8 1907.6,1234.7 1911.8,1232.5C1913.4,1231.6 1915.1,1231.1 1916.8,1232.0C1922.2,1234.8 1927.6,1255.0 1933.0,1257.5C1934.7,1258.3 1936.3,1258.8 1938.0,1258.0C1941.8,1256.3 1945.5,1243.9 1949.2,1242.5C1952.6,1243.4 1955.9,1249.2 1959.2,1252.5" stroke="#1a6de0"/>
<path d="M847.0,1375.0C853.8,1371.7 860.7,1365.9 867.5,1365.0C872.5,1365.3 877.5,1367.9 882.5,1368.2C887.5,1367.4 892.5,1359.6 897.5,1358.8C901.2,1358.9 905.0,1359.9 908.8,1360.0C915.0,1359.7 921.2,1359.9 927.5,1356.2C934.2,1352.4 940.8,1344.4 947.5,1337.5C951.7,1333.2 955.8,1326.3 960.0,1322.5C963.3,1319.5 966.7,1322.3 970.0,1317.0C972.9,1312.3 975.8,1301.5 978.8,1292.5C982.5,1280.9 986.2,1265.3 990.0,1255.0C992.1,1249.3 994.2,1245.2 996.2,1244.5C997.5,1244.1 998.8,1244.6 1000.0,1245.0C1004.2,1246.3 1008.3,1255.9 1012.5,1257.0C1016.7,1256.9 1020.8,1256.3 1025.0,1256.2C1026.7,1256.8 1028.3,1257.6 1030.0,1262.5C1035.0,1277.3 1040.0,1303.0 1045.0,1315.5C1048.3,1323.8 1051.7,1322.3 1055.0,1325.0C1059.6,1328.8 1064.2,1334.1 1068.8,1335.0C1074.2,1333.8 1079.6,1331.0 1085.0,1322.5C1090.0,1314.7 1095.0,1288.6 1100.0,1286.2C1101.7,1285.5 1103.3,1283.0 1105.0,1283.8C1110.0,1286.1 1115.0,1299.5 1120.0,1305.0C1124.2,1309.5 1128.3,1312.9 1132.5,1313.8C1136.2,1313.4 1140.0,1309.9 1143.8,1309.5C1148.8,1310.9 1153.8,1323.3 1158.8,1325.0C1160.0,1325.4 1161.2,1324.7 1162.5,1324.2C1167.1,1322.7 1171.7,1314.4 1176.2,1302.5C1179.6,1293.8 1182.9,1274.9 1186.2,1262.5C1189.2,1251.6 1192.1,1239.8 1195.0,1232.5C1197.1,1227.3 1199.2,1225.7 1201.2,1225.0C1203.8,1225.3 1206.2,1225.6 1208.8,1228.8C1210.8,1231.4 1212.9,1237.1 1215.0,1242.5C1219.2,1253.2 1223.3,1268.2 1227.5,1277.0C1230.8,1284.0 1234.2,1284.2 1237.5,1290.0C1241.4,1296.8 1245.3,1312.7 1249.2,1315.0C1253.7,1311.7 1258.1,1282.4 1262.5,1280.0C1263.8,1279.3 1265.0,1277.3 1266.2,1278.0C1267.9,1278.9 1269.6,1283.4 1271.2,1287.5C1275.0,1296.6 1278.8,1309.6 1282.5,1317.5C1286.2,1325.4 1290.0,1333.4 1293.8,1335.0C1299.2,1333.4 1304.6,1324.6 1310.0,1317.5C1314.2,1312.1 1318.3,1309.7 1322.5,1297.5C1324.6,1291.4 1326.7,1272.9 1328.8,1262.5C1331.7,1247.9 1334.6,1234.2 1337.5,1222.5C1340.8,1209.2 1344.2,1201.2 1347.5,1187.5C1350.8,1173.8 1354.2,1153.4 1357.5,1140.0C1359.8,1130.9 1362.0,1121.9 1364.2,1120.0C1365.5,1120.3 1366.8,1120.0 1368.0,1123.8C1370.3,1130.8 1372.7,1150.2 1375.0,1162.5C1377.5,1175.6 1380.0,1190.3 1382.5,1200.0C1387.5,1219.4 1392.5,1237.0 1397.5,1250.0C1403.8,1266.2 1410.0,1275.7 1416.2,1287.5C1421.7,1297.8 1427.1,1309.2 1432.5,1316.2C1436.7,1321.7 1440.8,1321.0 1445.0,1325.0C1448.8,1328.6 1452.5,1337.9 1456.2,1339.2C1459.2,1339.2 1462.1,1338.8 1465.0,1338.8C1467.9,1338.9 1470.8,1339.9 1473.8,1340.0C1477.1,1338.4 1480.4,1327.8 1483.8,1322.5C1484.8,1320.8 1485.9,1319.1 1487.0,1318.8C1488.4,1319.1 1489.8,1320.3 1491.2,1322.5C1494.2,1327.0 1497.1,1337.2 1500.0,1338.8C1503.8,1338.3 1507.5,1334.7 1511.2,1334.2C1515.8,1335.5 1520.4,1346.8 1525.0,1347.5C1528.3,1348.0 1531.7,1347.5 1535.0,1348.0C1538.8,1348.6 1542.5,1355.5 1546.2,1356.2C1550.8,1355.3 1555.4,1346.7 1560.0,1345.8C1564.6,1346.8 1569.2,1356.4 1573.8,1357.5C1579.2,1356.1 1584.6,1344.6 1590.0,1343.0C1591.7,1342.5 1593.3,1343.3 1595.0,1343.8C1599.8,1345.2 1604.7,1359.2 1609.5,1360.8C1614.2,1358.7 1619.0,1340.5 1623.8,1338.8C1625.0,1338.3 1626.2,1338.8 1627.5,1339.2C1630.8,1340.4 1634.2,1349.0 1637.5,1350.0C1641.2,1349.4 1645.0,1344.3 1648.8,1343.8C1652.7,1344.7 1656.6,1352.8 1660.5,1353.8C1664.2,1353.3 1668.0,1349.7 1671.8,1349.2C1676.8,1350.0 1681.8,1356.3 1686.8,1357.0C1688.8,1356.1 1690.9,1351.3 1693.0,1347.5C1697.2,1339.8 1701.3,1328.5 1705.5,1322.5C1708.8,1317.7 1712.2,1315.7 1715.5,1315.0C1718.8,1315.2 1722.2,1317.3 1725.5,1317.5C1727.6,1316.9 1729.7,1316.4 1731.8,1311.2C1735.1,1303.0 1738.4,1279.3 1741.8,1277.5C1743.0,1276.8 1744.2,1274.3 1745.5,1275.0C1748.8,1276.8 1752.2,1295.4 1755.5,1296.2C1756.8,1296.6 1758.0,1297.8 1759.2,1297.5C1761.8,1296.9 1764.2,1292.5 1766.8,1292.0C1770.1,1293.7 1773.4,1308.2 1776.8,1310.0C1778.0,1310.7 1779.2,1311.9 1780.5,1311.2C1782.2,1310.3 1783.8,1299.8 1785.5,1290.0C1788.0,1275.2 1790.5,1252.0 1793.0,1237.5C1795.1,1225.4 1797.2,1216.5 1799.2,1210.0C1801.3,1203.5 1803.4,1199.9 1805.5,1198.8C1807.2,1197.8 1808.8,1200.3 1810.5,1201.2C1812.2,1202.2 1813.8,1212.3 1815.5,1222.5C1818.4,1240.3 1821.3,1268.5 1824.2,1285.0C1826.3,1296.8 1828.4,1305.7 1830.5,1307.5C1833.4,1310.0 1836.3,1308.4 1839.2,1310.0C1843.4,1312.4 1847.6,1318.6 1851.8,1319.5C1855.9,1318.1 1860.1,1306.6 1864.2,1305.0C1865.5,1304.5 1866.8,1305.8 1868.0,1306.2C1871.8,1307.7 1875.5,1327.7 1879.2,1336.2C1880.5,1339.1 1881.8,1340.1 1883.0,1340.5C1885.9,1340.1 1888.8,1336.6 1891.8,1336.2C1895.5,1336.8 1899.2,1341.5 1903.0,1342.0C1906.3,1341.4 1909.7,1336.2 1913.0,1335.5C1914.2,1335.2 1915.5,1336.0 1916.8,1336.2C1921.3,1337.2 1925.9,1359.0 1930.5,1360.0C1932.6,1360.5 1934.7,1362.5 1936.8,1362.0C1939.7,1361.4 1942.6,1359.2 1945.5,1356.2C1950.1,1351.7 1954.7,1345.1 1959.2,1339.5" stroke="#ef4040"/>
<path d="M847.0,1458.0C848.8,1457.3 850.7,1456.4 852.5,1456.0C856.7,1455.1 860.8,1455.2 865.0,1454.2C868.8,1453.4 872.5,1450.8 876.2,1450.5C880.4,1450.6 884.6,1451.2 888.8,1451.2C893.3,1450.6 897.9,1446.3 902.5,1444.2C907.5,1442.0 912.5,1439.0 917.5,1438.5C921.7,1438.7 925.8,1440.3 930.0,1440.5C935.0,1438.9 940.0,1428.2 945.0,1423.0C948.3,1419.5 951.7,1416.8 955.0,1414.2C958.3,1411.8 961.7,1411.6 965.0,1408.0C967.5,1405.3 970.0,1402.2 972.5,1395.5C975.0,1388.8 977.5,1377.2 980.0,1368.0C982.5,1358.8 985.0,1346.8 987.5,1340.5C990.0,1334.2 992.5,1331.4 995.0,1330.5C996.7,1331.1 998.3,1334.1 1000.0,1336.8C1003.3,1342.1 1006.7,1353.1 1010.0,1354.8C1013.8,1354.0 1017.5,1347.6 1021.2,1346.8C1022.5,1346.5 1023.8,1347.7 1025.0,1348.0C1029.2,1349.0 1033.3,1372.4 1037.5,1383.0C1040.8,1391.5 1044.2,1399.9 1047.5,1405.5C1051.7,1412.4 1055.8,1420.1 1060.0,1420.5C1061.2,1420.6 1062.5,1421.9 1063.8,1421.8C1068.3,1421.3 1072.9,1419.8 1077.5,1418.0C1080.4,1416.9 1083.3,1417.4 1086.2,1413.0C1090.0,1407.4 1093.8,1395.3 1097.5,1388.0C1100.4,1382.3 1103.3,1375.6 1106.2,1374.2C1107.5,1373.7 1108.8,1374.4 1110.0,1375.0C1114.2,1376.9 1118.3,1388.3 1122.5,1391.8C1127.1,1395.5 1131.7,1395.2 1136.2,1396.8C1140.4,1398.1 1144.6,1399.0 1148.8,1400.5C1153.3,1402.1 1157.9,1405.5 1162.5,1406.0C1165.0,1405.6 1167.5,1405.5 1170.0,1401.8C1173.8,1396.2 1177.5,1390.7 1181.2,1378.0C1185.0,1365.3 1188.8,1337.9 1192.5,1325.5C1195.8,1314.4 1199.2,1309.2 1202.5,1307.5C1203.8,1307.8 1205.0,1307.8 1206.2,1310.5C1210.0,1318.8 1213.8,1333.8 1217.5,1340.5C1221.2,1347.2 1225.0,1343.4 1228.8,1350.5C1232.5,1357.6 1236.2,1374.7 1240.0,1383.0C1242.1,1387.6 1244.2,1388.6 1246.2,1389.2C1247.1,1389.5 1247.9,1389.5 1248.8,1389.2C1252.9,1387.9 1257.1,1373.4 1261.2,1371.8C1264.2,1372.3 1267.1,1374.3 1270.0,1378.0C1276.7,1386.4 1283.3,1399.8 1290.0,1408.0C1292.5,1411.1 1295.0,1411.4 1297.5,1411.8C1300.8,1411.2 1304.2,1409.0 1307.5,1405.5C1312.1,1400.7 1316.7,1395.9 1321.2,1386.8C1323.3,1382.6 1325.4,1375.5 1327.5,1365.5C1330.0,1353.5 1332.5,1333.8 1335.0,1320.5C1337.5,1307.2 1340.0,1293.0 1342.5,1285.5C1345.8,1275.5 1349.2,1275.6 1352.5,1268.0C1355.0,1262.3 1357.5,1252.8 1360.0,1245.5C1362.8,1237.4 1365.5,1224.0 1368.2,1221.8C1369.7,1222.6 1371.1,1223.7 1372.5,1230.5C1375.0,1242.5 1377.5,1263.0 1380.0,1278.0C1383.3,1298.0 1386.7,1322.2 1390.0,1335.5C1393.3,1348.8 1396.7,1350.2 1400.0,1358.0C1403.8,1366.7 1407.5,1378.8 1411.2,1385.0C1415.0,1391.2 1418.8,1391.2 1422.5,1395.5C1426.2,1399.8 1430.0,1410.2 1433.8,1411.0C1437.5,1411.8 1441.2,1411.0 1445.0,1411.8C1449.2,1412.6 1453.3,1424.7 1457.5,1426.0C1459.6,1426.7 1461.7,1428.2 1463.8,1427.5C1468.3,1426.0 1472.9,1414.9 1477.5,1414.2C1478.8,1414.1 1480.0,1414.1 1481.2,1414.2C1485.0,1414.8 1488.8,1418.8 1492.5,1419.2C1496.7,1418.3 1500.8,1410.4 1505.0,1409.2C1506.7,1408.8 1508.3,1408.8 1510.0,1409.2C1515.8,1410.8 1521.7,1418.4 1527.5,1424.2C1531.7,1428.4 1535.8,1437.8 1540.0,1439.2C1543.8,1438.4 1547.5,1431.5 1551.2,1430.5C1552.5,1430.2 1553.8,1430.7 1555.0,1431.0C1557.9,1431.8 1560.8,1441.2 1563.8,1442.5C1565.0,1443.0 1566.2,1442.3 1567.5,1441.8C1570.4,1440.5 1573.3,1427.6 1576.2,1426.0C1577.5,1425.3 1578.8,1427.3 1580.0,1428.0C1583.1,1429.7 1586.2,1451.3 1589.2,1453.0C1590.3,1453.6 1591.4,1453.1 1592.5,1452.5C1595.4,1450.9 1598.3,1437.6 1601.2,1436.0C1602.5,1435.3 1603.8,1437.3 1605.0,1438.0C1607.5,1439.4 1610.0,1449.1 1612.5,1450.5C1613.3,1451.0 1614.2,1453.0 1615.0,1452.5C1618.8,1450.4 1622.5,1424.4 1626.2,1423.5C1627.9,1423.1 1629.6,1422.6 1631.2,1423.0C1633.8,1423.6 1636.2,1428.0 1638.8,1428.5C1641.7,1428.5 1644.6,1428.0 1647.5,1428.0C1650.6,1429.9 1653.7,1442.4 1656.8,1448.0C1658.2,1450.6 1659.6,1452.1 1661.0,1452.5C1664.2,1451.7 1667.3,1445.4 1670.5,1444.2C1673.8,1443.0 1677.2,1444.2 1680.5,1443.0C1684.2,1441.6 1688.0,1427.1 1691.8,1425.5C1695.5,1425.8 1699.2,1428.2 1703.0,1428.5C1704.7,1427.9 1706.3,1425.0 1708.0,1421.8C1710.9,1416.1 1713.8,1403.6 1716.8,1401.8C1718.0,1402.1 1719.2,1404.1 1720.5,1405.5C1723.4,1408.8 1726.3,1415.0 1729.2,1416.0C1730.5,1415.0 1731.8,1412.0 1733.0,1405.5C1735.9,1390.2 1738.8,1363.9 1741.8,1350.5C1743.0,1344.8 1744.2,1345.3 1745.5,1344.8C1747.2,1346.2 1748.8,1353.7 1750.5,1360.5C1753.0,1370.7 1755.5,1394.2 1758.0,1395.5C1759.7,1396.4 1761.3,1398.9 1763.0,1398.0C1765.9,1396.5 1768.8,1388.0 1771.8,1384.2C1774.7,1380.5 1777.6,1380.0 1780.5,1375.5C1782.2,1372.9 1783.8,1369.1 1785.5,1363.0C1788.8,1350.8 1792.2,1334.3 1795.5,1320.5C1798.4,1308.4 1801.3,1294.5 1804.2,1285.5C1805.9,1280.3 1807.6,1278.7 1809.2,1278.0C1810.9,1279.9 1812.6,1288.0 1814.2,1298.0C1817.2,1315.5 1820.1,1343.0 1823.0,1360.5C1824.2,1368.0 1825.5,1370.8 1826.8,1373.0C1829.7,1378.2 1832.6,1377.6 1835.5,1383.0C1838.4,1388.4 1841.3,1399.6 1844.2,1405.5C1845.7,1408.4 1847.1,1408.9 1848.5,1409.2C1851.2,1408.0 1854.0,1397.0 1856.8,1395.5C1858.4,1394.6 1860.1,1394.6 1861.8,1395.5C1864.7,1397.1 1867.6,1416.7 1870.5,1424.2C1871.8,1427.5 1873.0,1427.7 1874.2,1428.0C1877.2,1426.6 1880.1,1414.6 1883.0,1413.0C1884.0,1412.5 1885.0,1410.0 1886.0,1410.5C1890.0,1412.7 1894.0,1431.7 1898.0,1433.0C1899.7,1433.6 1901.3,1433.6 1903.0,1433.0C1906.3,1431.9 1909.7,1424.1 1913.0,1423.0C1914.2,1422.6 1915.5,1422.6 1916.8,1423.0C1920.1,1424.1 1923.4,1436.8 1926.8,1438.0C1927.6,1438.3 1928.4,1438.8 1929.2,1438.5C1933.0,1437.2 1936.8,1429.7 1940.5,1426.8C1943.4,1424.5 1946.3,1424.8 1949.2,1423.0C1952.6,1421.0 1955.9,1418.0 1959.2,1415.5" stroke="#4d4d4d"/>
</g>
<text x="1988.0" y="226.0" font-size="31.25" text-anchor="middle" fill="#231f20">8</text>
<text x="1988.0" y="292.5" font-size="31.25" text-anchor="middle" fill="#231f20">7</text>
<text x="1988.0" y="370.0" font-size="31.25" text-anchor="middle" fill="#231f20">6</text>
<text x="1988.0" y="433.8" font-size="31.25" text-anchor="middle" fill="#231f20">5</text>
<text x="1988.0" y="521.5" font-size="31.25" text-anchor="middle" fill="#231f20">4</text>
<text x="1988.0" y="609.5" font-size="31.25" text-anchor="middle" fill="#231f20">3</text>
<text x="1988.0" y="686.0" font-size="31.25" text-anchor="middle" fill="#231f20">2</text>
<text x="1988.0" y="771.0" font-size="31.25" text-anchor="middle" fill="#231f20">1</text>
<text x="1988.0" y="1101.0" font-size="31.25" text-anchor="middle" fill="#231f20">5</text>
<text x="1988.0" y="1180.0" font-size="31.25" text-anchor="middle" fill="#231f20">4</text>
<text x="1988.0" y="1260.8" font-size="31.25" text-anchor="middle" fill="#231f20">3</text>
<text x="1988.0" y="1348.8" font-size="31.25" text-anchor="middle" fill="#231f20">2</text>
<text x="1988.0" y="1424.2" font-size="31.25" text-anchor="middle" fill="#231f20">1</text>
<text x="711.0" y="37.5" font-size="35" text-anchor="start" fill="#231f20" font-weight="bold">c</text>
<text x="711.0" y="816.0" font-size="35" text-anchor="start" fill="#231f20" font-weight="bold">d</text>
<text x="926.3" y="70.5" font-size="27" text-anchor="start" fill="#000"><tspan font-size="32.9">ν</tspan><tspan font-size="20.2" dy="10.8">a</tspan><tspan dy="-10.8">(SNS)</tspan></text>
<line x1="991.2" y1="78.8" x2="991.2" y2="117.5" stroke="#6d6e70" stroke-width="3" stroke-linecap="butt"/>
<text x="1033.6" y="25.4" font-size="27" text-anchor="start" fill="#000"><tspan font-size="32.9">ν</tspan><tspan font-size="20.2" dy="10.8">a</tspan><tspan dy="-10.8">(COC)</tspan><tspan font-size="33" dy="-2.5">*</tspan><tspan font-size="33" font-weight="bold" dy="3.5">+</tspan></text>
<path d="M1105.6,33.7 V152.5 M1031.25,142 V125 H1133 V155" fill="none" stroke="#6d6e70" stroke-width="3"/>
<text x="1163.7" y="65.5" font-size="27" text-anchor="start" fill="#000"><tspan font-size="32.9">ν</tspan><tspan font-size="20.2" dy="10.8">s</tspan><tspan dy="-10.8">(SO<tspan font-size="20.2" dy="10.8">2</tspan><tspan dy="-10.8">)</tspan></tspan></text>
<line x1="1200.8" y1="77.0" x2="1200.8" y2="98.0" stroke="#6d6e70" stroke-width="3" stroke-linecap="butt"/>
<text x="1314.2" y="19.3" font-size="27" text-anchor="start" fill="#000"><tspan font-size="32.9">ν</tspan><tspan font-size="20.2" dy="10.8">a</tspan><tspan dy="-10.8">(CF<tspan font-size="20.2" dy="10.8">3</tspan><tspan dy="-10.8">)</tspan></tspan></text>
<line x1="1360.0" y1="26.2" x2="1360.0" y2="43.0" stroke="#6d6e70" stroke-width="3" stroke-linecap="butt"/>
<text x="1641.8" y="68.8" font-size="27" text-anchor="start" fill="#000"><tspan font-size="32.9">ν</tspan><tspan font-size="20.2" dy="10.8">a</tspan><tspan font-size="20.2" dy="-22.1">op</tspan><tspan dy="11.3">(SO<tspan font-size="20.2" dy="10.8">2</tspan><tspan dy="-10.8">)</tspan></tspan></text>
<line x1="1743.8" y1="90.0" x2="1743.8" y2="158.8" stroke="#6d6e70" stroke-width="3" stroke-linecap="butt"/>
<text x="1798.5" y="68.8" font-size="27" text-anchor="start" fill="#000"><tspan font-size="32.9">ν</tspan><tspan font-size="20.2" dy="10.8">a</tspan><tspan font-size="20.2" dy="-22.1">ip</tspan><tspan dy="11.3">(SO<tspan font-size="20.2" dy="10.8">2</tspan><tspan dy="-10.8">)</tspan></tspan></text>
<line x1="1807.2" y1="81.2" x2="1807.2" y2="118.8" stroke="#6d6e70" stroke-width="3" stroke-linecap="butt"/>
<text x="12.3" y="1601.0" font-size="35" text-anchor="start" fill="#231f20" font-weight="bold">e</text>
<rect x="157" y="1788.9" width="838" height="117" fill="#ebe9e6"/>
<rect x="1131" y="1809" width="850" height="77.5" fill="#ebe9e6"/>
<line x1="155.1" y1="1671.3" x2="155.1" y2="2024.0" stroke="#000" stroke-width="3.9" stroke-linecap="butt"/>
<line x1="153.2" y1="2022.0" x2="996.0" y2="2022.0" stroke="#000" stroke-width="3.9" stroke-linecap="butt"/>
<line x1="134.6" y1="1673.3" x2="155.1" y2="1673.3" stroke="#000" stroke-width="3.9" stroke-linecap="butt"/>
<text x="120.0" y="1683.6" font-size="31.25" text-anchor="end" fill="#000">100</text>
<line x1="134.6" y1="1760.4" x2="155.1" y2="1760.4" stroke="#000" stroke-width="3.9" stroke-linecap="butt"/>
<text x="120.0" y="1770.7" font-size="31.25" text-anchor="end" fill="#000">50</text>
<line x1="134.6" y1="1847.6" x2="155.1" y2="1847.6" stroke="#000" stroke-width="3.9" stroke-linecap="butt"/>
<text x="120.0" y="1857.9" font-size="31.25" text-anchor="end" fill="#000">0</text>
<line x1="134.6" y1="1934.8" x2="155.1" y2="1934.8" stroke="#000" stroke-width="3.9" stroke-linecap="butt"/>
<text x="120.0" y="1945.0" font-size="31.25" text-anchor="end" fill="#000">-50</text>
<line x1="134.6" y1="2021.9" x2="155.1" y2="2021.9" stroke="#000" stroke-width="3.9" stroke-linecap="butt"/>
<text x="120.0" y="2032.2" font-size="31.25" text-anchor="end" fill="#000">-100</text>
<line x1="207.6" y1="2022.0" x2="207.6" y2="2042.4" stroke="#000" stroke-width="3.9" stroke-linecap="butt"/>
<text x="207.6" y="2079.8" font-size="31.25" text-anchor="middle" fill="#000">1</text>
<line x1="312.6" y1="2022.0" x2="312.6" y2="2042.4" stroke="#000" stroke-width="3.9" stroke-linecap="butt"/>
<text x="312.6" y="2079.8" font-size="31.25" text-anchor="middle" fill="#000">2</text>
<line x1="417.6" y1="2022.0" x2="417.6" y2="2042.4" stroke="#000" stroke-width="3.9" stroke-linecap="butt"/>
<text x="417.6" y="2079.8" font-size="31.25" text-anchor="middle" fill="#000">3</text>
<line x1="522.6" y1="2022.0" x2="522.6" y2="2042.4" stroke="#000" stroke-width="3.9" stroke-linecap="butt"/>
<text x="522.6" y="2079.8" font-size="31.25" text-anchor="middle" fill="#000">4</text>
<line x1="627.6" y1="2022.0" x2="627.6" y2="2042.4" stroke="#000" stroke-width="3.9" stroke-linecap="butt"/>
<text x="627.6" y="2079.8" font-size="31.25" text-anchor="middle" fill="#000">5</text>
<line x1="732.6" y1="2022.0" x2="732.6" y2="2042.4" stroke="#000" stroke-width="3.9" stroke-linecap="butt"/>
<text x="732.6" y="2079.8" font-size="31.25" text-anchor="middle" fill="#000">6</text>
<line x1="837.6" y1="2022.0" x2="837.6" y2="2042.4" stroke="#000" stroke-width="3.9" stroke-linecap="butt"/>
<text x="837.6" y="2079.8" font-size="31.25" text-anchor="middle" fill="#000">7</text>
<line x1="942.6" y1="2022.0" x2="942.6" y2="2042.4" stroke="#000" stroke-width="3.9" stroke-linecap="butt"/>
<text x="942.6" y="2079.8" font-size="31.25" text-anchor="middle" fill="#000">8</text>
<text transform="translate(35.5,1867.6) rotate(-90)" font-size="31.25" text-anchor="middle" fill="#000">% Diff. from Mean Peak Value</text>
<text x="575.0" y="2126.3" font-size="31.25" text-anchor="middle" fill="#000">Location Index</text>
<line x1="1129.8" y1="2022.0" x2="1992.2" y2="2022.0" stroke="#000" stroke-width="3.9" stroke-linecap="butt"/>
<line x1="1990.2" y1="1671.3" x2="1990.2" y2="2024.0" stroke="#000" stroke-width="3.9" stroke-linecap="butt"/>
<line x1="1990.2" y1="1673.3" x2="2011.0" y2="1673.3" stroke="#000" stroke-width="3.9" stroke-linecap="butt"/>
<line x1="1990.2" y1="1760.4" x2="2011.0" y2="1760.4" stroke="#000" stroke-width="3.9" stroke-linecap="butt"/>
<line x1="1990.2" y1="1847.6" x2="2011.0" y2="1847.6" stroke="#000" stroke-width="3.9" stroke-linecap="butt"/>
<line x1="1990.2" y1="1934.8" x2="2011.0" y2="1934.8" stroke="#000" stroke-width="3.9" stroke-linecap="butt"/>
<line x1="1990.2" y1="2021.9" x2="2011.0" y2="2021.9" stroke="#000" stroke-width="3.9" stroke-linecap="butt"/>
<line x1="1216.1" y1="2022.0" x2="1216.1" y2="2042.4" stroke="#000" stroke-width="3.9" stroke-linecap="butt"/>
<text x="1216.1" y="2079.8" font-size="31.25" text-anchor="middle" fill="#000">1</text>
<line x1="1387.4" y1="2022.0" x2="1387.4" y2="2042.4" stroke="#000" stroke-width="3.9" stroke-linecap="butt"/>
<text x="1387.4" y="2079.8" font-size="31.25" text-anchor="middle" fill="#000">2</text>
<line x1="1558.7" y1="2022.0" x2="1558.7" y2="2042.4" stroke="#000" stroke-width="3.9" stroke-linecap="butt"/>
<text x="1558.7" y="2079.8" font-size="31.25" text-anchor="middle" fill="#000">3</text>
<line x1="1730.0" y1="2022.0" x2="1730.0" y2="2042.4" stroke="#000" stroke-width="3.9" stroke-linecap="butt"/>
<text x="1730.0" y="2079.8" font-size="31.25" text-anchor="middle" fill="#000">4</text>
<line x1="1901.3" y1="2022.0" x2="1901.3" y2="2042.4" stroke="#000" stroke-width="3.9" stroke-linecap="butt"/>
<text x="1901.3" y="2079.8" font-size="31.25" text-anchor="middle" fill="#000">5</text>
<text x="1560.0" y="2126.3" font-size="31.25" text-anchor="middle" fill="#000">Location Index</text>
<rect x="201.3" y="1847.3" width="12.6" height="12.6" fill="#1a1a1a"/>
<rect x="306.3" y="1826.7" width="12.6" height="12.6" fill="#1a1a1a"/>
<rect x="411.3" y="1898.5" width="12.6" height="12.6" fill="#1a1a1a"/>
<rect x="516.3" y="1857.7" width="12.6" height="12.6" fill="#1a1a1a"/>
<rect x="621.3" y="1869.7" width="12.6" height="12.6" fill="#1a1a1a"/>
<rect x="726.3" y="1814.4" width="12.6" height="12.6" fill="#1a1a1a"/>
<rect x="831.3" y="1793.0" width="12.6" height="12.6" fill="#1a1a1a"/>
<rect x="936.3" y="1821.1" width="12.6" height="12.6" fill="#1a1a1a"/>
<rect x="1209.8" y="1821.1" width="12.6" height="12.6" fill="#1a1a1a"/>
<rect x="1381.1" y="1823.0" width="12.6" height="12.6" fill="#1a1a1a"/>
<rect x="1552.4" y="1842.4" width="12.6" height="12.6" fill="#1a1a1a"/>
<rect x="1723.7" y="1843.5" width="12.6" height="12.6" fill="#1a1a1a"/>
<rect x="1895.0" y="1878.3" width="12.6" height="12.6" fill="#1a1a1a"/>
<circle cx="207.6" cy="1836.0" r="7" fill="#dd9d1c"/>
<circle cx="312.6" cy="1840.5" r="7" fill="#dd9d1c"/>
<circle cx="417.6" cy="1855.4" r="7" fill="#dd9d1c"/>
<circle cx="522.6" cy="1794.9" r="7" fill="#dd9d1c"/>
<circle cx="627.6" cy="1889.0" r="7" fill="#dd9d1c"/>
<circle cx="732.6" cy="1854.7" r="7" fill="#dd9d1c"/>
<circle cx="837.6" cy="1852.8" r="7" fill="#dd9d1c"/>
<circle cx="942.6" cy="1858.4" r="7" fill="#dd9d1c"/>
<circle cx="1216.1" cy="1830.0" r="7" fill="#dd9d1c"/>
<circle cx="1387.4" cy="1822.9" r="7" fill="#dd9d1c"/>
<circle cx="1558.7" cy="1842.4" r="7" fill="#dd9d1c"/>
<circle cx="1730.0" cy="1874.1" r="7" fill="#dd9d1c"/>
<circle cx="1901.3" cy="1867.4" r="7" fill="#dd9d1c"/>
<path d="M199.4,1838.6 L215.8,1838.6 L207.6,1824.8 Z" fill="#62aed8"/>
<path d="M304.4,1885.3 L320.8,1885.3 L312.6,1871.5 Z" fill="#62aed8"/>
<path d="M409.4,1800.5 L425.8,1800.5 L417.6,1786.7 Z" fill="#62aed8"/>
<path d="M514.4,1801.2 L530.8,1801.2 L522.6,1787.4 Z" fill="#62aed8"/>
<path d="M619.4,1864.0 L635.8,1864.0 L627.6,1850.2 Z" fill="#62aed8"/>
<path d="M724.4,1852.8 L740.8,1852.8 L732.6,1839.0 Z" fill="#62aed8"/>
<path d="M829.4,1915.3 L845.8,1915.3 L837.6,1901.5 Z" fill="#62aed8"/>
<path d="M934.4,1859.2 L950.8,1859.2 L942.6,1845.4 Z" fill="#62aed8"/>
<path d="M1207.9,1844.2 L1224.3,1844.2 L1216.1,1830.4 Z" fill="#62aed8"/>
<path d="M1379.2,1844.2 L1395.6,1844.2 L1387.4,1830.4 Z" fill="#62aed8"/>
<path d="M1550.5,1874.9 L1566.9,1874.9 L1558.7,1861.1 Z" fill="#62aed8"/>
<path d="M1721.8,1822.9 L1738.2,1822.9 L1730.0,1809.1 Z" fill="#62aed8"/>
<path d="M1893.1,1873.0 L1909.5,1873.0 L1901.3,1859.2 Z" fill="#62aed8"/>
<path d="M199.4,1864.8 L215.8,1864.8 L207.6,1878.6 Z" fill="#229f78"/>
<path d="M304.4,1815.4 L320.8,1815.4 L312.6,1829.2 Z" fill="#229f78"/>
<path d="M409.4,1892.8 L425.8,1892.8 L417.6,1906.6 Z" fill="#229f78"/>
<path d="M514.4,1830.4 L530.8,1830.4 L522.6,1844.2 Z" fill="#229f78"/>
<path d="M619.4,1890.2 L635.8,1890.2 L627.6,1904.0 Z" fill="#229f78"/>
<path d="M724.4,1822.9 L740.8,1822.9 L732.6,1836.7 Z" fill="#229f78"/>
<path d="M829.4,1811.7 L845.8,1811.7 L837.6,1825.5 Z" fill="#229f78"/>
<path d="M934.4,1810.2 L950.8,1810.2 L942.6,1824.0 Z" fill="#229f78"/>
<path d="M1207.9,1834.1 L1224.3,1834.1 L1216.1,1847.9 Z" fill="#229f78"/>
<path d="M1379.2,1821.8 L1395.6,1821.8 L1387.4,1835.6 Z" fill="#229f78"/>
<path d="M1550.5,1843.1 L1566.9,1843.1 L1558.7,1856.9 Z" fill="#229f78"/>
<path d="M1721.8,1838.6 L1738.2,1838.6 L1730.0,1852.4 Z" fill="#229f78"/>
<path d="M1893.1,1876.0 L1909.5,1876.0 L1901.3,1889.8 Z" fill="#229f78"/>
<path d="M199.0,1859.2 L207.6,1850.6 L216.2,1859.2 L207.6,1867.8 Z" fill="#e4d852"/>
<path d="M304.0,1826.3 L312.6,1817.7 L321.2,1826.3 L312.6,1834.9 Z" fill="#e4d852"/>
<path d="M409.0,1834.1 L417.6,1825.5 L426.2,1834.1 L417.6,1842.7 Z" fill="#e4d852"/>
<path d="M514.0,1848.0 L522.6,1839.4 L531.2,1848.0 L522.6,1856.6 Z" fill="#e4d852"/>
<path d="M619.0,1848.7 L627.6,1840.1 L636.2,1848.7 L627.6,1857.3 Z" fill="#e4d852"/>
<path d="M724.0,1837.5 L732.6,1828.9 L741.2,1837.5 L732.6,1846.1 Z" fill="#e4d852"/>
<path d="M829.0,1894.0 L837.6,1885.4 L846.2,1894.0 L837.6,1902.6 Z" fill="#e4d852"/>
<path d="M934.0,1834.1 L942.6,1825.5 L951.2,1834.1 L942.6,1842.7 Z" fill="#e4d852"/>
<path d="M1207.5,1821.8 L1216.1,1813.2 L1224.7,1821.8 L1216.1,1830.4 Z" fill="#e4d852"/>
<path d="M1378.8,1846.1 L1387.4,1837.5 L1396.0,1846.1 L1387.4,1854.7 Z" fill="#e4d852"/>
<path d="M1550.1,1839.7 L1558.7,1831.1 L1567.3,1839.7 L1558.7,1848.3 Z" fill="#e4d852"/>
<path d="M1721.4,1855.4 L1730.0,1846.8 L1738.6,1855.4 L1730.0,1864.0 Z" fill="#e4d852"/>
<path d="M1892.7,1876.0 L1901.3,1867.4 L1909.9,1876.0 L1901.3,1884.6 Z" fill="#e4d852"/>
<path d="M213.8,1874.0 L213.8,1890.8 L199.0,1882.4 Z" fill="#1f78ae"/>
<path d="M318.8,1824.6 L318.8,1841.4 L304.0,1833.0 Z" fill="#1f78ae"/>
<path d="M423.8,1867.6 L423.8,1884.4 L409.0,1876.0 Z" fill="#1f78ae"/>
<path d="M528.8,1830.2 L528.8,1847.0 L514.0,1838.6 Z" fill="#1f78ae"/>
<path d="M633.8,1871.3 L633.8,1888.1 L619.0,1879.7 Z" fill="#1f78ae"/>
<path d="M738.8,1807.0 L738.8,1823.8 L724.0,1815.4 Z" fill="#1f78ae"/>
<path d="M843.8,1814.5 L843.8,1831.3 L829.0,1822.9 Z" fill="#1f78ae"/>
<path d="M948.8,1821.6 L948.8,1838.4 L934.0,1830.0 Z" fill="#1f78ae"/>
<path d="M1222.3,1816.0 L1222.3,1832.8 L1207.5,1824.4 Z" fill="#1f78ae"/>
<path d="M1393.6,1821.6 L1393.6,1838.4 L1378.8,1830.0 Z" fill="#1f78ae"/>
<path d="M1564.9,1836.6 L1564.9,1853.4 L1550.1,1845.0 Z" fill="#1f78ae"/>
<path d="M1736.2,1857.5 L1736.2,1874.3 L1721.4,1865.9 Z" fill="#1f78ae"/>
<path d="M1907.5,1863.9 L1907.5,1880.7 L1892.7,1872.3 Z" fill="#1f78ae"/>
<rect x="487.4" y="1668.9" width="1133.3" height="69.9" fill="#fff" stroke="#58595b" stroke-width="1.5"/>
<rect x="528.7" y="1698.9" width="12.6" height="12.6" fill="#1a1a1a"/>
<text x="554.4" y="1711.7" font-size="27" text-anchor="start" fill="#000"><tspan font-size="32.9">ν</tspan><tspan font-size="20.2" dy="10.8">a</tspan><tspan dy="-10.8">(SNS)</tspan></text>
<circle cx="703.0" cy="1702.4" r="7" fill="#dd9d1c"/>
<text x="722.2" y="1711.7" font-size="27" text-anchor="start" fill="#000"><tspan font-size="32.9">ν</tspan><tspan font-size="20.2" dy="10.8">a</tspan><tspan dy="-10.8">(COC)</tspan><tspan font-size="33" dy="-2.5">*</tspan></text>
<path d="M899.8,1708.1 L916.2,1708.1 L908.0,1694.3 Z" fill="#62aed8"/>
<text x="926.7" y="1711.7" font-size="27" text-anchor="start" fill="#000"><tspan font-size="32.9">ν</tspan><tspan font-size="20.2" dy="10.8">s</tspan><tspan dy="-10.8">(SO<tspan font-size="20.2" dy="10.8">2</tspan><tspan dy="-10.8">)</tspan></tspan></text>
<path d="M1071.8,1697.4 L1088.2,1697.4 L1080.0,1711.2 Z" fill="#229f78"/>
<text x="1099.9" y="1711.7" font-size="27" text-anchor="start" fill="#000"><tspan font-size="32.9">ν</tspan><tspan font-size="20.2" dy="10.8">a</tspan><tspan dy="-10.8">(CF<tspan font-size="20.2" dy="10.8">3</tspan><tspan dy="-10.8">)</tspan></tspan></text>
<path d="M1239.0,1702.5 L1247.6,1693.9 L1256.2,1702.5 L1247.6,1711.1 Z" fill="#e4d852"/>
<text x="1267.0" y="1711.7" font-size="27" text-anchor="start" fill="#000"><tspan font-size="32.9">ν</tspan><tspan font-size="20.2" dy="10.8">a</tspan><tspan font-size="20.2" dy="-22.1">op</tspan><tspan dy="11.3">(SO<tspan font-size="20.2" dy="10.8">2</tspan><tspan dy="-10.8">)</tspan></tspan></text>
<path d="M1458.7,1694.1 L1458.7,1710.9 L1443.9,1702.5 Z" fill="#1f78ae"/>
<text x="1471.2" y="1711.7" font-size="27" text-anchor="start" fill="#000"><tspan font-size="32.9">ν</tspan><tspan font-size="20.2" dy="10.8">a</tspan><tspan font-size="20.2" dy="-22.1">ip</tspan><tspan dy="11.3">(SO<tspan font-size="20.2" dy="10.8">2</tspan><tspan dy="-10.8">)</tspan></tspan></text>
</svg>
</body></html>
